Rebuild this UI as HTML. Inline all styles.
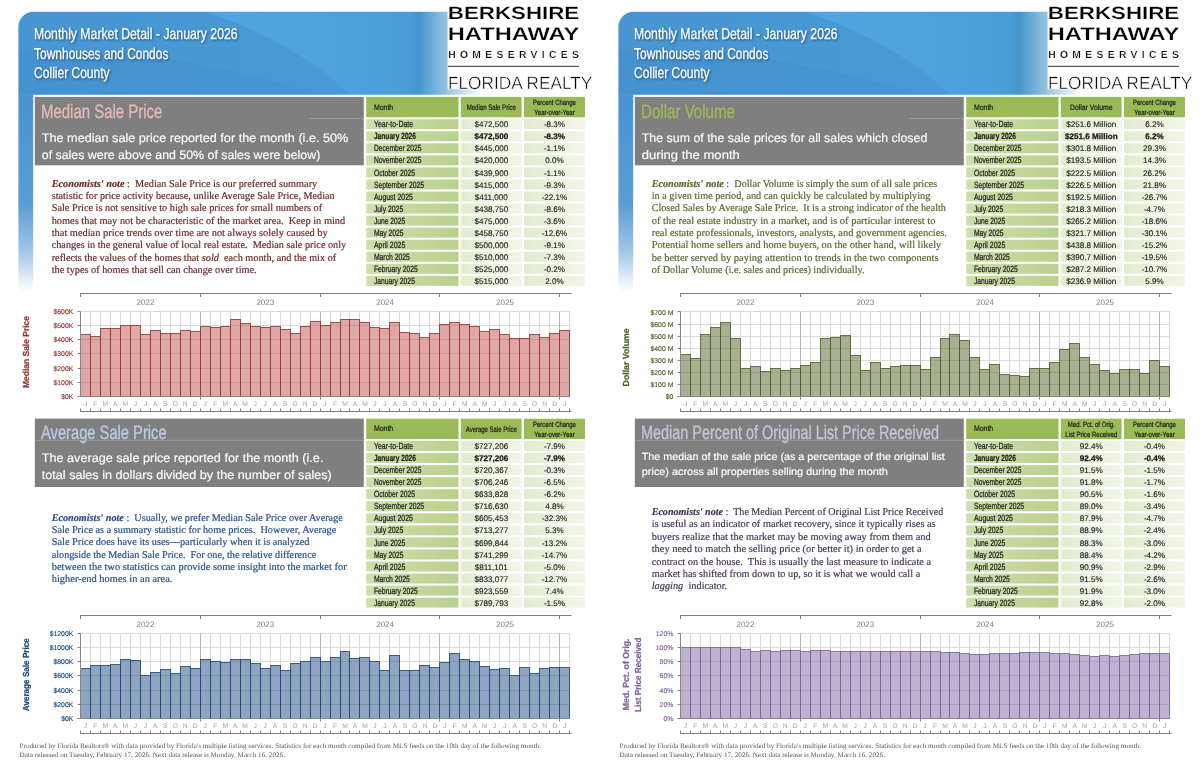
<!DOCTYPE html>
<html lang="en"><head><meta charset="utf-8"><title>Monthly Market Detail - January 2026 - Townhouses and Condos - Collier County</title>
<style>html,body{margin:0;padding:0;background:#fff;}body{width:1200px;height:776px;overflow:hidden;font-family:"Liberation Sans",sans-serif;}svg{display:block;}text{white-space:pre;}</style>
</head><body>
<svg width="1200" height="776" viewBox="0 0 1200 776" text-rendering="geometricPrecision">
<defs>
<linearGradient id="gm" x1="0" y1="0" x2="1" y2="0"><stop offset="0" stop-color="#CEDFAC"/><stop offset="1" stop-color="#BAD08D"/></linearGradient>
<linearGradient id="gc" x1="0" y1="0" x2="1" y2="0"><stop offset="0" stop-color="#E2EBCF"/><stop offset="1" stop-color="#F2F6E9"/></linearGradient>
<filter id="blur" x="-5%" y="-30%" width="110%" height="160%"><feGaussianBlur stdDeviation="0.8"/></filter>
<linearGradient id="gva" gradientUnits="userSpaceOnUse" x1="0" y1="94.7" x2="0" y2="292"><stop offset="0" stop-color="#4A94D0"/><stop offset="0.55" stop-color="#5A9CD4"/><stop offset="0.78" stop-color="#9DC3E6"/><stop offset="0.92" stop-color="#DCE8F5"/><stop offset="1" stop-color="#FFFFFF"/></linearGradient>
<linearGradient id="gha" gradientUnits="userSpaceOnUse" x1="18.4" y1="0" x2="482" y2="0"><stop offset="0" stop-color="#4A98D4"/><stop offset="0.6074" stop-color="#4B9DD8"/><stop offset="0.8425" stop-color="#4A9CD6"/><stop offset="0.8641" stop-color="#4596CC"/><stop offset="0.9258" stop-color="#9AC7E1"/><stop offset="1" stop-color="#FFFFFF"/></linearGradient>
<linearGradient id="gsa" gradientUnits="userSpaceOnUse" x1="230" y1="0" x2="415" y2="0"><stop offset="0" stop-color="#55AEE8" stop-opacity="0.55"/><stop offset="0.5" stop-color="#55AEE8" stop-opacity="0.3"/><stop offset="1" stop-color="#55AEE8" stop-opacity="0"/></linearGradient>
<linearGradient id="gda" gradientUnits="userSpaceOnUse" x1="0" y1="11.8" x2="0" y2="94.7"><stop offset="0" stop-color="#4A9BD6" stop-opacity="0"/><stop offset="1" stop-color="#3F86C4" stop-opacity="0.0"/></linearGradient>
<clipPath id="cpa"><path d="M18.4 94.7 V27 a15.2 15.2 0 0 1 15.2 -15.2 H447.6 V94.7 Z"/></clipPath>
<linearGradient id="gvb" gradientUnits="userSpaceOnUse" x1="0" y1="94.7" x2="0" y2="292"><stop offset="0" stop-color="#4A94D0"/><stop offset="0.55" stop-color="#5A9CD4"/><stop offset="0.78" stop-color="#9DC3E6"/><stop offset="0.92" stop-color="#DCE8F5"/><stop offset="1" stop-color="#FFFFFF"/></linearGradient>
<linearGradient id="ghb" gradientUnits="userSpaceOnUse" x1="618.4" y1="0" x2="1082" y2="0"><stop offset="0" stop-color="#4A98D4"/><stop offset="0.6074" stop-color="#4B9DD8"/><stop offset="0.8425" stop-color="#4A9CD6"/><stop offset="0.8641" stop-color="#4596CC"/><stop offset="0.9258" stop-color="#9AC7E1"/><stop offset="1" stop-color="#FFFFFF"/></linearGradient>
<linearGradient id="gsb" gradientUnits="userSpaceOnUse" x1="830" y1="0" x2="1015" y2="0"><stop offset="0" stop-color="#55AEE8" stop-opacity="0.55"/><stop offset="0.5" stop-color="#55AEE8" stop-opacity="0.3"/><stop offset="1" stop-color="#55AEE8" stop-opacity="0"/></linearGradient>
<linearGradient id="gdb" gradientUnits="userSpaceOnUse" x1="0" y1="11.8" x2="0" y2="94.7"><stop offset="0" stop-color="#4A9BD6" stop-opacity="0"/><stop offset="1" stop-color="#3F86C4" stop-opacity="0.0"/></linearGradient>
<clipPath id="cpb"><path d="M618.4 94.7 V27 a15.2 15.2 0 0 1 15.2 -15.2 H1047.6 V94.7 Z"/></clipPath>
</defs>
<rect x="0.00" y="0.00" width="1200.00" height="776.00" fill="#FFFFFF" />
<g opacity="0.999">
<rect x="18.4" y="94.2" width="14.8" height="198" fill="url(#gva)"/>
<path d="M18.4 94.7 V27 a15.2 15.2 0 0 1 15.2 -15.2 H482 V94.7 Z" fill="url(#gha)"/>
<path d="M18.4 94.7 V27 a15.2 15.2 0 0 1 15.2 -15.2 H482 V94.7 Z" fill="url(#gda)"/>
<path d="M205 11.8 C262 30 318 62 349 94.7 H440 V11.8 Z" fill="url(#gsa)" clip-path="url(#cpa)"/>
<path d="M18.4 11.8 H205 C262 30 318 62 349 94.7 H18.4 Z" fill="#3F86C6" opacity="0.16" clip-path="url(#cpa)"/>
<path d="M18.4 50 C120 48 250 68 312 94.7 H18.4 Z" fill="#3C7FBE" opacity="0.14" clip-path="url(#cpa)"/>
<text x="35.10" y="40.10" font-family='"Liberation Sans", sans-serif' font-size="15.6" fill="#173F6B" textLength="203.50" lengthAdjust="spacingAndGlyphs" opacity="0.75" stroke="#173F6B" stroke-width="0.5" filter="url(#blur)">Monthly Market Detail - January 2026</text>
<text x="34.10" y="38.80" font-family='"Liberation Sans", sans-serif' font-size="15.6" fill="#FFFFFF" textLength="203.50" lengthAdjust="spacingAndGlyphs" stroke="#FFFFFF" stroke-width="0.3">Monthly Market Detail - January 2026</text>
<text x="35.10" y="60.00" font-family='"Liberation Sans", sans-serif' font-size="15.6" fill="#173F6B" textLength="134.30" lengthAdjust="spacingAndGlyphs" opacity="0.75" stroke="#173F6B" stroke-width="0.5" filter="url(#blur)">Townhouses and Condos</text>
<text x="34.10" y="58.70" font-family='"Liberation Sans", sans-serif' font-size="15.6" fill="#FFFFFF" textLength="134.30" lengthAdjust="spacingAndGlyphs" stroke="#FFFFFF" stroke-width="0.3">Townhouses and Condos</text>
<text x="35.10" y="79.30" font-family='"Liberation Sans", sans-serif' font-size="15.6" fill="#173F6B" textLength="75.50" lengthAdjust="spacingAndGlyphs" opacity="0.75" stroke="#173F6B" stroke-width="0.5" filter="url(#blur)">Collier County</text>
<text x="34.10" y="78.00" font-family='"Liberation Sans", sans-serif' font-size="15.6" fill="#FFFFFF" textLength="75.50" lengthAdjust="spacingAndGlyphs" stroke="#FFFFFF" stroke-width="0.3">Collier County</text>
<rect x="447.60" y="0.00" width="152.40" height="89.20" fill="#FFFFFF" />
<text x="447.80" y="19.10" font-family='"Liberation Sans", sans-serif' font-size="17.8" fill="#000" font-weight="bold" textLength="131.40" lengthAdjust="spacingAndGlyphs" stroke="#fff" stroke-width="0.22">BERKSHIRE</text>
<text x="447.80" y="40.10" font-family='"Liberation Sans", sans-serif' font-size="18.2" fill="#000" font-weight="bold" textLength="131.40" lengthAdjust="spacingAndGlyphs" stroke="#fff" stroke-width="0.22">HATHAWAY</text>
<text x="448.20" y="57.80" font-family='"Liberation Sans", sans-serif' font-size="10.3" font-weight="bold" fill="#000" textLength="130.6" lengthAdjust="spacing" stroke="#fff" stroke-width="0.25">HOMESERVICES</text>
<line x1="448.00" y1="66.30" x2="579.00" y2="66.30" stroke="#000" stroke-width="0.8" />
<text x="448.00" y="88.50" font-family='"Liberation Sans", sans-serif' font-size="17.8" fill="#000" textLength="144.20" lengthAdjust="spacingAndGlyphs" stroke="#fff" stroke-width="0.45">FLORIDA REALTY</text>
<rect x="34.80" y="96.90" width="329.00" height="68.40" fill="#7F7F7F" />
<text x="41.00" y="118.00" font-family='"Liberation Sans", sans-serif' font-size="19.4" fill="#E6B9B8" textLength="121.40" lengthAdjust="spacingAndGlyphs" stroke="#E6B9B8" stroke-width="0.3">Median Sale Price</text>
<line x1="309.00" y1="118.60" x2="363.80" y2="118.60" stroke="#A8A8A8" stroke-width="0.7" />
<text x="41.80" y="141.80" font-family='"Liberation Sans", sans-serif' font-size="12.3" fill="#FFFFFF" textLength="306.50" lengthAdjust="spacingAndGlyphs" stroke="#FFFFFF" stroke-width="0.15">The median sale price reported for the month (i.e. 50%</text>
<text x="41.80" y="158.80" font-family='"Liberation Sans", sans-serif' font-size="12.3" fill="#FFFFFF" textLength="278.50" lengthAdjust="spacingAndGlyphs" stroke="#FFFFFF" stroke-width="0.15">of sales were above and 50% of sales were below)</text>
<text x="51.70" y="186.70" font-family='"Liberation Serif", serif' font-size="10.4" fill="#6B2A28" textLength="265.50" lengthAdjust="spacingAndGlyphs" xml:space="preserve" stroke="#6B2A28" stroke-width="0.2"><tspan font-weight='bold' font-style='italic'>Economists' note</tspan> :  Median Sale Price is our preferred summary</text>
<text x="51.70" y="199.02" font-family='"Liberation Serif", serif' font-size="10.4" fill="#6B2A28" textLength="283.00" lengthAdjust="spacingAndGlyphs" xml:space="preserve" stroke="#6B2A28" stroke-width="0.2">statistic for price activity because, unlike Average Sale Price, Median</text>
<text x="51.70" y="211.34" font-family='"Liberation Serif", serif' font-size="10.4" fill="#6B2A28" textLength="270.50" lengthAdjust="spacingAndGlyphs" xml:space="preserve" stroke="#6B2A28" stroke-width="0.2">Sale Price is not sensitive to high sale prices for small numbers of</text>
<text x="51.70" y="223.66" font-family='"Liberation Serif", serif' font-size="10.4" fill="#6B2A28" textLength="293.50" lengthAdjust="spacingAndGlyphs" xml:space="preserve" stroke="#6B2A28" stroke-width="0.2">homes that may not be characteristic of the market area.  Keep in mind</text>
<text x="51.70" y="235.98" font-family='"Liberation Serif", serif' font-size="10.4" fill="#6B2A28" textLength="276.00" lengthAdjust="spacingAndGlyphs" xml:space="preserve" stroke="#6B2A28" stroke-width="0.2">that median price trends over time are not always solely caused by</text>
<text x="51.70" y="248.30" font-family='"Liberation Serif", serif' font-size="10.4" fill="#6B2A28" textLength="294.50" lengthAdjust="spacingAndGlyphs" xml:space="preserve" stroke="#6B2A28" stroke-width="0.2">changes in the general value of local real estate.  Median sale price only</text>
<text x="51.70" y="260.62" font-family='"Liberation Serif", serif' font-size="10.4" fill="#6B2A28" textLength="284.50" lengthAdjust="spacingAndGlyphs" xml:space="preserve" stroke="#6B2A28" stroke-width="0.2">reflects the values of the homes that <tspan font-style='italic'>sold</tspan>  each month, and the mix of</text>
<text x="51.70" y="272.94" font-family='"Liberation Serif", serif' font-size="10.4" fill="#6B2A28" textLength="205.00" lengthAdjust="spacingAndGlyphs" xml:space="preserve" stroke="#6B2A28" stroke-width="0.2">the types of homes that sell can change over time.</text>
<rect x="366.20" y="96.90" width="92.30" height="20.40" fill="#9BBB59" />
<rect x="460.80" y="96.90" width="60.80" height="20.40" fill="#9BBB59" />
<rect x="524.00" y="96.90" width="61.00" height="20.40" fill="#9BBB59" />
<text x="373.90" y="109.50" font-family='"Liberation Sans", sans-serif' font-size="7.9" fill="#1A1A1A" textLength="19.30" lengthAdjust="spacingAndGlyphs" stroke="#1A1A1A" stroke-width="0.22">Month</text>
<text x="491.30" y="109.90" font-family='"Liberation Sans", sans-serif' font-size="8.0" fill="#1A1A1A" text-anchor="middle" textLength="49.30" lengthAdjust="spacingAndGlyphs" stroke="#1A1A1A" stroke-width="0.22">Median Sale Price</text>
<text x="554.50" y="104.80" font-family='"Liberation Sans", sans-serif' font-size="7.6" fill="#1A1A1A" text-anchor="middle" textLength="42.80" lengthAdjust="spacingAndGlyphs" stroke="#1A1A1A" stroke-width="0.22">Percent Change</text>
<text x="554.50" y="115.20" font-family='"Liberation Sans", sans-serif' font-size="7.6" fill="#1A1A1A" text-anchor="middle" textLength="40.30" lengthAdjust="spacingAndGlyphs" stroke="#1A1A1A" stroke-width="0.22">Year-over-Year</text>
<rect x="366.20" y="119.20" width="92.30" height="10.00" fill="url(#gm)" />
<rect x="460.80" y="119.20" width="60.80" height="10.00" fill="url(#gc)" />
<rect x="524.00" y="119.20" width="61.00" height="10.00" fill="url(#gc)" />
<text x="373.90" y="127.30" font-family='"Liberation Sans", sans-serif' font-size="9.0" fill="#1A1A1A" textLength="39.20" lengthAdjust="spacingAndGlyphs" stroke="#1A1A1A" stroke-width="0.22">Year-to-Date</text>
<text x="491.30" y="127.30" font-family='"Liberation Sans", sans-serif' font-size="8.1" fill="#1A1A1A" text-anchor="middle" stroke="#1A1A1A" stroke-width="0.12">$472,500</text>
<text x="554.50" y="127.30" font-family='"Liberation Sans", sans-serif' font-size="8.1" fill="#1A1A1A" text-anchor="middle" stroke="#1A1A1A" stroke-width="0.12">-8.3%</text>
<rect x="366.20" y="131.25" width="92.30" height="10.00" fill="url(#gm)" />
<rect x="460.80" y="131.25" width="60.80" height="10.00" fill="url(#gc)" />
<rect x="524.00" y="131.25" width="61.00" height="10.00" fill="url(#gc)" />
<text x="373.90" y="139.35" font-family='"Liberation Sans", sans-serif' font-size="9.0" fill="#1A1A1A" font-weight="bold" textLength="42.10" lengthAdjust="spacingAndGlyphs" stroke="#1A1A1A" stroke-width="0.2">January 2026</text>
<text x="491.30" y="139.35" font-family='"Liberation Sans", sans-serif' font-size="8.1" fill="#1A1A1A" font-weight="bold" text-anchor="middle" stroke="#1A1A1A" stroke-width="0.25">$472,500</text>
<text x="554.50" y="139.35" font-family='"Liberation Sans", sans-serif' font-size="8.1" fill="#1A1A1A" font-weight="bold" text-anchor="middle" stroke="#1A1A1A" stroke-width="0.25">-8.3%</text>
<rect x="366.20" y="143.30" width="92.30" height="10.00" fill="url(#gm)" />
<rect x="460.80" y="143.30" width="60.80" height="10.00" fill="url(#gc)" />
<rect x="524.00" y="143.30" width="61.00" height="10.00" fill="url(#gc)" />
<text x="373.90" y="151.40" font-family='"Liberation Sans", sans-serif' font-size="9.0" fill="#1A1A1A" textLength="47.60" lengthAdjust="spacingAndGlyphs" stroke="#1A1A1A" stroke-width="0.22">December 2025</text>
<text x="491.30" y="151.40" font-family='"Liberation Sans", sans-serif' font-size="8.1" fill="#1A1A1A" text-anchor="middle" stroke="#1A1A1A" stroke-width="0.12">$445,000</text>
<text x="554.50" y="151.40" font-family='"Liberation Sans", sans-serif' font-size="8.1" fill="#1A1A1A" text-anchor="middle" stroke="#1A1A1A" stroke-width="0.12">-1.1%</text>
<rect x="366.20" y="155.35" width="92.30" height="10.00" fill="url(#gm)" />
<rect x="460.80" y="155.35" width="60.80" height="10.00" fill="url(#gc)" />
<rect x="524.00" y="155.35" width="61.00" height="10.00" fill="url(#gc)" />
<text x="373.90" y="163.45" font-family='"Liberation Sans", sans-serif' font-size="9.0" fill="#1A1A1A" textLength="47.60" lengthAdjust="spacingAndGlyphs" stroke="#1A1A1A" stroke-width="0.22">November 2025</text>
<text x="491.30" y="163.45" font-family='"Liberation Sans", sans-serif' font-size="8.1" fill="#1A1A1A" text-anchor="middle" stroke="#1A1A1A" stroke-width="0.12">$420,000</text>
<text x="554.50" y="163.45" font-family='"Liberation Sans", sans-serif' font-size="8.1" fill="#1A1A1A" text-anchor="middle" stroke="#1A1A1A" stroke-width="0.12">0.0%</text>
<rect x="366.20" y="167.40" width="92.30" height="10.00" fill="url(#gm)" />
<rect x="460.80" y="167.40" width="60.80" height="10.00" fill="url(#gc)" />
<rect x="524.00" y="167.40" width="61.00" height="10.00" fill="url(#gc)" />
<text x="373.90" y="175.50" font-family='"Liberation Sans", sans-serif' font-size="9.0" fill="#1A1A1A" textLength="41.10" lengthAdjust="spacingAndGlyphs" stroke="#1A1A1A" stroke-width="0.22">October 2025</text>
<text x="491.30" y="175.50" font-family='"Liberation Sans", sans-serif' font-size="8.1" fill="#1A1A1A" text-anchor="middle" stroke="#1A1A1A" stroke-width="0.12">$439,900</text>
<text x="554.50" y="175.50" font-family='"Liberation Sans", sans-serif' font-size="8.1" fill="#1A1A1A" text-anchor="middle" stroke="#1A1A1A" stroke-width="0.12">-1.1%</text>
<rect x="366.20" y="179.45" width="92.30" height="10.00" fill="url(#gm)" />
<rect x="460.80" y="179.45" width="60.80" height="10.00" fill="url(#gc)" />
<rect x="524.00" y="179.45" width="61.00" height="10.00" fill="url(#gc)" />
<text x="373.90" y="187.55" font-family='"Liberation Sans", sans-serif' font-size="9.0" fill="#1A1A1A" textLength="50.10" lengthAdjust="spacingAndGlyphs" stroke="#1A1A1A" stroke-width="0.22">September 2025</text>
<text x="491.30" y="187.55" font-family='"Liberation Sans", sans-serif' font-size="8.1" fill="#1A1A1A" text-anchor="middle" stroke="#1A1A1A" stroke-width="0.12">$415,000</text>
<text x="554.50" y="187.55" font-family='"Liberation Sans", sans-serif' font-size="8.1" fill="#1A1A1A" text-anchor="middle" stroke="#1A1A1A" stroke-width="0.12">-9.3%</text>
<rect x="366.20" y="191.50" width="92.30" height="10.00" fill="url(#gm)" />
<rect x="460.80" y="191.50" width="60.80" height="10.00" fill="url(#gc)" />
<rect x="524.00" y="191.50" width="61.00" height="10.00" fill="url(#gc)" />
<text x="373.90" y="199.60" font-family='"Liberation Sans", sans-serif' font-size="9.0" fill="#1A1A1A" textLength="39.00" lengthAdjust="spacingAndGlyphs" stroke="#1A1A1A" stroke-width="0.22">August 2025</text>
<text x="491.30" y="199.60" font-family='"Liberation Sans", sans-serif' font-size="8.1" fill="#1A1A1A" text-anchor="middle" stroke="#1A1A1A" stroke-width="0.12">$411,000</text>
<text x="554.50" y="199.60" font-family='"Liberation Sans", sans-serif' font-size="8.1" fill="#1A1A1A" text-anchor="middle" stroke="#1A1A1A" stroke-width="0.12">-22.1%</text>
<rect x="366.20" y="203.55" width="92.30" height="10.00" fill="url(#gm)" />
<rect x="460.80" y="203.55" width="60.80" height="10.00" fill="url(#gc)" />
<rect x="524.00" y="203.55" width="61.00" height="10.00" fill="url(#gc)" />
<text x="373.90" y="211.65" font-family='"Liberation Sans", sans-serif' font-size="9.0" fill="#1A1A1A" textLength="29.30" lengthAdjust="spacingAndGlyphs" stroke="#1A1A1A" stroke-width="0.22">July 2025</text>
<text x="491.30" y="211.65" font-family='"Liberation Sans", sans-serif' font-size="8.1" fill="#1A1A1A" text-anchor="middle" stroke="#1A1A1A" stroke-width="0.12">$438,750</text>
<text x="554.50" y="211.65" font-family='"Liberation Sans", sans-serif' font-size="8.1" fill="#1A1A1A" text-anchor="middle" stroke="#1A1A1A" stroke-width="0.12">-8.6%</text>
<rect x="366.20" y="215.60" width="92.30" height="10.00" fill="url(#gm)" />
<rect x="460.80" y="215.60" width="60.80" height="10.00" fill="url(#gc)" />
<rect x="524.00" y="215.60" width="61.00" height="10.00" fill="url(#gc)" />
<text x="373.90" y="223.70" font-family='"Liberation Sans", sans-serif' font-size="9.0" fill="#1A1A1A" textLength="31.40" lengthAdjust="spacingAndGlyphs" stroke="#1A1A1A" stroke-width="0.22">June 2025</text>
<text x="491.30" y="223.70" font-family='"Liberation Sans", sans-serif' font-size="8.1" fill="#1A1A1A" text-anchor="middle" stroke="#1A1A1A" stroke-width="0.12">$475,000</text>
<text x="554.50" y="223.70" font-family='"Liberation Sans", sans-serif' font-size="8.1" fill="#1A1A1A" text-anchor="middle" stroke="#1A1A1A" stroke-width="0.12">-3.6%</text>
<rect x="366.20" y="227.65" width="92.30" height="10.00" fill="url(#gm)" />
<rect x="460.80" y="227.65" width="60.80" height="10.00" fill="url(#gc)" />
<rect x="524.00" y="227.65" width="61.00" height="10.00" fill="url(#gc)" />
<text x="373.90" y="235.75" font-family='"Liberation Sans", sans-serif' font-size="9.0" fill="#1A1A1A" textLength="29.60" lengthAdjust="spacingAndGlyphs" stroke="#1A1A1A" stroke-width="0.22">May 2025</text>
<text x="491.30" y="235.75" font-family='"Liberation Sans", sans-serif' font-size="8.1" fill="#1A1A1A" text-anchor="middle" stroke="#1A1A1A" stroke-width="0.12">$458,750</text>
<text x="554.50" y="235.75" font-family='"Liberation Sans", sans-serif' font-size="8.1" fill="#1A1A1A" text-anchor="middle" stroke="#1A1A1A" stroke-width="0.12">-12.6%</text>
<rect x="366.20" y="239.70" width="92.30" height="10.00" fill="url(#gm)" />
<rect x="460.80" y="239.70" width="60.80" height="10.00" fill="url(#gc)" />
<rect x="524.00" y="239.70" width="61.00" height="10.00" fill="url(#gc)" />
<text x="373.90" y="247.80" font-family='"Liberation Sans", sans-serif' font-size="9.0" fill="#1A1A1A" textLength="31.50" lengthAdjust="spacingAndGlyphs" stroke="#1A1A1A" stroke-width="0.22">April 2025</text>
<text x="491.30" y="247.80" font-family='"Liberation Sans", sans-serif' font-size="8.1" fill="#1A1A1A" text-anchor="middle" stroke="#1A1A1A" stroke-width="0.12">$500,000</text>
<text x="554.50" y="247.80" font-family='"Liberation Sans", sans-serif' font-size="8.1" fill="#1A1A1A" text-anchor="middle" stroke="#1A1A1A" stroke-width="0.12">-9.1%</text>
<rect x="366.20" y="251.75" width="92.30" height="10.00" fill="url(#gm)" />
<rect x="460.80" y="251.75" width="60.80" height="10.00" fill="url(#gc)" />
<rect x="524.00" y="251.75" width="61.00" height="10.00" fill="url(#gc)" />
<text x="373.90" y="259.85" font-family='"Liberation Sans", sans-serif' font-size="9.0" fill="#1A1A1A" textLength="36.00" lengthAdjust="spacingAndGlyphs" stroke="#1A1A1A" stroke-width="0.22">March 2025</text>
<text x="491.30" y="259.85" font-family='"Liberation Sans", sans-serif' font-size="8.1" fill="#1A1A1A" text-anchor="middle" stroke="#1A1A1A" stroke-width="0.12">$510,000</text>
<text x="554.50" y="259.85" font-family='"Liberation Sans", sans-serif' font-size="8.1" fill="#1A1A1A" text-anchor="middle" stroke="#1A1A1A" stroke-width="0.12">-7.3%</text>
<rect x="366.20" y="263.80" width="92.30" height="10.00" fill="url(#gm)" />
<rect x="460.80" y="263.80" width="60.80" height="10.00" fill="url(#gc)" />
<rect x="524.00" y="263.80" width="61.00" height="10.00" fill="url(#gc)" />
<text x="373.90" y="271.90" font-family='"Liberation Sans", sans-serif' font-size="9.0" fill="#1A1A1A" textLength="43.80" lengthAdjust="spacingAndGlyphs" stroke="#1A1A1A" stroke-width="0.22">February 2025</text>
<text x="491.30" y="271.90" font-family='"Liberation Sans", sans-serif' font-size="8.1" fill="#1A1A1A" text-anchor="middle" stroke="#1A1A1A" stroke-width="0.12">$525,000</text>
<text x="554.50" y="271.90" font-family='"Liberation Sans", sans-serif' font-size="8.1" fill="#1A1A1A" text-anchor="middle" stroke="#1A1A1A" stroke-width="0.12">-0.2%</text>
<rect x="366.20" y="275.85" width="92.30" height="10.00" fill="url(#gm)" />
<rect x="460.80" y="275.85" width="60.80" height="10.00" fill="url(#gc)" />
<rect x="524.00" y="275.85" width="61.00" height="10.00" fill="url(#gc)" />
<text x="373.90" y="283.95" font-family='"Liberation Sans", sans-serif' font-size="9.0" fill="#1A1A1A" textLength="41.00" lengthAdjust="spacingAndGlyphs" stroke="#1A1A1A" stroke-width="0.22">January 2025</text>
<text x="491.30" y="283.95" font-family='"Liberation Sans", sans-serif' font-size="8.1" fill="#1A1A1A" text-anchor="middle" stroke="#1A1A1A" stroke-width="0.12">$515,000</text>
<text x="554.50" y="283.95" font-family='"Liberation Sans", sans-serif' font-size="8.1" fill="#1A1A1A" text-anchor="middle" stroke="#1A1A1A" stroke-width="0.12">2.0%</text>
<line x1="80.50" y1="311.50" x2="569.50" y2="311.50" stroke="#DADADA" stroke-width="1" />
<line x1="80.50" y1="396.50" x2="569.50" y2="396.50" stroke="#DADADA" stroke-width="1" />
<line x1="80.50" y1="382.50" x2="569.50" y2="382.50" stroke="#DADADA" stroke-width="1" />
<line x1="80.50" y1="368.50" x2="569.50" y2="368.50" stroke="#DADADA" stroke-width="1" />
<line x1="80.50" y1="353.50" x2="569.50" y2="353.50" stroke="#DADADA" stroke-width="1" />
<line x1="80.50" y1="339.50" x2="569.50" y2="339.50" stroke="#DADADA" stroke-width="1" />
<line x1="80.50" y1="325.50" x2="569.50" y2="325.50" stroke="#DADADA" stroke-width="1" />
<line x1="80.50" y1="311.50" x2="80.50" y2="396.50" stroke="#DADADA" stroke-width="1" />
<line x1="90.50" y1="311.50" x2="90.50" y2="396.50" stroke="#DADADA" stroke-width="1" />
<line x1="100.50" y1="311.50" x2="100.50" y2="396.50" stroke="#DADADA" stroke-width="1" />
<line x1="110.50" y1="311.50" x2="110.50" y2="396.50" stroke="#DADADA" stroke-width="1" />
<line x1="120.50" y1="311.50" x2="120.50" y2="396.50" stroke="#DADADA" stroke-width="1" />
<line x1="130.50" y1="311.50" x2="130.50" y2="396.50" stroke="#DADADA" stroke-width="1" />
<line x1="140.50" y1="311.50" x2="140.50" y2="396.50" stroke="#DADADA" stroke-width="1" />
<line x1="150.50" y1="311.50" x2="150.50" y2="396.50" stroke="#DADADA" stroke-width="1" />
<line x1="160.50" y1="311.50" x2="160.50" y2="396.50" stroke="#DADADA" stroke-width="1" />
<line x1="170.50" y1="311.50" x2="170.50" y2="396.50" stroke="#DADADA" stroke-width="1" />
<line x1="180.50" y1="311.50" x2="180.50" y2="396.50" stroke="#DADADA" stroke-width="1" />
<line x1="190.50" y1="311.50" x2="190.50" y2="396.50" stroke="#DADADA" stroke-width="1" />
<line x1="200.50" y1="311.50" x2="200.50" y2="396.50" stroke="#DADADA" stroke-width="1" />
<line x1="210.50" y1="311.50" x2="210.50" y2="396.50" stroke="#DADADA" stroke-width="1" />
<line x1="220.50" y1="311.50" x2="220.50" y2="396.50" stroke="#DADADA" stroke-width="1" />
<line x1="230.50" y1="311.50" x2="230.50" y2="396.50" stroke="#DADADA" stroke-width="1" />
<line x1="240.50" y1="311.50" x2="240.50" y2="396.50" stroke="#DADADA" stroke-width="1" />
<line x1="250.50" y1="311.50" x2="250.50" y2="396.50" stroke="#DADADA" stroke-width="1" />
<line x1="260.50" y1="311.50" x2="260.50" y2="396.50" stroke="#DADADA" stroke-width="1" />
<line x1="270.50" y1="311.50" x2="270.50" y2="396.50" stroke="#DADADA" stroke-width="1" />
<line x1="280.50" y1="311.50" x2="280.50" y2="396.50" stroke="#DADADA" stroke-width="1" />
<line x1="290.50" y1="311.50" x2="290.50" y2="396.50" stroke="#DADADA" stroke-width="1" />
<line x1="300.50" y1="311.50" x2="300.50" y2="396.50" stroke="#DADADA" stroke-width="1" />
<line x1="310.50" y1="311.50" x2="310.50" y2="396.50" stroke="#DADADA" stroke-width="1" />
<line x1="320.50" y1="311.50" x2="320.50" y2="396.50" stroke="#DADADA" stroke-width="1" />
<line x1="330.50" y1="311.50" x2="330.50" y2="396.50" stroke="#DADADA" stroke-width="1" />
<line x1="340.50" y1="311.50" x2="340.50" y2="396.50" stroke="#DADADA" stroke-width="1" />
<line x1="349.50" y1="311.50" x2="349.50" y2="396.50" stroke="#DADADA" stroke-width="1" />
<line x1="359.50" y1="311.50" x2="359.50" y2="396.50" stroke="#DADADA" stroke-width="1" />
<line x1="369.50" y1="311.50" x2="369.50" y2="396.50" stroke="#DADADA" stroke-width="1" />
<line x1="379.50" y1="311.50" x2="379.50" y2="396.50" stroke="#DADADA" stroke-width="1" />
<line x1="389.50" y1="311.50" x2="389.50" y2="396.50" stroke="#DADADA" stroke-width="1" />
<line x1="399.50" y1="311.50" x2="399.50" y2="396.50" stroke="#DADADA" stroke-width="1" />
<line x1="409.50" y1="311.50" x2="409.50" y2="396.50" stroke="#DADADA" stroke-width="1" />
<line x1="419.50" y1="311.50" x2="419.50" y2="396.50" stroke="#DADADA" stroke-width="1" />
<line x1="429.50" y1="311.50" x2="429.50" y2="396.50" stroke="#DADADA" stroke-width="1" />
<line x1="439.50" y1="311.50" x2="439.50" y2="396.50" stroke="#DADADA" stroke-width="1" />
<line x1="449.50" y1="311.50" x2="449.50" y2="396.50" stroke="#DADADA" stroke-width="1" />
<line x1="459.50" y1="311.50" x2="459.50" y2="396.50" stroke="#DADADA" stroke-width="1" />
<line x1="469.50" y1="311.50" x2="469.50" y2="396.50" stroke="#DADADA" stroke-width="1" />
<line x1="479.50" y1="311.50" x2="479.50" y2="396.50" stroke="#DADADA" stroke-width="1" />
<line x1="489.50" y1="311.50" x2="489.50" y2="396.50" stroke="#DADADA" stroke-width="1" />
<line x1="499.50" y1="311.50" x2="499.50" y2="396.50" stroke="#DADADA" stroke-width="1" />
<line x1="509.50" y1="311.50" x2="509.50" y2="396.50" stroke="#DADADA" stroke-width="1" />
<line x1="519.50" y1="311.50" x2="519.50" y2="396.50" stroke="#DADADA" stroke-width="1" />
<line x1="529.50" y1="311.50" x2="529.50" y2="396.50" stroke="#DADADA" stroke-width="1" />
<line x1="539.50" y1="311.50" x2="539.50" y2="396.50" stroke="#DADADA" stroke-width="1" />
<line x1="549.50" y1="311.50" x2="549.50" y2="396.50" stroke="#DADADA" stroke-width="1" />
<line x1="559.50" y1="311.50" x2="559.50" y2="396.50" stroke="#DADADA" stroke-width="1" />
<line x1="569.50" y1="311.50" x2="569.50" y2="396.50" stroke="#DADADA" stroke-width="1" />
<line x1="200.50" y1="311.50" x2="200.50" y2="396.50" stroke="#B5B5B5" stroke-width="1" />
<line x1="320.50" y1="311.50" x2="320.50" y2="396.50" stroke="#B5B5B5" stroke-width="1" />
<line x1="439.50" y1="311.50" x2="439.50" y2="396.50" stroke="#B5B5B5" stroke-width="1" />
<line x1="559.50" y1="311.50" x2="559.50" y2="396.50" stroke="#B5B5B5" stroke-width="1" />
<rect x="80.5" y="334.5" width="10.0" height="62.0" fill="#C0504D" fill-opacity="0.5" stroke="#953735" stroke-width="1" stroke-opacity="0.85"/>
<rect x="90.5" y="336.5" width="10.0" height="60.0" fill="#C0504D" fill-opacity="0.5" stroke="#953735" stroke-width="1" stroke-opacity="0.85"/>
<rect x="100.5" y="328.5" width="10.0" height="68.0" fill="#C0504D" fill-opacity="0.5" stroke="#953735" stroke-width="1" stroke-opacity="0.85"/>
<rect x="110.5" y="328.5" width="10.0" height="68.0" fill="#C0504D" fill-opacity="0.5" stroke="#953735" stroke-width="1" stroke-opacity="0.85"/>
<rect x="120.5" y="325.5" width="10.0" height="71.0" fill="#C0504D" fill-opacity="0.5" stroke="#953735" stroke-width="1" stroke-opacity="0.85"/>
<rect x="130.5" y="325.5" width="10.0" height="71.0" fill="#C0504D" fill-opacity="0.5" stroke="#953735" stroke-width="1" stroke-opacity="0.85"/>
<rect x="140.5" y="334.5" width="10.0" height="62.0" fill="#C0504D" fill-opacity="0.5" stroke="#953735" stroke-width="1" stroke-opacity="0.85"/>
<rect x="150.5" y="330.5" width="10.0" height="66.0" fill="#C0504D" fill-opacity="0.5" stroke="#953735" stroke-width="1" stroke-opacity="0.85"/>
<rect x="160.5" y="333.5" width="10.0" height="63.0" fill="#C0504D" fill-opacity="0.5" stroke="#953735" stroke-width="1" stroke-opacity="0.85"/>
<rect x="170.5" y="333.5" width="10.0" height="63.0" fill="#C0504D" fill-opacity="0.5" stroke="#953735" stroke-width="1" stroke-opacity="0.85"/>
<rect x="180.5" y="330.5" width="10.0" height="66.0" fill="#C0504D" fill-opacity="0.5" stroke="#953735" stroke-width="1" stroke-opacity="0.85"/>
<rect x="190.5" y="331.5" width="10.0" height="65.0" fill="#C0504D" fill-opacity="0.5" stroke="#953735" stroke-width="1" stroke-opacity="0.85"/>
<rect x="200.5" y="326.5" width="10.0" height="70.0" fill="#C0504D" fill-opacity="0.5" stroke="#953735" stroke-width="1" stroke-opacity="0.85"/>
<rect x="210.5" y="327.5" width="10.0" height="69.0" fill="#C0504D" fill-opacity="0.5" stroke="#953735" stroke-width="1" stroke-opacity="0.85"/>
<rect x="220.5" y="326.5" width="10.0" height="70.0" fill="#C0504D" fill-opacity="0.5" stroke="#953735" stroke-width="1" stroke-opacity="0.85"/>
<rect x="230.5" y="319.5" width="10.0" height="77.0" fill="#C0504D" fill-opacity="0.5" stroke="#953735" stroke-width="1" stroke-opacity="0.85"/>
<rect x="240.5" y="323.5" width="10.0" height="73.0" fill="#C0504D" fill-opacity="0.5" stroke="#953735" stroke-width="1" stroke-opacity="0.85"/>
<rect x="250.5" y="326.5" width="10.0" height="70.0" fill="#C0504D" fill-opacity="0.5" stroke="#953735" stroke-width="1" stroke-opacity="0.85"/>
<rect x="260.5" y="327.5" width="10.0" height="69.0" fill="#C0504D" fill-opacity="0.5" stroke="#953735" stroke-width="1" stroke-opacity="0.85"/>
<rect x="270.5" y="326.5" width="10.0" height="70.0" fill="#C0504D" fill-opacity="0.5" stroke="#953735" stroke-width="1" stroke-opacity="0.85"/>
<rect x="280.5" y="329.5" width="10.0" height="67.0" fill="#C0504D" fill-opacity="0.5" stroke="#953735" stroke-width="1" stroke-opacity="0.85"/>
<rect x="290.5" y="333.5" width="10.0" height="63.0" fill="#C0504D" fill-opacity="0.5" stroke="#953735" stroke-width="1" stroke-opacity="0.85"/>
<rect x="300.5" y="326.5" width="10.0" height="70.0" fill="#C0504D" fill-opacity="0.5" stroke="#953735" stroke-width="1" stroke-opacity="0.85"/>
<rect x="310.5" y="321.5" width="10.0" height="75.0" fill="#C0504D" fill-opacity="0.5" stroke="#953735" stroke-width="1" stroke-opacity="0.85"/>
<rect x="320.5" y="325.5" width="10.0" height="71.0" fill="#C0504D" fill-opacity="0.5" stroke="#953735" stroke-width="1" stroke-opacity="0.85"/>
<rect x="330.5" y="322.5" width="10.0" height="74.0" fill="#C0504D" fill-opacity="0.5" stroke="#953735" stroke-width="1" stroke-opacity="0.85"/>
<rect x="340.5" y="319.5" width="9.0" height="77.0" fill="#C0504D" fill-opacity="0.5" stroke="#953735" stroke-width="1" stroke-opacity="0.85"/>
<rect x="349.5" y="319.5" width="10.0" height="77.0" fill="#C0504D" fill-opacity="0.5" stroke="#953735" stroke-width="1" stroke-opacity="0.85"/>
<rect x="359.5" y="322.5" width="10.0" height="74.0" fill="#C0504D" fill-opacity="0.5" stroke="#953735" stroke-width="1" stroke-opacity="0.85"/>
<rect x="369.5" y="327.5" width="10.0" height="69.0" fill="#C0504D" fill-opacity="0.5" stroke="#953735" stroke-width="1" stroke-opacity="0.85"/>
<rect x="379.5" y="328.5" width="10.0" height="68.0" fill="#C0504D" fill-opacity="0.5" stroke="#953735" stroke-width="1" stroke-opacity="0.85"/>
<rect x="389.5" y="322.5" width="10.0" height="74.0" fill="#C0504D" fill-opacity="0.5" stroke="#953735" stroke-width="1" stroke-opacity="0.85"/>
<rect x="399.5" y="332.5" width="10.0" height="64.0" fill="#C0504D" fill-opacity="0.5" stroke="#953735" stroke-width="1" stroke-opacity="0.85"/>
<rect x="409.5" y="333.5" width="10.0" height="63.0" fill="#C0504D" fill-opacity="0.5" stroke="#953735" stroke-width="1" stroke-opacity="0.85"/>
<rect x="419.5" y="337.5" width="10.0" height="59.0" fill="#C0504D" fill-opacity="0.5" stroke="#953735" stroke-width="1" stroke-opacity="0.85"/>
<rect x="429.5" y="333.5" width="10.0" height="63.0" fill="#C0504D" fill-opacity="0.5" stroke="#953735" stroke-width="1" stroke-opacity="0.85"/>
<rect x="439.5" y="324.5" width="10.0" height="72.0" fill="#C0504D" fill-opacity="0.5" stroke="#953735" stroke-width="1" stroke-opacity="0.85"/>
<rect x="449.5" y="322.5" width="10.0" height="74.0" fill="#C0504D" fill-opacity="0.5" stroke="#953735" stroke-width="1" stroke-opacity="0.85"/>
<rect x="459.5" y="324.5" width="10.0" height="72.0" fill="#C0504D" fill-opacity="0.5" stroke="#953735" stroke-width="1" stroke-opacity="0.85"/>
<rect x="469.5" y="326.5" width="10.0" height="70.0" fill="#C0504D" fill-opacity="0.5" stroke="#953735" stroke-width="1" stroke-opacity="0.85"/>
<rect x="479.5" y="331.5" width="10.0" height="65.0" fill="#C0504D" fill-opacity="0.5" stroke="#953735" stroke-width="1" stroke-opacity="0.85"/>
<rect x="489.5" y="329.5" width="10.0" height="67.0" fill="#C0504D" fill-opacity="0.5" stroke="#953735" stroke-width="1" stroke-opacity="0.85"/>
<rect x="499.5" y="334.5" width="10.0" height="62.0" fill="#C0504D" fill-opacity="0.5" stroke="#953735" stroke-width="1" stroke-opacity="0.85"/>
<rect x="509.5" y="338.5" width="10.0" height="58.0" fill="#C0504D" fill-opacity="0.5" stroke="#953735" stroke-width="1" stroke-opacity="0.85"/>
<rect x="519.5" y="338.5" width="10.0" height="58.0" fill="#C0504D" fill-opacity="0.5" stroke="#953735" stroke-width="1" stroke-opacity="0.85"/>
<rect x="529.5" y="334.5" width="10.0" height="62.0" fill="#C0504D" fill-opacity="0.5" stroke="#953735" stroke-width="1" stroke-opacity="0.85"/>
<rect x="539.5" y="337.5" width="10.0" height="59.0" fill="#C0504D" fill-opacity="0.5" stroke="#953735" stroke-width="1" stroke-opacity="0.85"/>
<rect x="549.5" y="333.5" width="10.0" height="63.0" fill="#C0504D" fill-opacity="0.5" stroke="#953735" stroke-width="1" stroke-opacity="0.85"/>
<rect x="559.5" y="330.5" width="10.0" height="66.0" fill="#C0504D" fill-opacity="0.5" stroke="#953735" stroke-width="1" stroke-opacity="0.85"/>
<line x1="80.50" y1="311.50" x2="80.50" y2="396.50" stroke="#868686" stroke-width="1" />
<line x1="77.50" y1="396.50" x2="569.50" y2="396.50" stroke="#868686" stroke-width="1" />
<line x1="77.50" y1="396.50" x2="80.50" y2="396.50" stroke="#868686" stroke-width="1" />
<text x="73.40" y="398.95" font-family='"Liberation Sans", sans-serif' font-size="6.9" fill="#953735" text-anchor="end" stroke="#953735" stroke-width="0.15">$0K</text>
<line x1="77.50" y1="382.50" x2="80.50" y2="382.50" stroke="#868686" stroke-width="1" />
<text x="73.40" y="384.78" font-family='"Liberation Sans", sans-serif' font-size="6.9" fill="#953735" text-anchor="end" stroke="#953735" stroke-width="0.15">$100K</text>
<line x1="77.50" y1="368.50" x2="80.50" y2="368.50" stroke="#868686" stroke-width="1" />
<text x="73.40" y="370.62" font-family='"Liberation Sans", sans-serif' font-size="6.9" fill="#953735" text-anchor="end" stroke="#953735" stroke-width="0.15">$200K</text>
<line x1="77.50" y1="353.50" x2="80.50" y2="353.50" stroke="#868686" stroke-width="1" />
<text x="73.40" y="356.45" font-family='"Liberation Sans", sans-serif' font-size="6.9" fill="#953735" text-anchor="end" stroke="#953735" stroke-width="0.15">$300K</text>
<line x1="77.50" y1="339.50" x2="80.50" y2="339.50" stroke="#868686" stroke-width="1" />
<text x="73.40" y="342.28" font-family='"Liberation Sans", sans-serif' font-size="6.9" fill="#953735" text-anchor="end" stroke="#953735" stroke-width="0.15">$400K</text>
<line x1="77.50" y1="325.50" x2="80.50" y2="325.50" stroke="#868686" stroke-width="1" />
<text x="73.40" y="328.12" font-family='"Liberation Sans", sans-serif' font-size="6.9" fill="#953735" text-anchor="end" stroke="#953735" stroke-width="0.15">$500K</text>
<line x1="77.50" y1="311.50" x2="80.50" y2="311.50" stroke="#868686" stroke-width="1" />
<text x="73.40" y="313.95" font-family='"Liberation Sans", sans-serif' font-size="6.9" fill="#953735" text-anchor="end" stroke="#953735" stroke-width="0.15">$600K</text>
<line x1="200.50" y1="396.50" x2="200.50" y2="399.50" stroke="#868686" stroke-width="1" />
<line x1="320.50" y1="396.50" x2="320.50" y2="399.50" stroke="#868686" stroke-width="1" />
<line x1="439.50" y1="396.50" x2="439.50" y2="399.50" stroke="#868686" stroke-width="1" />
<line x1="559.50" y1="396.50" x2="559.50" y2="399.50" stroke="#868686" stroke-width="1" />
<line x1="80.00" y1="293.50" x2="571.50" y2="293.50" stroke="#7F7F7F" stroke-width="1" />
<line x1="80.50" y1="293.50" x2="80.50" y2="297.00" stroke="#7F7F7F" stroke-width="1" />
<line x1="200.50" y1="293.50" x2="200.50" y2="297.00" stroke="#7F7F7F" stroke-width="1" />
<line x1="320.50" y1="293.50" x2="320.50" y2="297.00" stroke="#7F7F7F" stroke-width="1" />
<line x1="439.50" y1="293.50" x2="439.50" y2="297.00" stroke="#7F7F7F" stroke-width="1" />
<line x1="559.50" y1="293.50" x2="559.50" y2="297.00" stroke="#7F7F7F" stroke-width="1" />
<text x="145.50" y="305.10" font-family='"Liberation Sans", sans-serif' font-size="8.0" fill="#7F7F7F" text-anchor="middle" >2022</text>
<text x="265.32" y="305.10" font-family='"Liberation Sans", sans-serif' font-size="8.0" fill="#7F7F7F" text-anchor="middle" >2023</text>
<text x="385.13" y="305.10" font-family='"Liberation Sans", sans-serif' font-size="8.0" fill="#7F7F7F" text-anchor="middle" >2024</text>
<text x="504.95" y="305.10" font-family='"Liberation Sans", sans-serif' font-size="8.0" fill="#7F7F7F" text-anchor="middle" >2025</text>
<text x="85.39" y="405.90" font-family='"Liberation Sans", sans-serif' font-size="6.7" fill="#A3A3A3" text-anchor="middle" >J</text>
<text x="95.38" y="405.90" font-family='"Liberation Sans", sans-serif' font-size="6.7" fill="#A3A3A3" text-anchor="middle" >F</text>
<text x="105.36" y="405.90" font-family='"Liberation Sans", sans-serif' font-size="6.7" fill="#A3A3A3" text-anchor="middle" >M</text>
<text x="115.35" y="405.90" font-family='"Liberation Sans", sans-serif' font-size="6.7" fill="#A3A3A3" text-anchor="middle" >A</text>
<text x="125.33" y="405.90" font-family='"Liberation Sans", sans-serif' font-size="6.7" fill="#A3A3A3" text-anchor="middle" >M</text>
<text x="135.32" y="405.90" font-family='"Liberation Sans", sans-serif' font-size="6.7" fill="#A3A3A3" text-anchor="middle" >J</text>
<text x="145.30" y="405.90" font-family='"Liberation Sans", sans-serif' font-size="6.7" fill="#A3A3A3" text-anchor="middle" >J</text>
<text x="155.29" y="405.90" font-family='"Liberation Sans", sans-serif' font-size="6.7" fill="#A3A3A3" text-anchor="middle" >A</text>
<text x="165.27" y="405.90" font-family='"Liberation Sans", sans-serif' font-size="6.7" fill="#A3A3A3" text-anchor="middle" >S</text>
<text x="175.25" y="405.90" font-family='"Liberation Sans", sans-serif' font-size="6.7" fill="#A3A3A3" text-anchor="middle" >O</text>
<text x="185.24" y="405.90" font-family='"Liberation Sans", sans-serif' font-size="6.7" fill="#A3A3A3" text-anchor="middle" >N</text>
<text x="195.22" y="405.90" font-family='"Liberation Sans", sans-serif' font-size="6.7" fill="#A3A3A3" text-anchor="middle" >D</text>
<text x="205.21" y="405.90" font-family='"Liberation Sans", sans-serif' font-size="6.7" fill="#A3A3A3" text-anchor="middle" >J</text>
<text x="215.19" y="405.90" font-family='"Liberation Sans", sans-serif' font-size="6.7" fill="#A3A3A3" text-anchor="middle" >F</text>
<text x="225.18" y="405.90" font-family='"Liberation Sans", sans-serif' font-size="6.7" fill="#A3A3A3" text-anchor="middle" >M</text>
<text x="235.16" y="405.90" font-family='"Liberation Sans", sans-serif' font-size="6.7" fill="#A3A3A3" text-anchor="middle" >A</text>
<text x="245.15" y="405.90" font-family='"Liberation Sans", sans-serif' font-size="6.7" fill="#A3A3A3" text-anchor="middle" >M</text>
<text x="255.13" y="405.90" font-family='"Liberation Sans", sans-serif' font-size="6.7" fill="#A3A3A3" text-anchor="middle" >J</text>
<text x="265.12" y="405.90" font-family='"Liberation Sans", sans-serif' font-size="6.7" fill="#A3A3A3" text-anchor="middle" >J</text>
<text x="275.10" y="405.90" font-family='"Liberation Sans", sans-serif' font-size="6.7" fill="#A3A3A3" text-anchor="middle" >A</text>
<text x="285.09" y="405.90" font-family='"Liberation Sans", sans-serif' font-size="6.7" fill="#A3A3A3" text-anchor="middle" >S</text>
<text x="295.07" y="405.90" font-family='"Liberation Sans", sans-serif' font-size="6.7" fill="#A3A3A3" text-anchor="middle" >O</text>
<text x="305.06" y="405.90" font-family='"Liberation Sans", sans-serif' font-size="6.7" fill="#A3A3A3" text-anchor="middle" >N</text>
<text x="315.04" y="405.90" font-family='"Liberation Sans", sans-serif' font-size="6.7" fill="#A3A3A3" text-anchor="middle" >D</text>
<text x="325.02" y="405.90" font-family='"Liberation Sans", sans-serif' font-size="6.7" fill="#A3A3A3" text-anchor="middle" >J</text>
<text x="335.01" y="405.90" font-family='"Liberation Sans", sans-serif' font-size="6.7" fill="#A3A3A3" text-anchor="middle" >F</text>
<text x="344.99" y="405.90" font-family='"Liberation Sans", sans-serif' font-size="6.7" fill="#A3A3A3" text-anchor="middle" >M</text>
<text x="354.98" y="405.90" font-family='"Liberation Sans", sans-serif' font-size="6.7" fill="#A3A3A3" text-anchor="middle" >A</text>
<text x="364.96" y="405.90" font-family='"Liberation Sans", sans-serif' font-size="6.7" fill="#A3A3A3" text-anchor="middle" >M</text>
<text x="374.95" y="405.90" font-family='"Liberation Sans", sans-serif' font-size="6.7" fill="#A3A3A3" text-anchor="middle" >J</text>
<text x="384.93" y="405.90" font-family='"Liberation Sans", sans-serif' font-size="6.7" fill="#A3A3A3" text-anchor="middle" >J</text>
<text x="394.92" y="405.90" font-family='"Liberation Sans", sans-serif' font-size="6.7" fill="#A3A3A3" text-anchor="middle" >A</text>
<text x="404.90" y="405.90" font-family='"Liberation Sans", sans-serif' font-size="6.7" fill="#A3A3A3" text-anchor="middle" >S</text>
<text x="414.89" y="405.90" font-family='"Liberation Sans", sans-serif' font-size="6.7" fill="#A3A3A3" text-anchor="middle" >O</text>
<text x="424.87" y="405.90" font-family='"Liberation Sans", sans-serif' font-size="6.7" fill="#A3A3A3" text-anchor="middle" >N</text>
<text x="434.86" y="405.90" font-family='"Liberation Sans", sans-serif' font-size="6.7" fill="#A3A3A3" text-anchor="middle" >D</text>
<text x="444.84" y="405.90" font-family='"Liberation Sans", sans-serif' font-size="6.7" fill="#A3A3A3" text-anchor="middle" >J</text>
<text x="454.83" y="405.90" font-family='"Liberation Sans", sans-serif' font-size="6.7" fill="#A3A3A3" text-anchor="middle" >F</text>
<text x="464.81" y="405.90" font-family='"Liberation Sans", sans-serif' font-size="6.7" fill="#A3A3A3" text-anchor="middle" >M</text>
<text x="474.80" y="405.90" font-family='"Liberation Sans", sans-serif' font-size="6.7" fill="#A3A3A3" text-anchor="middle" >A</text>
<text x="484.78" y="405.90" font-family='"Liberation Sans", sans-serif' font-size="6.7" fill="#A3A3A3" text-anchor="middle" >M</text>
<text x="494.76" y="405.90" font-family='"Liberation Sans", sans-serif' font-size="6.7" fill="#A3A3A3" text-anchor="middle" >J</text>
<text x="504.75" y="405.90" font-family='"Liberation Sans", sans-serif' font-size="6.7" fill="#A3A3A3" text-anchor="middle" >J</text>
<text x="514.73" y="405.90" font-family='"Liberation Sans", sans-serif' font-size="6.7" fill="#A3A3A3" text-anchor="middle" >A</text>
<text x="524.72" y="405.90" font-family='"Liberation Sans", sans-serif' font-size="6.7" fill="#A3A3A3" text-anchor="middle" >S</text>
<text x="534.70" y="405.90" font-family='"Liberation Sans", sans-serif' font-size="6.7" fill="#A3A3A3" text-anchor="middle" >O</text>
<text x="544.69" y="405.90" font-family='"Liberation Sans", sans-serif' font-size="6.7" fill="#A3A3A3" text-anchor="middle" >N</text>
<text x="554.67" y="405.90" font-family='"Liberation Sans", sans-serif' font-size="6.7" fill="#A3A3A3" text-anchor="middle" >D</text>
<text x="564.66" y="405.90" font-family='"Liberation Sans", sans-serif' font-size="6.7" fill="#A3A3A3" text-anchor="middle" >J</text>
<line x1="80.00" y1="411.50" x2="571.50" y2="411.50" stroke="#7F7F7F" stroke-width="1" />
<line x1="80.50" y1="408.50" x2="80.50" y2="411.50" stroke="#7F7F7F" stroke-width="1" />
<line x1="90.50" y1="408.50" x2="90.50" y2="411.50" stroke="#7F7F7F" stroke-width="1" />
<line x1="100.50" y1="408.50" x2="100.50" y2="411.50" stroke="#7F7F7F" stroke-width="1" />
<line x1="110.50" y1="408.50" x2="110.50" y2="411.50" stroke="#7F7F7F" stroke-width="1" />
<line x1="120.50" y1="408.50" x2="120.50" y2="411.50" stroke="#7F7F7F" stroke-width="1" />
<line x1="130.50" y1="408.50" x2="130.50" y2="411.50" stroke="#7F7F7F" stroke-width="1" />
<line x1="140.50" y1="408.50" x2="140.50" y2="411.50" stroke="#7F7F7F" stroke-width="1" />
<line x1="150.50" y1="408.50" x2="150.50" y2="411.50" stroke="#7F7F7F" stroke-width="1" />
<line x1="160.50" y1="408.50" x2="160.50" y2="411.50" stroke="#7F7F7F" stroke-width="1" />
<line x1="170.50" y1="408.50" x2="170.50" y2="411.50" stroke="#7F7F7F" stroke-width="1" />
<line x1="180.50" y1="408.50" x2="180.50" y2="411.50" stroke="#7F7F7F" stroke-width="1" />
<line x1="190.50" y1="408.50" x2="190.50" y2="411.50" stroke="#7F7F7F" stroke-width="1" />
<line x1="200.50" y1="408.50" x2="200.50" y2="411.50" stroke="#7F7F7F" stroke-width="1" />
<line x1="210.50" y1="408.50" x2="210.50" y2="411.50" stroke="#7F7F7F" stroke-width="1" />
<line x1="220.50" y1="408.50" x2="220.50" y2="411.50" stroke="#7F7F7F" stroke-width="1" />
<line x1="230.50" y1="408.50" x2="230.50" y2="411.50" stroke="#7F7F7F" stroke-width="1" />
<line x1="240.50" y1="408.50" x2="240.50" y2="411.50" stroke="#7F7F7F" stroke-width="1" />
<line x1="250.50" y1="408.50" x2="250.50" y2="411.50" stroke="#7F7F7F" stroke-width="1" />
<line x1="260.50" y1="408.50" x2="260.50" y2="411.50" stroke="#7F7F7F" stroke-width="1" />
<line x1="270.50" y1="408.50" x2="270.50" y2="411.50" stroke="#7F7F7F" stroke-width="1" />
<line x1="280.50" y1="408.50" x2="280.50" y2="411.50" stroke="#7F7F7F" stroke-width="1" />
<line x1="290.50" y1="408.50" x2="290.50" y2="411.50" stroke="#7F7F7F" stroke-width="1" />
<line x1="300.50" y1="408.50" x2="300.50" y2="411.50" stroke="#7F7F7F" stroke-width="1" />
<line x1="310.50" y1="408.50" x2="310.50" y2="411.50" stroke="#7F7F7F" stroke-width="1" />
<line x1="320.50" y1="408.50" x2="320.50" y2="411.50" stroke="#7F7F7F" stroke-width="1" />
<line x1="330.50" y1="408.50" x2="330.50" y2="411.50" stroke="#7F7F7F" stroke-width="1" />
<line x1="340.50" y1="408.50" x2="340.50" y2="411.50" stroke="#7F7F7F" stroke-width="1" />
<line x1="349.50" y1="408.50" x2="349.50" y2="411.50" stroke="#7F7F7F" stroke-width="1" />
<line x1="359.50" y1="408.50" x2="359.50" y2="411.50" stroke="#7F7F7F" stroke-width="1" />
<line x1="369.50" y1="408.50" x2="369.50" y2="411.50" stroke="#7F7F7F" stroke-width="1" />
<line x1="379.50" y1="408.50" x2="379.50" y2="411.50" stroke="#7F7F7F" stroke-width="1" />
<line x1="389.50" y1="408.50" x2="389.50" y2="411.50" stroke="#7F7F7F" stroke-width="1" />
<line x1="399.50" y1="408.50" x2="399.50" y2="411.50" stroke="#7F7F7F" stroke-width="1" />
<line x1="409.50" y1="408.50" x2="409.50" y2="411.50" stroke="#7F7F7F" stroke-width="1" />
<line x1="419.50" y1="408.50" x2="419.50" y2="411.50" stroke="#7F7F7F" stroke-width="1" />
<line x1="429.50" y1="408.50" x2="429.50" y2="411.50" stroke="#7F7F7F" stroke-width="1" />
<line x1="439.50" y1="408.50" x2="439.50" y2="411.50" stroke="#7F7F7F" stroke-width="1" />
<line x1="449.50" y1="408.50" x2="449.50" y2="411.50" stroke="#7F7F7F" stroke-width="1" />
<line x1="459.50" y1="408.50" x2="459.50" y2="411.50" stroke="#7F7F7F" stroke-width="1" />
<line x1="469.50" y1="408.50" x2="469.50" y2="411.50" stroke="#7F7F7F" stroke-width="1" />
<line x1="479.50" y1="408.50" x2="479.50" y2="411.50" stroke="#7F7F7F" stroke-width="1" />
<line x1="489.50" y1="408.50" x2="489.50" y2="411.50" stroke="#7F7F7F" stroke-width="1" />
<line x1="499.50" y1="408.50" x2="499.50" y2="411.50" stroke="#7F7F7F" stroke-width="1" />
<line x1="509.50" y1="408.50" x2="509.50" y2="411.50" stroke="#7F7F7F" stroke-width="1" />
<line x1="519.50" y1="408.50" x2="519.50" y2="411.50" stroke="#7F7F7F" stroke-width="1" />
<line x1="529.50" y1="408.50" x2="529.50" y2="411.50" stroke="#7F7F7F" stroke-width="1" />
<line x1="539.50" y1="408.50" x2="539.50" y2="411.50" stroke="#7F7F7F" stroke-width="1" />
<line x1="549.50" y1="408.50" x2="549.50" y2="411.50" stroke="#7F7F7F" stroke-width="1" />
<line x1="559.50" y1="408.50" x2="559.50" y2="411.50" stroke="#7F7F7F" stroke-width="1" />
<line x1="569.50" y1="408.50" x2="569.50" y2="411.50" stroke="#7F7F7F" stroke-width="1" />
<text transform="translate(28.70 352.00) rotate(-90)" text-anchor="middle" font-family='"Liberation Sans", sans-serif' font-weight="bold" font-size="8.8" fill="#953735" stroke="#953735" stroke-width="0.25" textLength="72" lengthAdjust="spacingAndGlyphs">Median Sale Price</text>
<rect x="34.80" y="418.60" width="329.00" height="68.40" fill="#7F7F7F" />
<text x="41.00" y="439.20" font-family='"Liberation Sans", sans-serif' font-size="19.4" fill="#B9CDE5" textLength="125.60" lengthAdjust="spacingAndGlyphs" stroke="#B9CDE5" stroke-width="0.3">Average Sale Price</text>
<line x1="34.80" y1="440.30" x2="363.80" y2="440.30" stroke="#A8A8A8" stroke-width="0.7" />
<text x="41.80" y="462.40" font-family='"Liberation Sans", sans-serif' font-size="12.3" fill="#FFFFFF" textLength="281.60" lengthAdjust="spacingAndGlyphs" stroke="#FFFFFF" stroke-width="0.15">The average sale price reported for the month (i.e.</text>
<text x="41.80" y="479.40" font-family='"Liberation Sans", sans-serif' font-size="12.3" fill="#FFFFFF" textLength="290.00" lengthAdjust="spacingAndGlyphs" stroke="#FFFFFF" stroke-width="0.15">total sales in dollars divided by the number of sales)</text>
<text x="51.70" y="520.60" font-family='"Liberation Serif", serif' font-size="10.4" fill="#25508A" textLength="291.00" lengthAdjust="spacingAndGlyphs" xml:space="preserve" stroke="#25508A" stroke-width="0.2"><tspan font-weight='bold' font-style='italic'>Economists' note</tspan> :  Usually, we prefer Median Sale Price over Average</text>
<text x="51.70" y="532.92" font-family='"Liberation Serif", serif' font-size="10.4" fill="#25508A" textLength="284.50" lengthAdjust="spacingAndGlyphs" xml:space="preserve" stroke="#25508A" stroke-width="0.2">Sale Price as a summary statistic for home prices.  However, Average</text>
<text x="51.70" y="545.24" font-family='"Liberation Serif", serif' font-size="10.4" fill="#25508A" textLength="257.80" lengthAdjust="spacingAndGlyphs" xml:space="preserve" stroke="#25508A" stroke-width="0.2">Sale Price does have its uses—particularly when it is analyzed</text>
<text x="51.70" y="557.56" font-family='"Liberation Serif", serif' font-size="10.4" fill="#25508A" textLength="264.50" lengthAdjust="spacingAndGlyphs" xml:space="preserve" stroke="#25508A" stroke-width="0.2">alongside the Median Sale Price.  For one, the relative difference</text>
<text x="51.70" y="569.88" font-family='"Liberation Serif", serif' font-size="10.4" fill="#25508A" textLength="295.00" lengthAdjust="spacingAndGlyphs" xml:space="preserve" stroke="#25508A" stroke-width="0.2">between the two statistics can provide some insight into the market for</text>
<text x="51.70" y="582.20" font-family='"Liberation Serif", serif' font-size="10.4" fill="#25508A" textLength="120.80" lengthAdjust="spacingAndGlyphs" xml:space="preserve" stroke="#25508A" stroke-width="0.2">higher-end homes in an area.</text>
<rect x="366.20" y="418.70" width="92.30" height="20.40" fill="#9BBB59" />
<rect x="460.80" y="418.70" width="60.80" height="20.40" fill="#9BBB59" />
<rect x="524.00" y="418.70" width="61.00" height="20.40" fill="#9BBB59" />
<text x="373.90" y="431.30" font-family='"Liberation Sans", sans-serif' font-size="7.9" fill="#1A1A1A" textLength="19.30" lengthAdjust="spacingAndGlyphs" stroke="#1A1A1A" stroke-width="0.22">Month</text>
<text x="491.30" y="431.70" font-family='"Liberation Sans", sans-serif' font-size="8.0" fill="#1A1A1A" text-anchor="middle" textLength="51.00" lengthAdjust="spacingAndGlyphs" stroke="#1A1A1A" stroke-width="0.22">Average Sale Price</text>
<text x="554.50" y="426.60" font-family='"Liberation Sans", sans-serif' font-size="7.6" fill="#1A1A1A" text-anchor="middle" textLength="42.80" lengthAdjust="spacingAndGlyphs" stroke="#1A1A1A" stroke-width="0.22">Percent Change</text>
<text x="554.50" y="437.00" font-family='"Liberation Sans", sans-serif' font-size="7.6" fill="#1A1A1A" text-anchor="middle" textLength="40.30" lengthAdjust="spacingAndGlyphs" stroke="#1A1A1A" stroke-width="0.22">Year-over-Year</text>
<rect x="366.20" y="441.00" width="92.30" height="10.00" fill="url(#gm)" />
<rect x="460.80" y="441.00" width="60.80" height="10.00" fill="url(#gc)" />
<rect x="524.00" y="441.00" width="61.00" height="10.00" fill="url(#gc)" />
<text x="373.90" y="449.10" font-family='"Liberation Sans", sans-serif' font-size="9.0" fill="#1A1A1A" textLength="39.20" lengthAdjust="spacingAndGlyphs" stroke="#1A1A1A" stroke-width="0.22">Year-to-Date</text>
<text x="491.30" y="449.10" font-family='"Liberation Sans", sans-serif' font-size="8.1" fill="#1A1A1A" text-anchor="middle" stroke="#1A1A1A" stroke-width="0.12">$727,206</text>
<text x="554.50" y="449.10" font-family='"Liberation Sans", sans-serif' font-size="8.1" fill="#1A1A1A" text-anchor="middle" stroke="#1A1A1A" stroke-width="0.12">-7.9%</text>
<rect x="366.20" y="453.05" width="92.30" height="10.00" fill="url(#gm)" />
<rect x="460.80" y="453.05" width="60.80" height="10.00" fill="url(#gc)" />
<rect x="524.00" y="453.05" width="61.00" height="10.00" fill="url(#gc)" />
<text x="373.90" y="461.15" font-family='"Liberation Sans", sans-serif' font-size="9.0" fill="#1A1A1A" font-weight="bold" textLength="42.10" lengthAdjust="spacingAndGlyphs" stroke="#1A1A1A" stroke-width="0.2">January 2026</text>
<text x="491.30" y="461.15" font-family='"Liberation Sans", sans-serif' font-size="8.1" fill="#1A1A1A" font-weight="bold" text-anchor="middle" stroke="#1A1A1A" stroke-width="0.25">$727,206</text>
<text x="554.50" y="461.15" font-family='"Liberation Sans", sans-serif' font-size="8.1" fill="#1A1A1A" font-weight="bold" text-anchor="middle" stroke="#1A1A1A" stroke-width="0.25">-7.9%</text>
<rect x="366.20" y="465.10" width="92.30" height="10.00" fill="url(#gm)" />
<rect x="460.80" y="465.10" width="60.80" height="10.00" fill="url(#gc)" />
<rect x="524.00" y="465.10" width="61.00" height="10.00" fill="url(#gc)" />
<text x="373.90" y="473.20" font-family='"Liberation Sans", sans-serif' font-size="9.0" fill="#1A1A1A" textLength="47.60" lengthAdjust="spacingAndGlyphs" stroke="#1A1A1A" stroke-width="0.22">December 2025</text>
<text x="491.30" y="473.20" font-family='"Liberation Sans", sans-serif' font-size="8.1" fill="#1A1A1A" text-anchor="middle" stroke="#1A1A1A" stroke-width="0.12">$720,367</text>
<text x="554.50" y="473.20" font-family='"Liberation Sans", sans-serif' font-size="8.1" fill="#1A1A1A" text-anchor="middle" stroke="#1A1A1A" stroke-width="0.12">-0.3%</text>
<rect x="366.20" y="477.15" width="92.30" height="10.00" fill="url(#gm)" />
<rect x="460.80" y="477.15" width="60.80" height="10.00" fill="url(#gc)" />
<rect x="524.00" y="477.15" width="61.00" height="10.00" fill="url(#gc)" />
<text x="373.90" y="485.25" font-family='"Liberation Sans", sans-serif' font-size="9.0" fill="#1A1A1A" textLength="47.60" lengthAdjust="spacingAndGlyphs" stroke="#1A1A1A" stroke-width="0.22">November 2025</text>
<text x="491.30" y="485.25" font-family='"Liberation Sans", sans-serif' font-size="8.1" fill="#1A1A1A" text-anchor="middle" stroke="#1A1A1A" stroke-width="0.12">$706,246</text>
<text x="554.50" y="485.25" font-family='"Liberation Sans", sans-serif' font-size="8.1" fill="#1A1A1A" text-anchor="middle" stroke="#1A1A1A" stroke-width="0.12">-6.5%</text>
<rect x="366.20" y="489.20" width="92.30" height="10.00" fill="url(#gm)" />
<rect x="460.80" y="489.20" width="60.80" height="10.00" fill="url(#gc)" />
<rect x="524.00" y="489.20" width="61.00" height="10.00" fill="url(#gc)" />
<text x="373.90" y="497.30" font-family='"Liberation Sans", sans-serif' font-size="9.0" fill="#1A1A1A" textLength="41.10" lengthAdjust="spacingAndGlyphs" stroke="#1A1A1A" stroke-width="0.22">October 2025</text>
<text x="491.30" y="497.30" font-family='"Liberation Sans", sans-serif' font-size="8.1" fill="#1A1A1A" text-anchor="middle" stroke="#1A1A1A" stroke-width="0.12">$633,828</text>
<text x="554.50" y="497.30" font-family='"Liberation Sans", sans-serif' font-size="8.1" fill="#1A1A1A" text-anchor="middle" stroke="#1A1A1A" stroke-width="0.12">-6.2%</text>
<rect x="366.20" y="501.25" width="92.30" height="10.00" fill="url(#gm)" />
<rect x="460.80" y="501.25" width="60.80" height="10.00" fill="url(#gc)" />
<rect x="524.00" y="501.25" width="61.00" height="10.00" fill="url(#gc)" />
<text x="373.90" y="509.35" font-family='"Liberation Sans", sans-serif' font-size="9.0" fill="#1A1A1A" textLength="50.10" lengthAdjust="spacingAndGlyphs" stroke="#1A1A1A" stroke-width="0.22">September 2025</text>
<text x="491.30" y="509.35" font-family='"Liberation Sans", sans-serif' font-size="8.1" fill="#1A1A1A" text-anchor="middle" stroke="#1A1A1A" stroke-width="0.12">$716,630</text>
<text x="554.50" y="509.35" font-family='"Liberation Sans", sans-serif' font-size="8.1" fill="#1A1A1A" text-anchor="middle" stroke="#1A1A1A" stroke-width="0.12">4.8%</text>
<rect x="366.20" y="513.30" width="92.30" height="10.00" fill="url(#gm)" />
<rect x="460.80" y="513.30" width="60.80" height="10.00" fill="url(#gc)" />
<rect x="524.00" y="513.30" width="61.00" height="10.00" fill="url(#gc)" />
<text x="373.90" y="521.40" font-family='"Liberation Sans", sans-serif' font-size="9.0" fill="#1A1A1A" textLength="39.00" lengthAdjust="spacingAndGlyphs" stroke="#1A1A1A" stroke-width="0.22">August 2025</text>
<text x="491.30" y="521.40" font-family='"Liberation Sans", sans-serif' font-size="8.1" fill="#1A1A1A" text-anchor="middle" stroke="#1A1A1A" stroke-width="0.12">$605,453</text>
<text x="554.50" y="521.40" font-family='"Liberation Sans", sans-serif' font-size="8.1" fill="#1A1A1A" text-anchor="middle" stroke="#1A1A1A" stroke-width="0.12">-32.3%</text>
<rect x="366.20" y="525.35" width="92.30" height="10.00" fill="url(#gm)" />
<rect x="460.80" y="525.35" width="60.80" height="10.00" fill="url(#gc)" />
<rect x="524.00" y="525.35" width="61.00" height="10.00" fill="url(#gc)" />
<text x="373.90" y="533.45" font-family='"Liberation Sans", sans-serif' font-size="9.0" fill="#1A1A1A" textLength="29.30" lengthAdjust="spacingAndGlyphs" stroke="#1A1A1A" stroke-width="0.22">July 2025</text>
<text x="491.30" y="533.45" font-family='"Liberation Sans", sans-serif' font-size="8.1" fill="#1A1A1A" text-anchor="middle" stroke="#1A1A1A" stroke-width="0.12">$713,277</text>
<text x="554.50" y="533.45" font-family='"Liberation Sans", sans-serif' font-size="8.1" fill="#1A1A1A" text-anchor="middle" stroke="#1A1A1A" stroke-width="0.12">5.3%</text>
<rect x="366.20" y="537.40" width="92.30" height="10.00" fill="url(#gm)" />
<rect x="460.80" y="537.40" width="60.80" height="10.00" fill="url(#gc)" />
<rect x="524.00" y="537.40" width="61.00" height="10.00" fill="url(#gc)" />
<text x="373.90" y="545.50" font-family='"Liberation Sans", sans-serif' font-size="9.0" fill="#1A1A1A" textLength="31.40" lengthAdjust="spacingAndGlyphs" stroke="#1A1A1A" stroke-width="0.22">June 2025</text>
<text x="491.30" y="545.50" font-family='"Liberation Sans", sans-serif' font-size="8.1" fill="#1A1A1A" text-anchor="middle" stroke="#1A1A1A" stroke-width="0.12">$699,844</text>
<text x="554.50" y="545.50" font-family='"Liberation Sans", sans-serif' font-size="8.1" fill="#1A1A1A" text-anchor="middle" stroke="#1A1A1A" stroke-width="0.12">-13.2%</text>
<rect x="366.20" y="549.45" width="92.30" height="10.00" fill="url(#gm)" />
<rect x="460.80" y="549.45" width="60.80" height="10.00" fill="url(#gc)" />
<rect x="524.00" y="549.45" width="61.00" height="10.00" fill="url(#gc)" />
<text x="373.90" y="557.55" font-family='"Liberation Sans", sans-serif' font-size="9.0" fill="#1A1A1A" textLength="29.60" lengthAdjust="spacingAndGlyphs" stroke="#1A1A1A" stroke-width="0.22">May 2025</text>
<text x="491.30" y="557.55" font-family='"Liberation Sans", sans-serif' font-size="8.1" fill="#1A1A1A" text-anchor="middle" stroke="#1A1A1A" stroke-width="0.12">$741,299</text>
<text x="554.50" y="557.55" font-family='"Liberation Sans", sans-serif' font-size="8.1" fill="#1A1A1A" text-anchor="middle" stroke="#1A1A1A" stroke-width="0.12">-14.7%</text>
<rect x="366.20" y="561.50" width="92.30" height="10.00" fill="url(#gm)" />
<rect x="460.80" y="561.50" width="60.80" height="10.00" fill="url(#gc)" />
<rect x="524.00" y="561.50" width="61.00" height="10.00" fill="url(#gc)" />
<text x="373.90" y="569.60" font-family='"Liberation Sans", sans-serif' font-size="9.0" fill="#1A1A1A" textLength="31.50" lengthAdjust="spacingAndGlyphs" stroke="#1A1A1A" stroke-width="0.22">April 2025</text>
<text x="491.30" y="569.60" font-family='"Liberation Sans", sans-serif' font-size="8.1" fill="#1A1A1A" text-anchor="middle" stroke="#1A1A1A" stroke-width="0.12">$811,101</text>
<text x="554.50" y="569.60" font-family='"Liberation Sans", sans-serif' font-size="8.1" fill="#1A1A1A" text-anchor="middle" stroke="#1A1A1A" stroke-width="0.12">-5.0%</text>
<rect x="366.20" y="573.55" width="92.30" height="10.00" fill="url(#gm)" />
<rect x="460.80" y="573.55" width="60.80" height="10.00" fill="url(#gc)" />
<rect x="524.00" y="573.55" width="61.00" height="10.00" fill="url(#gc)" />
<text x="373.90" y="581.65" font-family='"Liberation Sans", sans-serif' font-size="9.0" fill="#1A1A1A" textLength="36.00" lengthAdjust="spacingAndGlyphs" stroke="#1A1A1A" stroke-width="0.22">March 2025</text>
<text x="491.30" y="581.65" font-family='"Liberation Sans", sans-serif' font-size="8.1" fill="#1A1A1A" text-anchor="middle" stroke="#1A1A1A" stroke-width="0.12">$833,077</text>
<text x="554.50" y="581.65" font-family='"Liberation Sans", sans-serif' font-size="8.1" fill="#1A1A1A" text-anchor="middle" stroke="#1A1A1A" stroke-width="0.12">-12.7%</text>
<rect x="366.20" y="585.60" width="92.30" height="10.00" fill="url(#gm)" />
<rect x="460.80" y="585.60" width="60.80" height="10.00" fill="url(#gc)" />
<rect x="524.00" y="585.60" width="61.00" height="10.00" fill="url(#gc)" />
<text x="373.90" y="593.70" font-family='"Liberation Sans", sans-serif' font-size="9.0" fill="#1A1A1A" textLength="43.80" lengthAdjust="spacingAndGlyphs" stroke="#1A1A1A" stroke-width="0.22">February 2025</text>
<text x="491.30" y="593.70" font-family='"Liberation Sans", sans-serif' font-size="8.1" fill="#1A1A1A" text-anchor="middle" stroke="#1A1A1A" stroke-width="0.12">$923,559</text>
<text x="554.50" y="593.70" font-family='"Liberation Sans", sans-serif' font-size="8.1" fill="#1A1A1A" text-anchor="middle" stroke="#1A1A1A" stroke-width="0.12">7.4%</text>
<rect x="366.20" y="597.65" width="92.30" height="10.00" fill="url(#gm)" />
<rect x="460.80" y="597.65" width="60.80" height="10.00" fill="url(#gc)" />
<rect x="524.00" y="597.65" width="61.00" height="10.00" fill="url(#gc)" />
<text x="373.90" y="605.75" font-family='"Liberation Sans", sans-serif' font-size="9.0" fill="#1A1A1A" textLength="41.00" lengthAdjust="spacingAndGlyphs" stroke="#1A1A1A" stroke-width="0.22">January 2025</text>
<text x="491.30" y="605.75" font-family='"Liberation Sans", sans-serif' font-size="8.1" fill="#1A1A1A" text-anchor="middle" stroke="#1A1A1A" stroke-width="0.12">$789,793</text>
<text x="554.50" y="605.75" font-family='"Liberation Sans", sans-serif' font-size="8.1" fill="#1A1A1A" text-anchor="middle" stroke="#1A1A1A" stroke-width="0.12">-1.5%</text>
<line x1="80.50" y1="633.50" x2="569.50" y2="633.50" stroke="#DADADA" stroke-width="1" />
<line x1="80.50" y1="718.50" x2="569.50" y2="718.50" stroke="#DADADA" stroke-width="1" />
<line x1="80.50" y1="704.50" x2="569.50" y2="704.50" stroke="#DADADA" stroke-width="1" />
<line x1="80.50" y1="690.50" x2="569.50" y2="690.50" stroke="#DADADA" stroke-width="1" />
<line x1="80.50" y1="675.50" x2="569.50" y2="675.50" stroke="#DADADA" stroke-width="1" />
<line x1="80.50" y1="661.50" x2="569.50" y2="661.50" stroke="#DADADA" stroke-width="1" />
<line x1="80.50" y1="647.50" x2="569.50" y2="647.50" stroke="#DADADA" stroke-width="1" />
<line x1="80.50" y1="633.50" x2="80.50" y2="718.50" stroke="#DADADA" stroke-width="1" />
<line x1="90.50" y1="633.50" x2="90.50" y2="718.50" stroke="#DADADA" stroke-width="1" />
<line x1="100.50" y1="633.50" x2="100.50" y2="718.50" stroke="#DADADA" stroke-width="1" />
<line x1="110.50" y1="633.50" x2="110.50" y2="718.50" stroke="#DADADA" stroke-width="1" />
<line x1="120.50" y1="633.50" x2="120.50" y2="718.50" stroke="#DADADA" stroke-width="1" />
<line x1="130.50" y1="633.50" x2="130.50" y2="718.50" stroke="#DADADA" stroke-width="1" />
<line x1="140.50" y1="633.50" x2="140.50" y2="718.50" stroke="#DADADA" stroke-width="1" />
<line x1="150.50" y1="633.50" x2="150.50" y2="718.50" stroke="#DADADA" stroke-width="1" />
<line x1="160.50" y1="633.50" x2="160.50" y2="718.50" stroke="#DADADA" stroke-width="1" />
<line x1="170.50" y1="633.50" x2="170.50" y2="718.50" stroke="#DADADA" stroke-width="1" />
<line x1="180.50" y1="633.50" x2="180.50" y2="718.50" stroke="#DADADA" stroke-width="1" />
<line x1="190.50" y1="633.50" x2="190.50" y2="718.50" stroke="#DADADA" stroke-width="1" />
<line x1="200.50" y1="633.50" x2="200.50" y2="718.50" stroke="#DADADA" stroke-width="1" />
<line x1="210.50" y1="633.50" x2="210.50" y2="718.50" stroke="#DADADA" stroke-width="1" />
<line x1="220.50" y1="633.50" x2="220.50" y2="718.50" stroke="#DADADA" stroke-width="1" />
<line x1="230.50" y1="633.50" x2="230.50" y2="718.50" stroke="#DADADA" stroke-width="1" />
<line x1="240.50" y1="633.50" x2="240.50" y2="718.50" stroke="#DADADA" stroke-width="1" />
<line x1="250.50" y1="633.50" x2="250.50" y2="718.50" stroke="#DADADA" stroke-width="1" />
<line x1="260.50" y1="633.50" x2="260.50" y2="718.50" stroke="#DADADA" stroke-width="1" />
<line x1="270.50" y1="633.50" x2="270.50" y2="718.50" stroke="#DADADA" stroke-width="1" />
<line x1="280.50" y1="633.50" x2="280.50" y2="718.50" stroke="#DADADA" stroke-width="1" />
<line x1="290.50" y1="633.50" x2="290.50" y2="718.50" stroke="#DADADA" stroke-width="1" />
<line x1="300.50" y1="633.50" x2="300.50" y2="718.50" stroke="#DADADA" stroke-width="1" />
<line x1="310.50" y1="633.50" x2="310.50" y2="718.50" stroke="#DADADA" stroke-width="1" />
<line x1="320.50" y1="633.50" x2="320.50" y2="718.50" stroke="#DADADA" stroke-width="1" />
<line x1="330.50" y1="633.50" x2="330.50" y2="718.50" stroke="#DADADA" stroke-width="1" />
<line x1="340.50" y1="633.50" x2="340.50" y2="718.50" stroke="#DADADA" stroke-width="1" />
<line x1="349.50" y1="633.50" x2="349.50" y2="718.50" stroke="#DADADA" stroke-width="1" />
<line x1="359.50" y1="633.50" x2="359.50" y2="718.50" stroke="#DADADA" stroke-width="1" />
<line x1="369.50" y1="633.50" x2="369.50" y2="718.50" stroke="#DADADA" stroke-width="1" />
<line x1="379.50" y1="633.50" x2="379.50" y2="718.50" stroke="#DADADA" stroke-width="1" />
<line x1="389.50" y1="633.50" x2="389.50" y2="718.50" stroke="#DADADA" stroke-width="1" />
<line x1="399.50" y1="633.50" x2="399.50" y2="718.50" stroke="#DADADA" stroke-width="1" />
<line x1="409.50" y1="633.50" x2="409.50" y2="718.50" stroke="#DADADA" stroke-width="1" />
<line x1="419.50" y1="633.50" x2="419.50" y2="718.50" stroke="#DADADA" stroke-width="1" />
<line x1="429.50" y1="633.50" x2="429.50" y2="718.50" stroke="#DADADA" stroke-width="1" />
<line x1="439.50" y1="633.50" x2="439.50" y2="718.50" stroke="#DADADA" stroke-width="1" />
<line x1="449.50" y1="633.50" x2="449.50" y2="718.50" stroke="#DADADA" stroke-width="1" />
<line x1="459.50" y1="633.50" x2="459.50" y2="718.50" stroke="#DADADA" stroke-width="1" />
<line x1="469.50" y1="633.50" x2="469.50" y2="718.50" stroke="#DADADA" stroke-width="1" />
<line x1="479.50" y1="633.50" x2="479.50" y2="718.50" stroke="#DADADA" stroke-width="1" />
<line x1="489.50" y1="633.50" x2="489.50" y2="718.50" stroke="#DADADA" stroke-width="1" />
<line x1="499.50" y1="633.50" x2="499.50" y2="718.50" stroke="#DADADA" stroke-width="1" />
<line x1="509.50" y1="633.50" x2="509.50" y2="718.50" stroke="#DADADA" stroke-width="1" />
<line x1="519.50" y1="633.50" x2="519.50" y2="718.50" stroke="#DADADA" stroke-width="1" />
<line x1="529.50" y1="633.50" x2="529.50" y2="718.50" stroke="#DADADA" stroke-width="1" />
<line x1="539.50" y1="633.50" x2="539.50" y2="718.50" stroke="#DADADA" stroke-width="1" />
<line x1="549.50" y1="633.50" x2="549.50" y2="718.50" stroke="#DADADA" stroke-width="1" />
<line x1="559.50" y1="633.50" x2="559.50" y2="718.50" stroke="#DADADA" stroke-width="1" />
<line x1="569.50" y1="633.50" x2="569.50" y2="718.50" stroke="#DADADA" stroke-width="1" />
<line x1="200.50" y1="633.50" x2="200.50" y2="718.50" stroke="#B5B5B5" stroke-width="1" />
<line x1="320.50" y1="633.50" x2="320.50" y2="718.50" stroke="#B5B5B5" stroke-width="1" />
<line x1="439.50" y1="633.50" x2="439.50" y2="718.50" stroke="#B5B5B5" stroke-width="1" />
<line x1="559.50" y1="633.50" x2="559.50" y2="718.50" stroke="#B5B5B5" stroke-width="1" />
<rect x="80.5" y="668.5" width="10.0" height="50.0" fill="#1F497D" fill-opacity="0.5" stroke="#1F497D" stroke-width="1" stroke-opacity="0.85"/>
<rect x="90.5" y="665.5" width="10.0" height="53.0" fill="#1F497D" fill-opacity="0.5" stroke="#1F497D" stroke-width="1" stroke-opacity="0.85"/>
<rect x="100.5" y="665.5" width="10.0" height="53.0" fill="#1F497D" fill-opacity="0.5" stroke="#1F497D" stroke-width="1" stroke-opacity="0.85"/>
<rect x="110.5" y="664.5" width="10.0" height="54.0" fill="#1F497D" fill-opacity="0.5" stroke="#1F497D" stroke-width="1" stroke-opacity="0.85"/>
<rect x="120.5" y="659.5" width="10.0" height="59.0" fill="#1F497D" fill-opacity="0.5" stroke="#1F497D" stroke-width="1" stroke-opacity="0.85"/>
<rect x="130.5" y="660.5" width="10.0" height="58.0" fill="#1F497D" fill-opacity="0.5" stroke="#1F497D" stroke-width="1" stroke-opacity="0.85"/>
<rect x="140.5" y="675.5" width="10.0" height="43.0" fill="#1F497D" fill-opacity="0.5" stroke="#1F497D" stroke-width="1" stroke-opacity="0.85"/>
<rect x="150.5" y="672.5" width="10.0" height="46.0" fill="#1F497D" fill-opacity="0.5" stroke="#1F497D" stroke-width="1" stroke-opacity="0.85"/>
<rect x="160.5" y="669.5" width="10.0" height="49.0" fill="#1F497D" fill-opacity="0.5" stroke="#1F497D" stroke-width="1" stroke-opacity="0.85"/>
<rect x="170.5" y="673.5" width="10.0" height="45.0" fill="#1F497D" fill-opacity="0.5" stroke="#1F497D" stroke-width="1" stroke-opacity="0.85"/>
<rect x="180.5" y="666.5" width="10.0" height="52.0" fill="#1F497D" fill-opacity="0.5" stroke="#1F497D" stroke-width="1" stroke-opacity="0.85"/>
<rect x="190.5" y="668.5" width="10.0" height="50.0" fill="#1F497D" fill-opacity="0.5" stroke="#1F497D" stroke-width="1" stroke-opacity="0.85"/>
<rect x="200.5" y="659.5" width="10.0" height="59.0" fill="#1F497D" fill-opacity="0.5" stroke="#1F497D" stroke-width="1" stroke-opacity="0.85"/>
<rect x="210.5" y="661.5" width="10.0" height="57.0" fill="#1F497D" fill-opacity="0.5" stroke="#1F497D" stroke-width="1" stroke-opacity="0.85"/>
<rect x="220.5" y="662.5" width="10.0" height="56.0" fill="#1F497D" fill-opacity="0.5" stroke="#1F497D" stroke-width="1" stroke-opacity="0.85"/>
<rect x="230.5" y="659.5" width="10.0" height="59.0" fill="#1F497D" fill-opacity="0.5" stroke="#1F497D" stroke-width="1" stroke-opacity="0.85"/>
<rect x="240.5" y="659.5" width="10.0" height="59.0" fill="#1F497D" fill-opacity="0.5" stroke="#1F497D" stroke-width="1" stroke-opacity="0.85"/>
<rect x="250.5" y="663.5" width="10.0" height="55.0" fill="#1F497D" fill-opacity="0.5" stroke="#1F497D" stroke-width="1" stroke-opacity="0.85"/>
<rect x="260.5" y="668.5" width="10.0" height="50.0" fill="#1F497D" fill-opacity="0.5" stroke="#1F497D" stroke-width="1" stroke-opacity="0.85"/>
<rect x="270.5" y="665.5" width="10.0" height="53.0" fill="#1F497D" fill-opacity="0.5" stroke="#1F497D" stroke-width="1" stroke-opacity="0.85"/>
<rect x="280.5" y="670.5" width="10.0" height="48.0" fill="#1F497D" fill-opacity="0.5" stroke="#1F497D" stroke-width="1" stroke-opacity="0.85"/>
<rect x="290.5" y="663.5" width="10.0" height="55.0" fill="#1F497D" fill-opacity="0.5" stroke="#1F497D" stroke-width="1" stroke-opacity="0.85"/>
<rect x="300.5" y="661.5" width="10.0" height="57.0" fill="#1F497D" fill-opacity="0.5" stroke="#1F497D" stroke-width="1" stroke-opacity="0.85"/>
<rect x="310.5" y="657.5" width="10.0" height="61.0" fill="#1F497D" fill-opacity="0.5" stroke="#1F497D" stroke-width="1" stroke-opacity="0.85"/>
<rect x="320.5" y="661.5" width="10.0" height="57.0" fill="#1F497D" fill-opacity="0.5" stroke="#1F497D" stroke-width="1" stroke-opacity="0.85"/>
<rect x="330.5" y="657.5" width="10.0" height="61.0" fill="#1F497D" fill-opacity="0.5" stroke="#1F497D" stroke-width="1" stroke-opacity="0.85"/>
<rect x="340.5" y="651.5" width="9.0" height="67.0" fill="#1F497D" fill-opacity="0.5" stroke="#1F497D" stroke-width="1" stroke-opacity="0.85"/>
<rect x="349.5" y="658.5" width="10.0" height="60.0" fill="#1F497D" fill-opacity="0.5" stroke="#1F497D" stroke-width="1" stroke-opacity="0.85"/>
<rect x="359.5" y="657.5" width="10.0" height="61.0" fill="#1F497D" fill-opacity="0.5" stroke="#1F497D" stroke-width="1" stroke-opacity="0.85"/>
<rect x="369.5" y="661.5" width="10.0" height="57.0" fill="#1F497D" fill-opacity="0.5" stroke="#1F497D" stroke-width="1" stroke-opacity="0.85"/>
<rect x="379.5" y="670.5" width="10.0" height="48.0" fill="#1F497D" fill-opacity="0.5" stroke="#1F497D" stroke-width="1" stroke-opacity="0.85"/>
<rect x="389.5" y="655.5" width="10.0" height="63.0" fill="#1F497D" fill-opacity="0.5" stroke="#1F497D" stroke-width="1" stroke-opacity="0.85"/>
<rect x="399.5" y="670.5" width="10.0" height="48.0" fill="#1F497D" fill-opacity="0.5" stroke="#1F497D" stroke-width="1" stroke-opacity="0.85"/>
<rect x="409.5" y="670.5" width="10.0" height="48.0" fill="#1F497D" fill-opacity="0.5" stroke="#1F497D" stroke-width="1" stroke-opacity="0.85"/>
<rect x="419.5" y="665.5" width="10.0" height="53.0" fill="#1F497D" fill-opacity="0.5" stroke="#1F497D" stroke-width="1" stroke-opacity="0.85"/>
<rect x="429.5" y="667.5" width="10.0" height="51.0" fill="#1F497D" fill-opacity="0.5" stroke="#1F497D" stroke-width="1" stroke-opacity="0.85"/>
<rect x="439.5" y="662.5" width="10.0" height="56.0" fill="#1F497D" fill-opacity="0.5" stroke="#1F497D" stroke-width="1" stroke-opacity="0.85"/>
<rect x="449.5" y="653.5" width="10.0" height="65.0" fill="#1F497D" fill-opacity="0.5" stroke="#1F497D" stroke-width="1" stroke-opacity="0.85"/>
<rect x="459.5" y="659.5" width="10.0" height="59.0" fill="#1F497D" fill-opacity="0.5" stroke="#1F497D" stroke-width="1" stroke-opacity="0.85"/>
<rect x="469.5" y="661.5" width="10.0" height="57.0" fill="#1F497D" fill-opacity="0.5" stroke="#1F497D" stroke-width="1" stroke-opacity="0.85"/>
<rect x="479.5" y="666.5" width="10.0" height="52.0" fill="#1F497D" fill-opacity="0.5" stroke="#1F497D" stroke-width="1" stroke-opacity="0.85"/>
<rect x="489.5" y="669.5" width="10.0" height="49.0" fill="#1F497D" fill-opacity="0.5" stroke="#1F497D" stroke-width="1" stroke-opacity="0.85"/>
<rect x="499.5" y="668.5" width="10.0" height="50.0" fill="#1F497D" fill-opacity="0.5" stroke="#1F497D" stroke-width="1" stroke-opacity="0.85"/>
<rect x="509.5" y="675.5" width="10.0" height="43.0" fill="#1F497D" fill-opacity="0.5" stroke="#1F497D" stroke-width="1" stroke-opacity="0.85"/>
<rect x="519.5" y="667.5" width="10.0" height="51.0" fill="#1F497D" fill-opacity="0.5" stroke="#1F497D" stroke-width="1" stroke-opacity="0.85"/>
<rect x="529.5" y="673.5" width="10.0" height="45.0" fill="#1F497D" fill-opacity="0.5" stroke="#1F497D" stroke-width="1" stroke-opacity="0.85"/>
<rect x="539.5" y="668.5" width="10.0" height="50.0" fill="#1F497D" fill-opacity="0.5" stroke="#1F497D" stroke-width="1" stroke-opacity="0.85"/>
<rect x="549.5" y="667.5" width="10.0" height="51.0" fill="#1F497D" fill-opacity="0.5" stroke="#1F497D" stroke-width="1" stroke-opacity="0.85"/>
<rect x="559.5" y="667.5" width="10.0" height="51.0" fill="#1F497D" fill-opacity="0.5" stroke="#1F497D" stroke-width="1" stroke-opacity="0.85"/>
<line x1="80.50" y1="633.50" x2="80.50" y2="718.50" stroke="#868686" stroke-width="1" />
<line x1="77.50" y1="718.50" x2="569.50" y2="718.50" stroke="#868686" stroke-width="1" />
<line x1="77.50" y1="718.50" x2="80.50" y2="718.50" stroke="#868686" stroke-width="1" />
<text x="73.40" y="720.95" font-family='"Liberation Sans", sans-serif' font-size="6.9" fill="#1F497D" text-anchor="end" stroke="#1F497D" stroke-width="0.15">$0K</text>
<line x1="77.50" y1="704.50" x2="80.50" y2="704.50" stroke="#868686" stroke-width="1" />
<text x="73.40" y="706.78" font-family='"Liberation Sans", sans-serif' font-size="6.9" fill="#1F497D" text-anchor="end" stroke="#1F497D" stroke-width="0.15">$200K</text>
<line x1="77.50" y1="690.50" x2="80.50" y2="690.50" stroke="#868686" stroke-width="1" />
<text x="73.40" y="692.62" font-family='"Liberation Sans", sans-serif' font-size="6.9" fill="#1F497D" text-anchor="end" stroke="#1F497D" stroke-width="0.15">$400K</text>
<line x1="77.50" y1="675.50" x2="80.50" y2="675.50" stroke="#868686" stroke-width="1" />
<text x="73.40" y="678.45" font-family='"Liberation Sans", sans-serif' font-size="6.9" fill="#1F497D" text-anchor="end" stroke="#1F497D" stroke-width="0.15">$600K</text>
<line x1="77.50" y1="661.50" x2="80.50" y2="661.50" stroke="#868686" stroke-width="1" />
<text x="73.40" y="664.28" font-family='"Liberation Sans", sans-serif' font-size="6.9" fill="#1F497D" text-anchor="end" stroke="#1F497D" stroke-width="0.15">$800K</text>
<line x1="77.50" y1="647.50" x2="80.50" y2="647.50" stroke="#868686" stroke-width="1" />
<text x="73.40" y="650.12" font-family='"Liberation Sans", sans-serif' font-size="6.9" fill="#1F497D" text-anchor="end" stroke="#1F497D" stroke-width="0.15">$1000K</text>
<line x1="77.50" y1="633.50" x2="80.50" y2="633.50" stroke="#868686" stroke-width="1" />
<text x="73.40" y="635.95" font-family='"Liberation Sans", sans-serif' font-size="6.9" fill="#1F497D" text-anchor="end" stroke="#1F497D" stroke-width="0.15">$1200K</text>
<line x1="200.50" y1="718.50" x2="200.50" y2="721.50" stroke="#868686" stroke-width="1" />
<line x1="320.50" y1="718.50" x2="320.50" y2="721.50" stroke="#868686" stroke-width="1" />
<line x1="439.50" y1="718.50" x2="439.50" y2="721.50" stroke="#868686" stroke-width="1" />
<line x1="559.50" y1="718.50" x2="559.50" y2="721.50" stroke="#868686" stroke-width="1" />
<line x1="80.00" y1="615.50" x2="571.50" y2="615.50" stroke="#7F7F7F" stroke-width="1" />
<line x1="80.50" y1="615.50" x2="80.50" y2="619.00" stroke="#7F7F7F" stroke-width="1" />
<line x1="200.50" y1="615.50" x2="200.50" y2="619.00" stroke="#7F7F7F" stroke-width="1" />
<line x1="320.50" y1="615.50" x2="320.50" y2="619.00" stroke="#7F7F7F" stroke-width="1" />
<line x1="439.50" y1="615.50" x2="439.50" y2="619.00" stroke="#7F7F7F" stroke-width="1" />
<line x1="559.50" y1="615.50" x2="559.50" y2="619.00" stroke="#7F7F7F" stroke-width="1" />
<text x="145.50" y="627.10" font-family='"Liberation Sans", sans-serif' font-size="8.0" fill="#7F7F7F" text-anchor="middle" >2022</text>
<text x="265.32" y="627.10" font-family='"Liberation Sans", sans-serif' font-size="8.0" fill="#7F7F7F" text-anchor="middle" >2023</text>
<text x="385.13" y="627.10" font-family='"Liberation Sans", sans-serif' font-size="8.0" fill="#7F7F7F" text-anchor="middle" >2024</text>
<text x="504.95" y="627.10" font-family='"Liberation Sans", sans-serif' font-size="8.0" fill="#7F7F7F" text-anchor="middle" >2025</text>
<text x="85.39" y="727.90" font-family='"Liberation Sans", sans-serif' font-size="6.7" fill="#A3A3A3" text-anchor="middle" >J</text>
<text x="95.38" y="727.90" font-family='"Liberation Sans", sans-serif' font-size="6.7" fill="#A3A3A3" text-anchor="middle" >F</text>
<text x="105.36" y="727.90" font-family='"Liberation Sans", sans-serif' font-size="6.7" fill="#A3A3A3" text-anchor="middle" >M</text>
<text x="115.35" y="727.90" font-family='"Liberation Sans", sans-serif' font-size="6.7" fill="#A3A3A3" text-anchor="middle" >A</text>
<text x="125.33" y="727.90" font-family='"Liberation Sans", sans-serif' font-size="6.7" fill="#A3A3A3" text-anchor="middle" >M</text>
<text x="135.32" y="727.90" font-family='"Liberation Sans", sans-serif' font-size="6.7" fill="#A3A3A3" text-anchor="middle" >J</text>
<text x="145.30" y="727.90" font-family='"Liberation Sans", sans-serif' font-size="6.7" fill="#A3A3A3" text-anchor="middle" >J</text>
<text x="155.29" y="727.90" font-family='"Liberation Sans", sans-serif' font-size="6.7" fill="#A3A3A3" text-anchor="middle" >A</text>
<text x="165.27" y="727.90" font-family='"Liberation Sans", sans-serif' font-size="6.7" fill="#A3A3A3" text-anchor="middle" >S</text>
<text x="175.25" y="727.90" font-family='"Liberation Sans", sans-serif' font-size="6.7" fill="#A3A3A3" text-anchor="middle" >O</text>
<text x="185.24" y="727.90" font-family='"Liberation Sans", sans-serif' font-size="6.7" fill="#A3A3A3" text-anchor="middle" >N</text>
<text x="195.22" y="727.90" font-family='"Liberation Sans", sans-serif' font-size="6.7" fill="#A3A3A3" text-anchor="middle" >D</text>
<text x="205.21" y="727.90" font-family='"Liberation Sans", sans-serif' font-size="6.7" fill="#A3A3A3" text-anchor="middle" >J</text>
<text x="215.19" y="727.90" font-family='"Liberation Sans", sans-serif' font-size="6.7" fill="#A3A3A3" text-anchor="middle" >F</text>
<text x="225.18" y="727.90" font-family='"Liberation Sans", sans-serif' font-size="6.7" fill="#A3A3A3" text-anchor="middle" >M</text>
<text x="235.16" y="727.90" font-family='"Liberation Sans", sans-serif' font-size="6.7" fill="#A3A3A3" text-anchor="middle" >A</text>
<text x="245.15" y="727.90" font-family='"Liberation Sans", sans-serif' font-size="6.7" fill="#A3A3A3" text-anchor="middle" >M</text>
<text x="255.13" y="727.90" font-family='"Liberation Sans", sans-serif' font-size="6.7" fill="#A3A3A3" text-anchor="middle" >J</text>
<text x="265.12" y="727.90" font-family='"Liberation Sans", sans-serif' font-size="6.7" fill="#A3A3A3" text-anchor="middle" >J</text>
<text x="275.10" y="727.90" font-family='"Liberation Sans", sans-serif' font-size="6.7" fill="#A3A3A3" text-anchor="middle" >A</text>
<text x="285.09" y="727.90" font-family='"Liberation Sans", sans-serif' font-size="6.7" fill="#A3A3A3" text-anchor="middle" >S</text>
<text x="295.07" y="727.90" font-family='"Liberation Sans", sans-serif' font-size="6.7" fill="#A3A3A3" text-anchor="middle" >O</text>
<text x="305.06" y="727.90" font-family='"Liberation Sans", sans-serif' font-size="6.7" fill="#A3A3A3" text-anchor="middle" >N</text>
<text x="315.04" y="727.90" font-family='"Liberation Sans", sans-serif' font-size="6.7" fill="#A3A3A3" text-anchor="middle" >D</text>
<text x="325.02" y="727.90" font-family='"Liberation Sans", sans-serif' font-size="6.7" fill="#A3A3A3" text-anchor="middle" >J</text>
<text x="335.01" y="727.90" font-family='"Liberation Sans", sans-serif' font-size="6.7" fill="#A3A3A3" text-anchor="middle" >F</text>
<text x="344.99" y="727.90" font-family='"Liberation Sans", sans-serif' font-size="6.7" fill="#A3A3A3" text-anchor="middle" >M</text>
<text x="354.98" y="727.90" font-family='"Liberation Sans", sans-serif' font-size="6.7" fill="#A3A3A3" text-anchor="middle" >A</text>
<text x="364.96" y="727.90" font-family='"Liberation Sans", sans-serif' font-size="6.7" fill="#A3A3A3" text-anchor="middle" >M</text>
<text x="374.95" y="727.90" font-family='"Liberation Sans", sans-serif' font-size="6.7" fill="#A3A3A3" text-anchor="middle" >J</text>
<text x="384.93" y="727.90" font-family='"Liberation Sans", sans-serif' font-size="6.7" fill="#A3A3A3" text-anchor="middle" >J</text>
<text x="394.92" y="727.90" font-family='"Liberation Sans", sans-serif' font-size="6.7" fill="#A3A3A3" text-anchor="middle" >A</text>
<text x="404.90" y="727.90" font-family='"Liberation Sans", sans-serif' font-size="6.7" fill="#A3A3A3" text-anchor="middle" >S</text>
<text x="414.89" y="727.90" font-family='"Liberation Sans", sans-serif' font-size="6.7" fill="#A3A3A3" text-anchor="middle" >O</text>
<text x="424.87" y="727.90" font-family='"Liberation Sans", sans-serif' font-size="6.7" fill="#A3A3A3" text-anchor="middle" >N</text>
<text x="434.86" y="727.90" font-family='"Liberation Sans", sans-serif' font-size="6.7" fill="#A3A3A3" text-anchor="middle" >D</text>
<text x="444.84" y="727.90" font-family='"Liberation Sans", sans-serif' font-size="6.7" fill="#A3A3A3" text-anchor="middle" >J</text>
<text x="454.83" y="727.90" font-family='"Liberation Sans", sans-serif' font-size="6.7" fill="#A3A3A3" text-anchor="middle" >F</text>
<text x="464.81" y="727.90" font-family='"Liberation Sans", sans-serif' font-size="6.7" fill="#A3A3A3" text-anchor="middle" >M</text>
<text x="474.80" y="727.90" font-family='"Liberation Sans", sans-serif' font-size="6.7" fill="#A3A3A3" text-anchor="middle" >A</text>
<text x="484.78" y="727.90" font-family='"Liberation Sans", sans-serif' font-size="6.7" fill="#A3A3A3" text-anchor="middle" >M</text>
<text x="494.76" y="727.90" font-family='"Liberation Sans", sans-serif' font-size="6.7" fill="#A3A3A3" text-anchor="middle" >J</text>
<text x="504.75" y="727.90" font-family='"Liberation Sans", sans-serif' font-size="6.7" fill="#A3A3A3" text-anchor="middle" >J</text>
<text x="514.73" y="727.90" font-family='"Liberation Sans", sans-serif' font-size="6.7" fill="#A3A3A3" text-anchor="middle" >A</text>
<text x="524.72" y="727.90" font-family='"Liberation Sans", sans-serif' font-size="6.7" fill="#A3A3A3" text-anchor="middle" >S</text>
<text x="534.70" y="727.90" font-family='"Liberation Sans", sans-serif' font-size="6.7" fill="#A3A3A3" text-anchor="middle" >O</text>
<text x="544.69" y="727.90" font-family='"Liberation Sans", sans-serif' font-size="6.7" fill="#A3A3A3" text-anchor="middle" >N</text>
<text x="554.67" y="727.90" font-family='"Liberation Sans", sans-serif' font-size="6.7" fill="#A3A3A3" text-anchor="middle" >D</text>
<text x="564.66" y="727.90" font-family='"Liberation Sans", sans-serif' font-size="6.7" fill="#A3A3A3" text-anchor="middle" >J</text>
<line x1="80.00" y1="733.50" x2="571.50" y2="733.50" stroke="#7F7F7F" stroke-width="1" />
<line x1="80.50" y1="730.50" x2="80.50" y2="733.50" stroke="#7F7F7F" stroke-width="1" />
<line x1="90.50" y1="730.50" x2="90.50" y2="733.50" stroke="#7F7F7F" stroke-width="1" />
<line x1="100.50" y1="730.50" x2="100.50" y2="733.50" stroke="#7F7F7F" stroke-width="1" />
<line x1="110.50" y1="730.50" x2="110.50" y2="733.50" stroke="#7F7F7F" stroke-width="1" />
<line x1="120.50" y1="730.50" x2="120.50" y2="733.50" stroke="#7F7F7F" stroke-width="1" />
<line x1="130.50" y1="730.50" x2="130.50" y2="733.50" stroke="#7F7F7F" stroke-width="1" />
<line x1="140.50" y1="730.50" x2="140.50" y2="733.50" stroke="#7F7F7F" stroke-width="1" />
<line x1="150.50" y1="730.50" x2="150.50" y2="733.50" stroke="#7F7F7F" stroke-width="1" />
<line x1="160.50" y1="730.50" x2="160.50" y2="733.50" stroke="#7F7F7F" stroke-width="1" />
<line x1="170.50" y1="730.50" x2="170.50" y2="733.50" stroke="#7F7F7F" stroke-width="1" />
<line x1="180.50" y1="730.50" x2="180.50" y2="733.50" stroke="#7F7F7F" stroke-width="1" />
<line x1="190.50" y1="730.50" x2="190.50" y2="733.50" stroke="#7F7F7F" stroke-width="1" />
<line x1="200.50" y1="730.50" x2="200.50" y2="733.50" stroke="#7F7F7F" stroke-width="1" />
<line x1="210.50" y1="730.50" x2="210.50" y2="733.50" stroke="#7F7F7F" stroke-width="1" />
<line x1="220.50" y1="730.50" x2="220.50" y2="733.50" stroke="#7F7F7F" stroke-width="1" />
<line x1="230.50" y1="730.50" x2="230.50" y2="733.50" stroke="#7F7F7F" stroke-width="1" />
<line x1="240.50" y1="730.50" x2="240.50" y2="733.50" stroke="#7F7F7F" stroke-width="1" />
<line x1="250.50" y1="730.50" x2="250.50" y2="733.50" stroke="#7F7F7F" stroke-width="1" />
<line x1="260.50" y1="730.50" x2="260.50" y2="733.50" stroke="#7F7F7F" stroke-width="1" />
<line x1="270.50" y1="730.50" x2="270.50" y2="733.50" stroke="#7F7F7F" stroke-width="1" />
<line x1="280.50" y1="730.50" x2="280.50" y2="733.50" stroke="#7F7F7F" stroke-width="1" />
<line x1="290.50" y1="730.50" x2="290.50" y2="733.50" stroke="#7F7F7F" stroke-width="1" />
<line x1="300.50" y1="730.50" x2="300.50" y2="733.50" stroke="#7F7F7F" stroke-width="1" />
<line x1="310.50" y1="730.50" x2="310.50" y2="733.50" stroke="#7F7F7F" stroke-width="1" />
<line x1="320.50" y1="730.50" x2="320.50" y2="733.50" stroke="#7F7F7F" stroke-width="1" />
<line x1="330.50" y1="730.50" x2="330.50" y2="733.50" stroke="#7F7F7F" stroke-width="1" />
<line x1="340.50" y1="730.50" x2="340.50" y2="733.50" stroke="#7F7F7F" stroke-width="1" />
<line x1="349.50" y1="730.50" x2="349.50" y2="733.50" stroke="#7F7F7F" stroke-width="1" />
<line x1="359.50" y1="730.50" x2="359.50" y2="733.50" stroke="#7F7F7F" stroke-width="1" />
<line x1="369.50" y1="730.50" x2="369.50" y2="733.50" stroke="#7F7F7F" stroke-width="1" />
<line x1="379.50" y1="730.50" x2="379.50" y2="733.50" stroke="#7F7F7F" stroke-width="1" />
<line x1="389.50" y1="730.50" x2="389.50" y2="733.50" stroke="#7F7F7F" stroke-width="1" />
<line x1="399.50" y1="730.50" x2="399.50" y2="733.50" stroke="#7F7F7F" stroke-width="1" />
<line x1="409.50" y1="730.50" x2="409.50" y2="733.50" stroke="#7F7F7F" stroke-width="1" />
<line x1="419.50" y1="730.50" x2="419.50" y2="733.50" stroke="#7F7F7F" stroke-width="1" />
<line x1="429.50" y1="730.50" x2="429.50" y2="733.50" stroke="#7F7F7F" stroke-width="1" />
<line x1="439.50" y1="730.50" x2="439.50" y2="733.50" stroke="#7F7F7F" stroke-width="1" />
<line x1="449.50" y1="730.50" x2="449.50" y2="733.50" stroke="#7F7F7F" stroke-width="1" />
<line x1="459.50" y1="730.50" x2="459.50" y2="733.50" stroke="#7F7F7F" stroke-width="1" />
<line x1="469.50" y1="730.50" x2="469.50" y2="733.50" stroke="#7F7F7F" stroke-width="1" />
<line x1="479.50" y1="730.50" x2="479.50" y2="733.50" stroke="#7F7F7F" stroke-width="1" />
<line x1="489.50" y1="730.50" x2="489.50" y2="733.50" stroke="#7F7F7F" stroke-width="1" />
<line x1="499.50" y1="730.50" x2="499.50" y2="733.50" stroke="#7F7F7F" stroke-width="1" />
<line x1="509.50" y1="730.50" x2="509.50" y2="733.50" stroke="#7F7F7F" stroke-width="1" />
<line x1="519.50" y1="730.50" x2="519.50" y2="733.50" stroke="#7F7F7F" stroke-width="1" />
<line x1="529.50" y1="730.50" x2="529.50" y2="733.50" stroke="#7F7F7F" stroke-width="1" />
<line x1="539.50" y1="730.50" x2="539.50" y2="733.50" stroke="#7F7F7F" stroke-width="1" />
<line x1="549.50" y1="730.50" x2="549.50" y2="733.50" stroke="#7F7F7F" stroke-width="1" />
<line x1="559.50" y1="730.50" x2="559.50" y2="733.50" stroke="#7F7F7F" stroke-width="1" />
<line x1="569.50" y1="730.50" x2="569.50" y2="733.50" stroke="#7F7F7F" stroke-width="1" />
<text transform="translate(28.70 674.70) rotate(-90)" text-anchor="middle" font-family='"Liberation Sans", sans-serif' font-weight="bold" font-size="8.8" fill="#1F497D" stroke="#1F497D" stroke-width="0.25" textLength="73" lengthAdjust="spacingAndGlyphs">Average Sale Price</text>
<text x="19.50" y="748.00" font-family='"Liberation Serif", serif' font-size="7.0" fill="#595959" textLength="521.50" lengthAdjust="spacingAndGlyphs" >Produced by Florida Realtors® with data provided by Florida's multiple listing services. Statistics for each month compiled from MLS feeds on the 10th day of the following month.</text>
<text x="19.50" y="757.10" font-family='"Liberation Serif", serif' font-size="7.0" fill="#595959" textLength="265.50" lengthAdjust="spacingAndGlyphs" >Data released on Tuesday, February 17, 2026. Next data release is Monday, March 16, 2026.</text>
<rect x="618.4" y="94.2" width="14.8" height="198" fill="url(#gvb)"/>
<path d="M618.4 94.7 V27 a15.2 15.2 0 0 1 15.2 -15.2 H1082 V94.7 Z" fill="url(#ghb)"/>
<path d="M618.4 94.7 V27 a15.2 15.2 0 0 1 15.2 -15.2 H1082 V94.7 Z" fill="url(#gdb)"/>
<path d="M805 11.8 C862 30 918 62 949 94.7 H1040 V11.8 Z" fill="url(#gsb)" clip-path="url(#cpb)"/>
<path d="M618.4 11.8 H805 C862 30 918 62 949 94.7 H618.4 Z" fill="#3F86C6" opacity="0.16" clip-path="url(#cpb)"/>
<path d="M618.4 50 C720 48 850 68 912 94.7 H618.4 Z" fill="#3C7FBE" opacity="0.14" clip-path="url(#cpb)"/>
<text x="635.10" y="40.10" font-family='"Liberation Sans", sans-serif' font-size="15.6" fill="#173F6B" textLength="203.50" lengthAdjust="spacingAndGlyphs" opacity="0.75" stroke="#173F6B" stroke-width="0.5" filter="url(#blur)">Monthly Market Detail - January 2026</text>
<text x="634.10" y="38.80" font-family='"Liberation Sans", sans-serif' font-size="15.6" fill="#FFFFFF" textLength="203.50" lengthAdjust="spacingAndGlyphs" stroke="#FFFFFF" stroke-width="0.3">Monthly Market Detail - January 2026</text>
<text x="635.10" y="60.00" font-family='"Liberation Sans", sans-serif' font-size="15.6" fill="#173F6B" textLength="134.30" lengthAdjust="spacingAndGlyphs" opacity="0.75" stroke="#173F6B" stroke-width="0.5" filter="url(#blur)">Townhouses and Condos</text>
<text x="634.10" y="58.70" font-family='"Liberation Sans", sans-serif' font-size="15.6" fill="#FFFFFF" textLength="134.30" lengthAdjust="spacingAndGlyphs" stroke="#FFFFFF" stroke-width="0.3">Townhouses and Condos</text>
<text x="635.10" y="79.30" font-family='"Liberation Sans", sans-serif' font-size="15.6" fill="#173F6B" textLength="75.50" lengthAdjust="spacingAndGlyphs" opacity="0.75" stroke="#173F6B" stroke-width="0.5" filter="url(#blur)">Collier County</text>
<text x="634.10" y="78.00" font-family='"Liberation Sans", sans-serif' font-size="15.6" fill="#FFFFFF" textLength="75.50" lengthAdjust="spacingAndGlyphs" stroke="#FFFFFF" stroke-width="0.3">Collier County</text>
<rect x="1047.60" y="0.00" width="152.40" height="89.20" fill="#FFFFFF" />
<text x="1047.80" y="19.10" font-family='"Liberation Sans", sans-serif' font-size="17.8" fill="#000" font-weight="bold" textLength="131.40" lengthAdjust="spacingAndGlyphs" stroke="#fff" stroke-width="0.22">BERKSHIRE</text>
<text x="1047.80" y="40.10" font-family='"Liberation Sans", sans-serif' font-size="18.2" fill="#000" font-weight="bold" textLength="131.40" lengthAdjust="spacingAndGlyphs" stroke="#fff" stroke-width="0.22">HATHAWAY</text>
<text x="1048.20" y="57.80" font-family='"Liberation Sans", sans-serif' font-size="10.3" font-weight="bold" fill="#000" textLength="130.6" lengthAdjust="spacing" stroke="#fff" stroke-width="0.25">HOMESERVICES</text>
<line x1="1048.00" y1="66.30" x2="1179.00" y2="66.30" stroke="#000" stroke-width="0.8" />
<text x="1048.00" y="88.50" font-family='"Liberation Sans", sans-serif' font-size="17.8" fill="#000" textLength="144.20" lengthAdjust="spacingAndGlyphs" stroke="#fff" stroke-width="0.45">FLORIDA REALTY</text>
<rect x="634.80" y="96.90" width="329.00" height="68.40" fill="#7F7F7F" />
<text x="641.00" y="118.00" font-family='"Liberation Sans", sans-serif' font-size="19.4" fill="#9BBB59" textLength="94.00" lengthAdjust="spacingAndGlyphs" stroke="#9BBB59" stroke-width="0.3">Dollar Volume</text>
<line x1="909.00" y1="118.60" x2="963.80" y2="118.60" stroke="#A8A8A8" stroke-width="0.7" />
<text x="641.80" y="141.80" font-family='"Liberation Sans", sans-serif' font-size="12.3" fill="#FFFFFF" textLength="285.50" lengthAdjust="spacingAndGlyphs" stroke="#FFFFFF" stroke-width="0.15">The sum of the sale prices for all sales which closed</text>
<text x="641.80" y="158.80" font-family='"Liberation Sans", sans-serif' font-size="12.3" fill="#FFFFFF" textLength="98.00" lengthAdjust="spacingAndGlyphs" stroke="#FFFFFF" stroke-width="0.15">during the month</text>
<text x="651.70" y="186.70" font-family='"Liberation Serif", serif' font-size="10.4" fill="#55692B" textLength="285.50" lengthAdjust="spacingAndGlyphs" xml:space="preserve" stroke="#55692B" stroke-width="0.2"><tspan font-weight='bold' font-style='italic'>Economists' note</tspan> :  Dollar Volume is simply the sum of all sale prices</text>
<text x="651.70" y="199.02" font-family='"Liberation Serif", serif' font-size="10.4" fill="#55692B" textLength="278.60" lengthAdjust="spacingAndGlyphs" xml:space="preserve" stroke="#55692B" stroke-width="0.2">in a given time period, and can quickly be calculated by multiplying</text>
<text x="651.70" y="211.34" font-family='"Liberation Serif", serif' font-size="10.4" fill="#55692B" textLength="294.20" lengthAdjust="spacingAndGlyphs" xml:space="preserve" stroke="#55692B" stroke-width="0.2">Closed Sales by Average Sale Price.  It is a strong indicator of the health</text>
<text x="651.70" y="223.66" font-family='"Liberation Serif", serif' font-size="10.4" fill="#55692B" textLength="283.80" lengthAdjust="spacingAndGlyphs" xml:space="preserve" stroke="#55692B" stroke-width="0.2">of the real estate industry in a market, and is of particular interest to</text>
<text x="651.70" y="235.98" font-family='"Liberation Serif", serif' font-size="10.4" fill="#55692B" textLength="295.30" lengthAdjust="spacingAndGlyphs" xml:space="preserve" stroke="#55692B" stroke-width="0.2">real estate professionals, investors, analysts, and government agencies.</text>
<text x="651.70" y="248.30" font-family='"Liberation Serif", serif' font-size="10.4" fill="#55692B" textLength="289.50" lengthAdjust="spacingAndGlyphs" xml:space="preserve" stroke="#55692B" stroke-width="0.2">Potential home sellers and home buyers, on the other hand, will likely</text>
<text x="651.70" y="260.62" font-family='"Liberation Serif", serif' font-size="10.4" fill="#55692B" textLength="286.90" lengthAdjust="spacingAndGlyphs" xml:space="preserve" stroke="#55692B" stroke-width="0.2">be better served by paying attention to trends in the two components</text>
<text x="651.70" y="272.94" font-family='"Liberation Serif", serif' font-size="10.4" fill="#55692B" textLength="212.80" lengthAdjust="spacingAndGlyphs" xml:space="preserve" stroke="#55692B" stroke-width="0.2">of Dollar Volume (i.e. sales and prices) individually.</text>
<rect x="966.20" y="96.90" width="92.30" height="20.40" fill="#9BBB59" />
<rect x="1060.80" y="96.90" width="60.80" height="20.40" fill="#9BBB59" />
<rect x="1124.00" y="96.90" width="61.00" height="20.40" fill="#9BBB59" />
<text x="973.90" y="109.50" font-family='"Liberation Sans", sans-serif' font-size="7.9" fill="#1A1A1A" textLength="19.30" lengthAdjust="spacingAndGlyphs" stroke="#1A1A1A" stroke-width="0.22">Month</text>
<text x="1091.30" y="109.90" font-family='"Liberation Sans", sans-serif' font-size="8.0" fill="#1A1A1A" text-anchor="middle" textLength="42.40" lengthAdjust="spacingAndGlyphs" stroke="#1A1A1A" stroke-width="0.22">Dollar Volume</text>
<text x="1154.50" y="104.80" font-family='"Liberation Sans", sans-serif' font-size="7.6" fill="#1A1A1A" text-anchor="middle" textLength="42.80" lengthAdjust="spacingAndGlyphs" stroke="#1A1A1A" stroke-width="0.22">Percent Change</text>
<text x="1154.50" y="115.20" font-family='"Liberation Sans", sans-serif' font-size="7.6" fill="#1A1A1A" text-anchor="middle" textLength="40.30" lengthAdjust="spacingAndGlyphs" stroke="#1A1A1A" stroke-width="0.22">Year-over-Year</text>
<rect x="966.20" y="119.20" width="92.30" height="10.00" fill="url(#gm)" />
<rect x="1060.80" y="119.20" width="60.80" height="10.00" fill="url(#gc)" />
<rect x="1124.00" y="119.20" width="61.00" height="10.00" fill="url(#gc)" />
<text x="973.90" y="127.30" font-family='"Liberation Sans", sans-serif' font-size="9.0" fill="#1A1A1A" textLength="39.20" lengthAdjust="spacingAndGlyphs" stroke="#1A1A1A" stroke-width="0.22">Year-to-Date</text>
<text x="1091.30" y="127.30" font-family='"Liberation Sans", sans-serif' font-size="8.1" fill="#1A1A1A" text-anchor="middle" stroke="#1A1A1A" stroke-width="0.12">$251.6 Million</text>
<text x="1154.50" y="127.30" font-family='"Liberation Sans", sans-serif' font-size="8.1" fill="#1A1A1A" text-anchor="middle" stroke="#1A1A1A" stroke-width="0.12">6.2%</text>
<rect x="966.20" y="131.25" width="92.30" height="10.00" fill="url(#gm)" />
<rect x="1060.80" y="131.25" width="60.80" height="10.00" fill="url(#gc)" />
<rect x="1124.00" y="131.25" width="61.00" height="10.00" fill="url(#gc)" />
<text x="973.90" y="139.35" font-family='"Liberation Sans", sans-serif' font-size="9.0" fill="#1A1A1A" font-weight="bold" textLength="42.10" lengthAdjust="spacingAndGlyphs" stroke="#1A1A1A" stroke-width="0.2">January 2026</text>
<text x="1091.30" y="139.35" font-family='"Liberation Sans", sans-serif' font-size="8.1" fill="#1A1A1A" font-weight="bold" text-anchor="middle" stroke="#1A1A1A" stroke-width="0.25">$251.6 Million</text>
<text x="1154.50" y="139.35" font-family='"Liberation Sans", sans-serif' font-size="8.1" fill="#1A1A1A" font-weight="bold" text-anchor="middle" stroke="#1A1A1A" stroke-width="0.25">6.2%</text>
<rect x="966.20" y="143.30" width="92.30" height="10.00" fill="url(#gm)" />
<rect x="1060.80" y="143.30" width="60.80" height="10.00" fill="url(#gc)" />
<rect x="1124.00" y="143.30" width="61.00" height="10.00" fill="url(#gc)" />
<text x="973.90" y="151.40" font-family='"Liberation Sans", sans-serif' font-size="9.0" fill="#1A1A1A" textLength="47.60" lengthAdjust="spacingAndGlyphs" stroke="#1A1A1A" stroke-width="0.22">December 2025</text>
<text x="1091.30" y="151.40" font-family='"Liberation Sans", sans-serif' font-size="8.1" fill="#1A1A1A" text-anchor="middle" stroke="#1A1A1A" stroke-width="0.12">$301.8 Million</text>
<text x="1154.50" y="151.40" font-family='"Liberation Sans", sans-serif' font-size="8.1" fill="#1A1A1A" text-anchor="middle" stroke="#1A1A1A" stroke-width="0.12">29.3%</text>
<rect x="966.20" y="155.35" width="92.30" height="10.00" fill="url(#gm)" />
<rect x="1060.80" y="155.35" width="60.80" height="10.00" fill="url(#gc)" />
<rect x="1124.00" y="155.35" width="61.00" height="10.00" fill="url(#gc)" />
<text x="973.90" y="163.45" font-family='"Liberation Sans", sans-serif' font-size="9.0" fill="#1A1A1A" textLength="47.60" lengthAdjust="spacingAndGlyphs" stroke="#1A1A1A" stroke-width="0.22">November 2025</text>
<text x="1091.30" y="163.45" font-family='"Liberation Sans", sans-serif' font-size="8.1" fill="#1A1A1A" text-anchor="middle" stroke="#1A1A1A" stroke-width="0.12">$193.5 Million</text>
<text x="1154.50" y="163.45" font-family='"Liberation Sans", sans-serif' font-size="8.1" fill="#1A1A1A" text-anchor="middle" stroke="#1A1A1A" stroke-width="0.12">14.3%</text>
<rect x="966.20" y="167.40" width="92.30" height="10.00" fill="url(#gm)" />
<rect x="1060.80" y="167.40" width="60.80" height="10.00" fill="url(#gc)" />
<rect x="1124.00" y="167.40" width="61.00" height="10.00" fill="url(#gc)" />
<text x="973.90" y="175.50" font-family='"Liberation Sans", sans-serif' font-size="9.0" fill="#1A1A1A" textLength="41.10" lengthAdjust="spacingAndGlyphs" stroke="#1A1A1A" stroke-width="0.22">October 2025</text>
<text x="1091.30" y="175.50" font-family='"Liberation Sans", sans-serif' font-size="8.1" fill="#1A1A1A" text-anchor="middle" stroke="#1A1A1A" stroke-width="0.12">$222.5 Million</text>
<text x="1154.50" y="175.50" font-family='"Liberation Sans", sans-serif' font-size="8.1" fill="#1A1A1A" text-anchor="middle" stroke="#1A1A1A" stroke-width="0.12">26.2%</text>
<rect x="966.20" y="179.45" width="92.30" height="10.00" fill="url(#gm)" />
<rect x="1060.80" y="179.45" width="60.80" height="10.00" fill="url(#gc)" />
<rect x="1124.00" y="179.45" width="61.00" height="10.00" fill="url(#gc)" />
<text x="973.90" y="187.55" font-family='"Liberation Sans", sans-serif' font-size="9.0" fill="#1A1A1A" textLength="50.10" lengthAdjust="spacingAndGlyphs" stroke="#1A1A1A" stroke-width="0.22">September 2025</text>
<text x="1091.30" y="187.55" font-family='"Liberation Sans", sans-serif' font-size="8.1" fill="#1A1A1A" text-anchor="middle" stroke="#1A1A1A" stroke-width="0.12">$226.5 Million</text>
<text x="1154.50" y="187.55" font-family='"Liberation Sans", sans-serif' font-size="8.1" fill="#1A1A1A" text-anchor="middle" stroke="#1A1A1A" stroke-width="0.12">21.8%</text>
<rect x="966.20" y="191.50" width="92.30" height="10.00" fill="url(#gm)" />
<rect x="1060.80" y="191.50" width="60.80" height="10.00" fill="url(#gc)" />
<rect x="1124.00" y="191.50" width="61.00" height="10.00" fill="url(#gc)" />
<text x="973.90" y="199.60" font-family='"Liberation Sans", sans-serif' font-size="9.0" fill="#1A1A1A" textLength="39.00" lengthAdjust="spacingAndGlyphs" stroke="#1A1A1A" stroke-width="0.22">August 2025</text>
<text x="1091.30" y="199.60" font-family='"Liberation Sans", sans-serif' font-size="8.1" fill="#1A1A1A" text-anchor="middle" stroke="#1A1A1A" stroke-width="0.12">$192.5 Million</text>
<text x="1154.50" y="199.60" font-family='"Liberation Sans", sans-serif' font-size="8.1" fill="#1A1A1A" text-anchor="middle" stroke="#1A1A1A" stroke-width="0.12">-26.7%</text>
<rect x="966.20" y="203.55" width="92.30" height="10.00" fill="url(#gm)" />
<rect x="1060.80" y="203.55" width="60.80" height="10.00" fill="url(#gc)" />
<rect x="1124.00" y="203.55" width="61.00" height="10.00" fill="url(#gc)" />
<text x="973.90" y="211.65" font-family='"Liberation Sans", sans-serif' font-size="9.0" fill="#1A1A1A" textLength="29.30" lengthAdjust="spacingAndGlyphs" stroke="#1A1A1A" stroke-width="0.22">July 2025</text>
<text x="1091.30" y="211.65" font-family='"Liberation Sans", sans-serif' font-size="8.1" fill="#1A1A1A" text-anchor="middle" stroke="#1A1A1A" stroke-width="0.12">$218.3 Million</text>
<text x="1154.50" y="211.65" font-family='"Liberation Sans", sans-serif' font-size="8.1" fill="#1A1A1A" text-anchor="middle" stroke="#1A1A1A" stroke-width="0.12">-4.7%</text>
<rect x="966.20" y="215.60" width="92.30" height="10.00" fill="url(#gm)" />
<rect x="1060.80" y="215.60" width="60.80" height="10.00" fill="url(#gc)" />
<rect x="1124.00" y="215.60" width="61.00" height="10.00" fill="url(#gc)" />
<text x="973.90" y="223.70" font-family='"Liberation Sans", sans-serif' font-size="9.0" fill="#1A1A1A" textLength="31.40" lengthAdjust="spacingAndGlyphs" stroke="#1A1A1A" stroke-width="0.22">June 2025</text>
<text x="1091.30" y="223.70" font-family='"Liberation Sans", sans-serif' font-size="8.1" fill="#1A1A1A" text-anchor="middle" stroke="#1A1A1A" stroke-width="0.12">$265.2 Million</text>
<text x="1154.50" y="223.70" font-family='"Liberation Sans", sans-serif' font-size="8.1" fill="#1A1A1A" text-anchor="middle" stroke="#1A1A1A" stroke-width="0.12">-18.6%</text>
<rect x="966.20" y="227.65" width="92.30" height="10.00" fill="url(#gm)" />
<rect x="1060.80" y="227.65" width="60.80" height="10.00" fill="url(#gc)" />
<rect x="1124.00" y="227.65" width="61.00" height="10.00" fill="url(#gc)" />
<text x="973.90" y="235.75" font-family='"Liberation Sans", sans-serif' font-size="9.0" fill="#1A1A1A" textLength="29.60" lengthAdjust="spacingAndGlyphs" stroke="#1A1A1A" stroke-width="0.22">May 2025</text>
<text x="1091.30" y="235.75" font-family='"Liberation Sans", sans-serif' font-size="8.1" fill="#1A1A1A" text-anchor="middle" stroke="#1A1A1A" stroke-width="0.12">$321.7 Million</text>
<text x="1154.50" y="235.75" font-family='"Liberation Sans", sans-serif' font-size="8.1" fill="#1A1A1A" text-anchor="middle" stroke="#1A1A1A" stroke-width="0.12">-30.1%</text>
<rect x="966.20" y="239.70" width="92.30" height="10.00" fill="url(#gm)" />
<rect x="1060.80" y="239.70" width="60.80" height="10.00" fill="url(#gc)" />
<rect x="1124.00" y="239.70" width="61.00" height="10.00" fill="url(#gc)" />
<text x="973.90" y="247.80" font-family='"Liberation Sans", sans-serif' font-size="9.0" fill="#1A1A1A" textLength="31.50" lengthAdjust="spacingAndGlyphs" stroke="#1A1A1A" stroke-width="0.22">April 2025</text>
<text x="1091.30" y="247.80" font-family='"Liberation Sans", sans-serif' font-size="8.1" fill="#1A1A1A" text-anchor="middle" stroke="#1A1A1A" stroke-width="0.12">$438.8 Million</text>
<text x="1154.50" y="247.80" font-family='"Liberation Sans", sans-serif' font-size="8.1" fill="#1A1A1A" text-anchor="middle" stroke="#1A1A1A" stroke-width="0.12">-15.2%</text>
<rect x="966.20" y="251.75" width="92.30" height="10.00" fill="url(#gm)" />
<rect x="1060.80" y="251.75" width="60.80" height="10.00" fill="url(#gc)" />
<rect x="1124.00" y="251.75" width="61.00" height="10.00" fill="url(#gc)" />
<text x="973.90" y="259.85" font-family='"Liberation Sans", sans-serif' font-size="9.0" fill="#1A1A1A" textLength="36.00" lengthAdjust="spacingAndGlyphs" stroke="#1A1A1A" stroke-width="0.22">March 2025</text>
<text x="1091.30" y="259.85" font-family='"Liberation Sans", sans-serif' font-size="8.1" fill="#1A1A1A" text-anchor="middle" stroke="#1A1A1A" stroke-width="0.12">$390.7 Million</text>
<text x="1154.50" y="259.85" font-family='"Liberation Sans", sans-serif' font-size="8.1" fill="#1A1A1A" text-anchor="middle" stroke="#1A1A1A" stroke-width="0.12">-19.5%</text>
<rect x="966.20" y="263.80" width="92.30" height="10.00" fill="url(#gm)" />
<rect x="1060.80" y="263.80" width="60.80" height="10.00" fill="url(#gc)" />
<rect x="1124.00" y="263.80" width="61.00" height="10.00" fill="url(#gc)" />
<text x="973.90" y="271.90" font-family='"Liberation Sans", sans-serif' font-size="9.0" fill="#1A1A1A" textLength="43.80" lengthAdjust="spacingAndGlyphs" stroke="#1A1A1A" stroke-width="0.22">February 2025</text>
<text x="1091.30" y="271.90" font-family='"Liberation Sans", sans-serif' font-size="8.1" fill="#1A1A1A" text-anchor="middle" stroke="#1A1A1A" stroke-width="0.12">$287.2 Million</text>
<text x="1154.50" y="271.90" font-family='"Liberation Sans", sans-serif' font-size="8.1" fill="#1A1A1A" text-anchor="middle" stroke="#1A1A1A" stroke-width="0.12">-10.7%</text>
<rect x="966.20" y="275.85" width="92.30" height="10.00" fill="url(#gm)" />
<rect x="1060.80" y="275.85" width="60.80" height="10.00" fill="url(#gc)" />
<rect x="1124.00" y="275.85" width="61.00" height="10.00" fill="url(#gc)" />
<text x="973.90" y="283.95" font-family='"Liberation Sans", sans-serif' font-size="9.0" fill="#1A1A1A" textLength="41.00" lengthAdjust="spacingAndGlyphs" stroke="#1A1A1A" stroke-width="0.22">January 2025</text>
<text x="1091.30" y="283.95" font-family='"Liberation Sans", sans-serif' font-size="8.1" fill="#1A1A1A" text-anchor="middle" stroke="#1A1A1A" stroke-width="0.12">$236.9 Million</text>
<text x="1154.50" y="283.95" font-family='"Liberation Sans", sans-serif' font-size="8.1" fill="#1A1A1A" text-anchor="middle" stroke="#1A1A1A" stroke-width="0.12">5.9%</text>
<line x1="680.50" y1="311.50" x2="1169.50" y2="311.50" stroke="#DADADA" stroke-width="1" />
<line x1="680.50" y1="396.50" x2="1169.50" y2="396.50" stroke="#DADADA" stroke-width="1" />
<line x1="680.50" y1="384.50" x2="1169.50" y2="384.50" stroke="#DADADA" stroke-width="1" />
<line x1="680.50" y1="372.50" x2="1169.50" y2="372.50" stroke="#DADADA" stroke-width="1" />
<line x1="680.50" y1="360.50" x2="1169.50" y2="360.50" stroke="#DADADA" stroke-width="1" />
<line x1="680.50" y1="348.50" x2="1169.50" y2="348.50" stroke="#DADADA" stroke-width="1" />
<line x1="680.50" y1="336.50" x2="1169.50" y2="336.50" stroke="#DADADA" stroke-width="1" />
<line x1="680.50" y1="324.50" x2="1169.50" y2="324.50" stroke="#DADADA" stroke-width="1" />
<line x1="680.50" y1="311.50" x2="680.50" y2="396.50" stroke="#DADADA" stroke-width="1" />
<line x1="690.50" y1="311.50" x2="690.50" y2="396.50" stroke="#DADADA" stroke-width="1" />
<line x1="700.50" y1="311.50" x2="700.50" y2="396.50" stroke="#DADADA" stroke-width="1" />
<line x1="710.50" y1="311.50" x2="710.50" y2="396.50" stroke="#DADADA" stroke-width="1" />
<line x1="720.50" y1="311.50" x2="720.50" y2="396.50" stroke="#DADADA" stroke-width="1" />
<line x1="730.50" y1="311.50" x2="730.50" y2="396.50" stroke="#DADADA" stroke-width="1" />
<line x1="740.50" y1="311.50" x2="740.50" y2="396.50" stroke="#DADADA" stroke-width="1" />
<line x1="750.50" y1="311.50" x2="750.50" y2="396.50" stroke="#DADADA" stroke-width="1" />
<line x1="760.50" y1="311.50" x2="760.50" y2="396.50" stroke="#DADADA" stroke-width="1" />
<line x1="770.50" y1="311.50" x2="770.50" y2="396.50" stroke="#DADADA" stroke-width="1" />
<line x1="780.50" y1="311.50" x2="780.50" y2="396.50" stroke="#DADADA" stroke-width="1" />
<line x1="790.50" y1="311.50" x2="790.50" y2="396.50" stroke="#DADADA" stroke-width="1" />
<line x1="800.50" y1="311.50" x2="800.50" y2="396.50" stroke="#DADADA" stroke-width="1" />
<line x1="810.50" y1="311.50" x2="810.50" y2="396.50" stroke="#DADADA" stroke-width="1" />
<line x1="820.50" y1="311.50" x2="820.50" y2="396.50" stroke="#DADADA" stroke-width="1" />
<line x1="830.50" y1="311.50" x2="830.50" y2="396.50" stroke="#DADADA" stroke-width="1" />
<line x1="840.50" y1="311.50" x2="840.50" y2="396.50" stroke="#DADADA" stroke-width="1" />
<line x1="850.50" y1="311.50" x2="850.50" y2="396.50" stroke="#DADADA" stroke-width="1" />
<line x1="860.50" y1="311.50" x2="860.50" y2="396.50" stroke="#DADADA" stroke-width="1" />
<line x1="870.50" y1="311.50" x2="870.50" y2="396.50" stroke="#DADADA" stroke-width="1" />
<line x1="880.50" y1="311.50" x2="880.50" y2="396.50" stroke="#DADADA" stroke-width="1" />
<line x1="890.50" y1="311.50" x2="890.50" y2="396.50" stroke="#DADADA" stroke-width="1" />
<line x1="900.50" y1="311.50" x2="900.50" y2="396.50" stroke="#DADADA" stroke-width="1" />
<line x1="910.50" y1="311.50" x2="910.50" y2="396.50" stroke="#DADADA" stroke-width="1" />
<line x1="920.50" y1="311.50" x2="920.50" y2="396.50" stroke="#DADADA" stroke-width="1" />
<line x1="930.50" y1="311.50" x2="930.50" y2="396.50" stroke="#DADADA" stroke-width="1" />
<line x1="940.50" y1="311.50" x2="940.50" y2="396.50" stroke="#DADADA" stroke-width="1" />
<line x1="949.50" y1="311.50" x2="949.50" y2="396.50" stroke="#DADADA" stroke-width="1" />
<line x1="959.50" y1="311.50" x2="959.50" y2="396.50" stroke="#DADADA" stroke-width="1" />
<line x1="969.50" y1="311.50" x2="969.50" y2="396.50" stroke="#DADADA" stroke-width="1" />
<line x1="979.50" y1="311.50" x2="979.50" y2="396.50" stroke="#DADADA" stroke-width="1" />
<line x1="989.50" y1="311.50" x2="989.50" y2="396.50" stroke="#DADADA" stroke-width="1" />
<line x1="999.50" y1="311.50" x2="999.50" y2="396.50" stroke="#DADADA" stroke-width="1" />
<line x1="1009.50" y1="311.50" x2="1009.50" y2="396.50" stroke="#DADADA" stroke-width="1" />
<line x1="1019.50" y1="311.50" x2="1019.50" y2="396.50" stroke="#DADADA" stroke-width="1" />
<line x1="1029.50" y1="311.50" x2="1029.50" y2="396.50" stroke="#DADADA" stroke-width="1" />
<line x1="1039.50" y1="311.50" x2="1039.50" y2="396.50" stroke="#DADADA" stroke-width="1" />
<line x1="1049.50" y1="311.50" x2="1049.50" y2="396.50" stroke="#DADADA" stroke-width="1" />
<line x1="1059.50" y1="311.50" x2="1059.50" y2="396.50" stroke="#DADADA" stroke-width="1" />
<line x1="1069.50" y1="311.50" x2="1069.50" y2="396.50" stroke="#DADADA" stroke-width="1" />
<line x1="1079.50" y1="311.50" x2="1079.50" y2="396.50" stroke="#DADADA" stroke-width="1" />
<line x1="1089.50" y1="311.50" x2="1089.50" y2="396.50" stroke="#DADADA" stroke-width="1" />
<line x1="1099.50" y1="311.50" x2="1099.50" y2="396.50" stroke="#DADADA" stroke-width="1" />
<line x1="1109.50" y1="311.50" x2="1109.50" y2="396.50" stroke="#DADADA" stroke-width="1" />
<line x1="1119.50" y1="311.50" x2="1119.50" y2="396.50" stroke="#DADADA" stroke-width="1" />
<line x1="1129.50" y1="311.50" x2="1129.50" y2="396.50" stroke="#DADADA" stroke-width="1" />
<line x1="1139.50" y1="311.50" x2="1139.50" y2="396.50" stroke="#DADADA" stroke-width="1" />
<line x1="1149.50" y1="311.50" x2="1149.50" y2="396.50" stroke="#DADADA" stroke-width="1" />
<line x1="1159.50" y1="311.50" x2="1159.50" y2="396.50" stroke="#DADADA" stroke-width="1" />
<line x1="1169.50" y1="311.50" x2="1169.50" y2="396.50" stroke="#DADADA" stroke-width="1" />
<line x1="800.50" y1="311.50" x2="800.50" y2="396.50" stroke="#B5B5B5" stroke-width="1" />
<line x1="920.50" y1="311.50" x2="920.50" y2="396.50" stroke="#B5B5B5" stroke-width="1" />
<line x1="1039.50" y1="311.50" x2="1039.50" y2="396.50" stroke="#B5B5B5" stroke-width="1" />
<line x1="1159.50" y1="311.50" x2="1159.50" y2="396.50" stroke="#B5B5B5" stroke-width="1" />
<rect x="680.5" y="354.5" width="10.0" height="42.0" fill="#4F6228" fill-opacity="0.5" stroke="#4F6228" stroke-width="1" stroke-opacity="0.85"/>
<rect x="690.5" y="358.5" width="10.0" height="38.0" fill="#4F6228" fill-opacity="0.5" stroke="#4F6228" stroke-width="1" stroke-opacity="0.85"/>
<rect x="700.5" y="334.5" width="10.0" height="62.0" fill="#4F6228" fill-opacity="0.5" stroke="#4F6228" stroke-width="1" stroke-opacity="0.85"/>
<rect x="710.5" y="327.5" width="10.0" height="69.0" fill="#4F6228" fill-opacity="0.5" stroke="#4F6228" stroke-width="1" stroke-opacity="0.85"/>
<rect x="720.5" y="322.5" width="10.0" height="74.0" fill="#4F6228" fill-opacity="0.5" stroke="#4F6228" stroke-width="1" stroke-opacity="0.85"/>
<rect x="730.5" y="338.5" width="10.0" height="58.0" fill="#4F6228" fill-opacity="0.5" stroke="#4F6228" stroke-width="1" stroke-opacity="0.85"/>
<rect x="740.5" y="368.5" width="10.0" height="28.0" fill="#4F6228" fill-opacity="0.5" stroke="#4F6228" stroke-width="1" stroke-opacity="0.85"/>
<rect x="750.5" y="366.5" width="10.0" height="30.0" fill="#4F6228" fill-opacity="0.5" stroke="#4F6228" stroke-width="1" stroke-opacity="0.85"/>
<rect x="760.5" y="371.5" width="10.0" height="25.0" fill="#4F6228" fill-opacity="0.5" stroke="#4F6228" stroke-width="1" stroke-opacity="0.85"/>
<rect x="770.5" y="368.5" width="10.0" height="28.0" fill="#4F6228" fill-opacity="0.5" stroke="#4F6228" stroke-width="1" stroke-opacity="0.85"/>
<rect x="780.5" y="370.5" width="10.0" height="26.0" fill="#4F6228" fill-opacity="0.5" stroke="#4F6228" stroke-width="1" stroke-opacity="0.85"/>
<rect x="790.5" y="368.5" width="10.0" height="28.0" fill="#4F6228" fill-opacity="0.5" stroke="#4F6228" stroke-width="1" stroke-opacity="0.85"/>
<rect x="800.5" y="365.5" width="10.0" height="31.0" fill="#4F6228" fill-opacity="0.5" stroke="#4F6228" stroke-width="1" stroke-opacity="0.85"/>
<rect x="810.5" y="362.5" width="10.0" height="34.0" fill="#4F6228" fill-opacity="0.5" stroke="#4F6228" stroke-width="1" stroke-opacity="0.85"/>
<rect x="820.5" y="338.5" width="10.0" height="58.0" fill="#4F6228" fill-opacity="0.5" stroke="#4F6228" stroke-width="1" stroke-opacity="0.85"/>
<rect x="830.5" y="337.5" width="10.0" height="59.0" fill="#4F6228" fill-opacity="0.5" stroke="#4F6228" stroke-width="1" stroke-opacity="0.85"/>
<rect x="840.5" y="335.5" width="10.0" height="61.0" fill="#4F6228" fill-opacity="0.5" stroke="#4F6228" stroke-width="1" stroke-opacity="0.85"/>
<rect x="850.5" y="355.5" width="10.0" height="41.0" fill="#4F6228" fill-opacity="0.5" stroke="#4F6228" stroke-width="1" stroke-opacity="0.85"/>
<rect x="860.5" y="370.5" width="10.0" height="26.0" fill="#4F6228" fill-opacity="0.5" stroke="#4F6228" stroke-width="1" stroke-opacity="0.85"/>
<rect x="870.5" y="362.5" width="10.0" height="34.0" fill="#4F6228" fill-opacity="0.5" stroke="#4F6228" stroke-width="1" stroke-opacity="0.85"/>
<rect x="880.5" y="368.5" width="10.0" height="28.0" fill="#4F6228" fill-opacity="0.5" stroke="#4F6228" stroke-width="1" stroke-opacity="0.85"/>
<rect x="890.5" y="366.5" width="10.0" height="30.0" fill="#4F6228" fill-opacity="0.5" stroke="#4F6228" stroke-width="1" stroke-opacity="0.85"/>
<rect x="900.5" y="365.5" width="10.0" height="31.0" fill="#4F6228" fill-opacity="0.5" stroke="#4F6228" stroke-width="1" stroke-opacity="0.85"/>
<rect x="910.5" y="365.5" width="10.0" height="31.0" fill="#4F6228" fill-opacity="0.5" stroke="#4F6228" stroke-width="1" stroke-opacity="0.85"/>
<rect x="920.5" y="369.5" width="10.0" height="27.0" fill="#4F6228" fill-opacity="0.5" stroke="#4F6228" stroke-width="1" stroke-opacity="0.85"/>
<rect x="930.5" y="357.5" width="10.0" height="39.0" fill="#4F6228" fill-opacity="0.5" stroke="#4F6228" stroke-width="1" stroke-opacity="0.85"/>
<rect x="940.5" y="338.5" width="9.0" height="58.0" fill="#4F6228" fill-opacity="0.5" stroke="#4F6228" stroke-width="1" stroke-opacity="0.85"/>
<rect x="949.5" y="334.5" width="10.0" height="62.0" fill="#4F6228" fill-opacity="0.5" stroke="#4F6228" stroke-width="1" stroke-opacity="0.85"/>
<rect x="959.5" y="340.5" width="10.0" height="56.0" fill="#4F6228" fill-opacity="0.5" stroke="#4F6228" stroke-width="1" stroke-opacity="0.85"/>
<rect x="969.5" y="357.5" width="10.0" height="39.0" fill="#4F6228" fill-opacity="0.5" stroke="#4F6228" stroke-width="1" stroke-opacity="0.85"/>
<rect x="979.5" y="369.5" width="10.0" height="27.0" fill="#4F6228" fill-opacity="0.5" stroke="#4F6228" stroke-width="1" stroke-opacity="0.85"/>
<rect x="989.5" y="364.5" width="10.0" height="32.0" fill="#4F6228" fill-opacity="0.5" stroke="#4F6228" stroke-width="1" stroke-opacity="0.85"/>
<rect x="999.5" y="374.5" width="10.0" height="22.0" fill="#4F6228" fill-opacity="0.5" stroke="#4F6228" stroke-width="1" stroke-opacity="0.85"/>
<rect x="1009.5" y="375.5" width="10.0" height="21.0" fill="#4F6228" fill-opacity="0.5" stroke="#4F6228" stroke-width="1" stroke-opacity="0.85"/>
<rect x="1019.5" y="376.5" width="10.0" height="20.0" fill="#4F6228" fill-opacity="0.5" stroke="#4F6228" stroke-width="1" stroke-opacity="0.85"/>
<rect x="1029.5" y="368.5" width="10.0" height="28.0" fill="#4F6228" fill-opacity="0.5" stroke="#4F6228" stroke-width="1" stroke-opacity="0.85"/>
<rect x="1039.5" y="368.5" width="10.0" height="28.0" fill="#4F6228" fill-opacity="0.5" stroke="#4F6228" stroke-width="1" stroke-opacity="0.85"/>
<rect x="1049.5" y="362.5" width="10.0" height="34.0" fill="#4F6228" fill-opacity="0.5" stroke="#4F6228" stroke-width="1" stroke-opacity="0.85"/>
<rect x="1059.5" y="349.5" width="10.0" height="47.0" fill="#4F6228" fill-opacity="0.5" stroke="#4F6228" stroke-width="1" stroke-opacity="0.85"/>
<rect x="1069.5" y="343.5" width="10.0" height="53.0" fill="#4F6228" fill-opacity="0.5" stroke="#4F6228" stroke-width="1" stroke-opacity="0.85"/>
<rect x="1079.5" y="357.5" width="10.0" height="39.0" fill="#4F6228" fill-opacity="0.5" stroke="#4F6228" stroke-width="1" stroke-opacity="0.85"/>
<rect x="1089.5" y="364.5" width="10.0" height="32.0" fill="#4F6228" fill-opacity="0.5" stroke="#4F6228" stroke-width="1" stroke-opacity="0.85"/>
<rect x="1099.5" y="370.5" width="10.0" height="26.0" fill="#4F6228" fill-opacity="0.5" stroke="#4F6228" stroke-width="1" stroke-opacity="0.85"/>
<rect x="1109.5" y="373.5" width="10.0" height="23.0" fill="#4F6228" fill-opacity="0.5" stroke="#4F6228" stroke-width="1" stroke-opacity="0.85"/>
<rect x="1119.5" y="369.5" width="10.0" height="27.0" fill="#4F6228" fill-opacity="0.5" stroke="#4F6228" stroke-width="1" stroke-opacity="0.85"/>
<rect x="1129.5" y="369.5" width="10.0" height="27.0" fill="#4F6228" fill-opacity="0.5" stroke="#4F6228" stroke-width="1" stroke-opacity="0.85"/>
<rect x="1139.5" y="373.5" width="10.0" height="23.0" fill="#4F6228" fill-opacity="0.5" stroke="#4F6228" stroke-width="1" stroke-opacity="0.85"/>
<rect x="1149.5" y="360.5" width="10.0" height="36.0" fill="#4F6228" fill-opacity="0.5" stroke="#4F6228" stroke-width="1" stroke-opacity="0.85"/>
<rect x="1159.5" y="366.5" width="10.0" height="30.0" fill="#4F6228" fill-opacity="0.5" stroke="#4F6228" stroke-width="1" stroke-opacity="0.85"/>
<line x1="680.50" y1="311.50" x2="680.50" y2="396.50" stroke="#868686" stroke-width="1" />
<line x1="677.50" y1="396.50" x2="1169.50" y2="396.50" stroke="#868686" stroke-width="1" />
<line x1="677.50" y1="396.50" x2="680.50" y2="396.50" stroke="#868686" stroke-width="1" />
<text x="673.40" y="398.95" font-family='"Liberation Sans", sans-serif' font-size="6.9" fill="#4F6228" text-anchor="end" stroke="#4F6228" stroke-width="0.15">$0</text>
<line x1="677.50" y1="384.50" x2="680.50" y2="384.50" stroke="#868686" stroke-width="1" />
<text x="673.40" y="386.90" font-family='"Liberation Sans", sans-serif' font-size="6.9" fill="#4F6228" text-anchor="end" stroke="#4F6228" stroke-width="0.15">$100 M</text>
<line x1="677.50" y1="372.50" x2="680.50" y2="372.50" stroke="#868686" stroke-width="1" />
<text x="673.40" y="374.85" font-family='"Liberation Sans", sans-serif' font-size="6.9" fill="#4F6228" text-anchor="end" stroke="#4F6228" stroke-width="0.15">$200 M</text>
<line x1="677.50" y1="360.50" x2="680.50" y2="360.50" stroke="#868686" stroke-width="1" />
<text x="673.40" y="362.80" font-family='"Liberation Sans", sans-serif' font-size="6.9" fill="#4F6228" text-anchor="end" stroke="#4F6228" stroke-width="0.15">$300 M</text>
<line x1="677.50" y1="348.50" x2="680.50" y2="348.50" stroke="#868686" stroke-width="1" />
<text x="673.40" y="350.75" font-family='"Liberation Sans", sans-serif' font-size="6.9" fill="#4F6228" text-anchor="end" stroke="#4F6228" stroke-width="0.15">$400 M</text>
<line x1="677.50" y1="336.50" x2="680.50" y2="336.50" stroke="#868686" stroke-width="1" />
<text x="673.40" y="338.70" font-family='"Liberation Sans", sans-serif' font-size="6.9" fill="#4F6228" text-anchor="end" stroke="#4F6228" stroke-width="0.15">$500 M</text>
<line x1="677.50" y1="324.50" x2="680.50" y2="324.50" stroke="#868686" stroke-width="1" />
<text x="673.40" y="326.65" font-family='"Liberation Sans", sans-serif' font-size="6.9" fill="#4F6228" text-anchor="end" stroke="#4F6228" stroke-width="0.15">$600 M</text>
<line x1="677.50" y1="311.50" x2="680.50" y2="311.50" stroke="#868686" stroke-width="1" />
<text x="673.40" y="314.60" font-family='"Liberation Sans", sans-serif' font-size="6.9" fill="#4F6228" text-anchor="end" stroke="#4F6228" stroke-width="0.15">$700 M</text>
<line x1="800.50" y1="396.50" x2="800.50" y2="399.50" stroke="#868686" stroke-width="1" />
<line x1="920.50" y1="396.50" x2="920.50" y2="399.50" stroke="#868686" stroke-width="1" />
<line x1="1039.50" y1="396.50" x2="1039.50" y2="399.50" stroke="#868686" stroke-width="1" />
<line x1="1159.50" y1="396.50" x2="1159.50" y2="399.50" stroke="#868686" stroke-width="1" />
<line x1="680.00" y1="293.50" x2="1171.50" y2="293.50" stroke="#7F7F7F" stroke-width="1" />
<line x1="680.50" y1="293.50" x2="680.50" y2="297.00" stroke="#7F7F7F" stroke-width="1" />
<line x1="800.50" y1="293.50" x2="800.50" y2="297.00" stroke="#7F7F7F" stroke-width="1" />
<line x1="920.50" y1="293.50" x2="920.50" y2="297.00" stroke="#7F7F7F" stroke-width="1" />
<line x1="1039.50" y1="293.50" x2="1039.50" y2="297.00" stroke="#7F7F7F" stroke-width="1" />
<line x1="1159.50" y1="293.50" x2="1159.50" y2="297.00" stroke="#7F7F7F" stroke-width="1" />
<text x="745.50" y="305.10" font-family='"Liberation Sans", sans-serif' font-size="8.0" fill="#7F7F7F" text-anchor="middle" >2022</text>
<text x="865.32" y="305.10" font-family='"Liberation Sans", sans-serif' font-size="8.0" fill="#7F7F7F" text-anchor="middle" >2023</text>
<text x="985.13" y="305.10" font-family='"Liberation Sans", sans-serif' font-size="8.0" fill="#7F7F7F" text-anchor="middle" >2024</text>
<text x="1104.95" y="305.10" font-family='"Liberation Sans", sans-serif' font-size="8.0" fill="#7F7F7F" text-anchor="middle" >2025</text>
<text x="685.39" y="405.90" font-family='"Liberation Sans", sans-serif' font-size="6.7" fill="#A3A3A3" text-anchor="middle" >J</text>
<text x="695.38" y="405.90" font-family='"Liberation Sans", sans-serif' font-size="6.7" fill="#A3A3A3" text-anchor="middle" >F</text>
<text x="705.36" y="405.90" font-family='"Liberation Sans", sans-serif' font-size="6.7" fill="#A3A3A3" text-anchor="middle" >M</text>
<text x="715.35" y="405.90" font-family='"Liberation Sans", sans-serif' font-size="6.7" fill="#A3A3A3" text-anchor="middle" >A</text>
<text x="725.33" y="405.90" font-family='"Liberation Sans", sans-serif' font-size="6.7" fill="#A3A3A3" text-anchor="middle" >M</text>
<text x="735.32" y="405.90" font-family='"Liberation Sans", sans-serif' font-size="6.7" fill="#A3A3A3" text-anchor="middle" >J</text>
<text x="745.30" y="405.90" font-family='"Liberation Sans", sans-serif' font-size="6.7" fill="#A3A3A3" text-anchor="middle" >J</text>
<text x="755.29" y="405.90" font-family='"Liberation Sans", sans-serif' font-size="6.7" fill="#A3A3A3" text-anchor="middle" >A</text>
<text x="765.27" y="405.90" font-family='"Liberation Sans", sans-serif' font-size="6.7" fill="#A3A3A3" text-anchor="middle" >S</text>
<text x="775.25" y="405.90" font-family='"Liberation Sans", sans-serif' font-size="6.7" fill="#A3A3A3" text-anchor="middle" >O</text>
<text x="785.24" y="405.90" font-family='"Liberation Sans", sans-serif' font-size="6.7" fill="#A3A3A3" text-anchor="middle" >N</text>
<text x="795.22" y="405.90" font-family='"Liberation Sans", sans-serif' font-size="6.7" fill="#A3A3A3" text-anchor="middle" >D</text>
<text x="805.21" y="405.90" font-family='"Liberation Sans", sans-serif' font-size="6.7" fill="#A3A3A3" text-anchor="middle" >J</text>
<text x="815.19" y="405.90" font-family='"Liberation Sans", sans-serif' font-size="6.7" fill="#A3A3A3" text-anchor="middle" >F</text>
<text x="825.18" y="405.90" font-family='"Liberation Sans", sans-serif' font-size="6.7" fill="#A3A3A3" text-anchor="middle" >M</text>
<text x="835.16" y="405.90" font-family='"Liberation Sans", sans-serif' font-size="6.7" fill="#A3A3A3" text-anchor="middle" >A</text>
<text x="845.15" y="405.90" font-family='"Liberation Sans", sans-serif' font-size="6.7" fill="#A3A3A3" text-anchor="middle" >M</text>
<text x="855.13" y="405.90" font-family='"Liberation Sans", sans-serif' font-size="6.7" fill="#A3A3A3" text-anchor="middle" >J</text>
<text x="865.12" y="405.90" font-family='"Liberation Sans", sans-serif' font-size="6.7" fill="#A3A3A3" text-anchor="middle" >J</text>
<text x="875.10" y="405.90" font-family='"Liberation Sans", sans-serif' font-size="6.7" fill="#A3A3A3" text-anchor="middle" >A</text>
<text x="885.09" y="405.90" font-family='"Liberation Sans", sans-serif' font-size="6.7" fill="#A3A3A3" text-anchor="middle" >S</text>
<text x="895.07" y="405.90" font-family='"Liberation Sans", sans-serif' font-size="6.7" fill="#A3A3A3" text-anchor="middle" >O</text>
<text x="905.06" y="405.90" font-family='"Liberation Sans", sans-serif' font-size="6.7" fill="#A3A3A3" text-anchor="middle" >N</text>
<text x="915.04" y="405.90" font-family='"Liberation Sans", sans-serif' font-size="6.7" fill="#A3A3A3" text-anchor="middle" >D</text>
<text x="925.02" y="405.90" font-family='"Liberation Sans", sans-serif' font-size="6.7" fill="#A3A3A3" text-anchor="middle" >J</text>
<text x="935.01" y="405.90" font-family='"Liberation Sans", sans-serif' font-size="6.7" fill="#A3A3A3" text-anchor="middle" >F</text>
<text x="944.99" y="405.90" font-family='"Liberation Sans", sans-serif' font-size="6.7" fill="#A3A3A3" text-anchor="middle" >M</text>
<text x="954.98" y="405.90" font-family='"Liberation Sans", sans-serif' font-size="6.7" fill="#A3A3A3" text-anchor="middle" >A</text>
<text x="964.96" y="405.90" font-family='"Liberation Sans", sans-serif' font-size="6.7" fill="#A3A3A3" text-anchor="middle" >M</text>
<text x="974.95" y="405.90" font-family='"Liberation Sans", sans-serif' font-size="6.7" fill="#A3A3A3" text-anchor="middle" >J</text>
<text x="984.93" y="405.90" font-family='"Liberation Sans", sans-serif' font-size="6.7" fill="#A3A3A3" text-anchor="middle" >J</text>
<text x="994.92" y="405.90" font-family='"Liberation Sans", sans-serif' font-size="6.7" fill="#A3A3A3" text-anchor="middle" >A</text>
<text x="1004.90" y="405.90" font-family='"Liberation Sans", sans-serif' font-size="6.7" fill="#A3A3A3" text-anchor="middle" >S</text>
<text x="1014.89" y="405.90" font-family='"Liberation Sans", sans-serif' font-size="6.7" fill="#A3A3A3" text-anchor="middle" >O</text>
<text x="1024.87" y="405.90" font-family='"Liberation Sans", sans-serif' font-size="6.7" fill="#A3A3A3" text-anchor="middle" >N</text>
<text x="1034.86" y="405.90" font-family='"Liberation Sans", sans-serif' font-size="6.7" fill="#A3A3A3" text-anchor="middle" >D</text>
<text x="1044.84" y="405.90" font-family='"Liberation Sans", sans-serif' font-size="6.7" fill="#A3A3A3" text-anchor="middle" >J</text>
<text x="1054.83" y="405.90" font-family='"Liberation Sans", sans-serif' font-size="6.7" fill="#A3A3A3" text-anchor="middle" >F</text>
<text x="1064.81" y="405.90" font-family='"Liberation Sans", sans-serif' font-size="6.7" fill="#A3A3A3" text-anchor="middle" >M</text>
<text x="1074.80" y="405.90" font-family='"Liberation Sans", sans-serif' font-size="6.7" fill="#A3A3A3" text-anchor="middle" >A</text>
<text x="1084.78" y="405.90" font-family='"Liberation Sans", sans-serif' font-size="6.7" fill="#A3A3A3" text-anchor="middle" >M</text>
<text x="1094.76" y="405.90" font-family='"Liberation Sans", sans-serif' font-size="6.7" fill="#A3A3A3" text-anchor="middle" >J</text>
<text x="1104.75" y="405.90" font-family='"Liberation Sans", sans-serif' font-size="6.7" fill="#A3A3A3" text-anchor="middle" >J</text>
<text x="1114.73" y="405.90" font-family='"Liberation Sans", sans-serif' font-size="6.7" fill="#A3A3A3" text-anchor="middle" >A</text>
<text x="1124.72" y="405.90" font-family='"Liberation Sans", sans-serif' font-size="6.7" fill="#A3A3A3" text-anchor="middle" >S</text>
<text x="1134.70" y="405.90" font-family='"Liberation Sans", sans-serif' font-size="6.7" fill="#A3A3A3" text-anchor="middle" >O</text>
<text x="1144.69" y="405.90" font-family='"Liberation Sans", sans-serif' font-size="6.7" fill="#A3A3A3" text-anchor="middle" >N</text>
<text x="1154.67" y="405.90" font-family='"Liberation Sans", sans-serif' font-size="6.7" fill="#A3A3A3" text-anchor="middle" >D</text>
<text x="1164.66" y="405.90" font-family='"Liberation Sans", sans-serif' font-size="6.7" fill="#A3A3A3" text-anchor="middle" >J</text>
<line x1="680.00" y1="411.50" x2="1171.50" y2="411.50" stroke="#7F7F7F" stroke-width="1" />
<line x1="680.50" y1="408.50" x2="680.50" y2="411.50" stroke="#7F7F7F" stroke-width="1" />
<line x1="690.50" y1="408.50" x2="690.50" y2="411.50" stroke="#7F7F7F" stroke-width="1" />
<line x1="700.50" y1="408.50" x2="700.50" y2="411.50" stroke="#7F7F7F" stroke-width="1" />
<line x1="710.50" y1="408.50" x2="710.50" y2="411.50" stroke="#7F7F7F" stroke-width="1" />
<line x1="720.50" y1="408.50" x2="720.50" y2="411.50" stroke="#7F7F7F" stroke-width="1" />
<line x1="730.50" y1="408.50" x2="730.50" y2="411.50" stroke="#7F7F7F" stroke-width="1" />
<line x1="740.50" y1="408.50" x2="740.50" y2="411.50" stroke="#7F7F7F" stroke-width="1" />
<line x1="750.50" y1="408.50" x2="750.50" y2="411.50" stroke="#7F7F7F" stroke-width="1" />
<line x1="760.50" y1="408.50" x2="760.50" y2="411.50" stroke="#7F7F7F" stroke-width="1" />
<line x1="770.50" y1="408.50" x2="770.50" y2="411.50" stroke="#7F7F7F" stroke-width="1" />
<line x1="780.50" y1="408.50" x2="780.50" y2="411.50" stroke="#7F7F7F" stroke-width="1" />
<line x1="790.50" y1="408.50" x2="790.50" y2="411.50" stroke="#7F7F7F" stroke-width="1" />
<line x1="800.50" y1="408.50" x2="800.50" y2="411.50" stroke="#7F7F7F" stroke-width="1" />
<line x1="810.50" y1="408.50" x2="810.50" y2="411.50" stroke="#7F7F7F" stroke-width="1" />
<line x1="820.50" y1="408.50" x2="820.50" y2="411.50" stroke="#7F7F7F" stroke-width="1" />
<line x1="830.50" y1="408.50" x2="830.50" y2="411.50" stroke="#7F7F7F" stroke-width="1" />
<line x1="840.50" y1="408.50" x2="840.50" y2="411.50" stroke="#7F7F7F" stroke-width="1" />
<line x1="850.50" y1="408.50" x2="850.50" y2="411.50" stroke="#7F7F7F" stroke-width="1" />
<line x1="860.50" y1="408.50" x2="860.50" y2="411.50" stroke="#7F7F7F" stroke-width="1" />
<line x1="870.50" y1="408.50" x2="870.50" y2="411.50" stroke="#7F7F7F" stroke-width="1" />
<line x1="880.50" y1="408.50" x2="880.50" y2="411.50" stroke="#7F7F7F" stroke-width="1" />
<line x1="890.50" y1="408.50" x2="890.50" y2="411.50" stroke="#7F7F7F" stroke-width="1" />
<line x1="900.50" y1="408.50" x2="900.50" y2="411.50" stroke="#7F7F7F" stroke-width="1" />
<line x1="910.50" y1="408.50" x2="910.50" y2="411.50" stroke="#7F7F7F" stroke-width="1" />
<line x1="920.50" y1="408.50" x2="920.50" y2="411.50" stroke="#7F7F7F" stroke-width="1" />
<line x1="930.50" y1="408.50" x2="930.50" y2="411.50" stroke="#7F7F7F" stroke-width="1" />
<line x1="940.50" y1="408.50" x2="940.50" y2="411.50" stroke="#7F7F7F" stroke-width="1" />
<line x1="949.50" y1="408.50" x2="949.50" y2="411.50" stroke="#7F7F7F" stroke-width="1" />
<line x1="959.50" y1="408.50" x2="959.50" y2="411.50" stroke="#7F7F7F" stroke-width="1" />
<line x1="969.50" y1="408.50" x2="969.50" y2="411.50" stroke="#7F7F7F" stroke-width="1" />
<line x1="979.50" y1="408.50" x2="979.50" y2="411.50" stroke="#7F7F7F" stroke-width="1" />
<line x1="989.50" y1="408.50" x2="989.50" y2="411.50" stroke="#7F7F7F" stroke-width="1" />
<line x1="999.50" y1="408.50" x2="999.50" y2="411.50" stroke="#7F7F7F" stroke-width="1" />
<line x1="1009.50" y1="408.50" x2="1009.50" y2="411.50" stroke="#7F7F7F" stroke-width="1" />
<line x1="1019.50" y1="408.50" x2="1019.50" y2="411.50" stroke="#7F7F7F" stroke-width="1" />
<line x1="1029.50" y1="408.50" x2="1029.50" y2="411.50" stroke="#7F7F7F" stroke-width="1" />
<line x1="1039.50" y1="408.50" x2="1039.50" y2="411.50" stroke="#7F7F7F" stroke-width="1" />
<line x1="1049.50" y1="408.50" x2="1049.50" y2="411.50" stroke="#7F7F7F" stroke-width="1" />
<line x1="1059.50" y1="408.50" x2="1059.50" y2="411.50" stroke="#7F7F7F" stroke-width="1" />
<line x1="1069.50" y1="408.50" x2="1069.50" y2="411.50" stroke="#7F7F7F" stroke-width="1" />
<line x1="1079.50" y1="408.50" x2="1079.50" y2="411.50" stroke="#7F7F7F" stroke-width="1" />
<line x1="1089.50" y1="408.50" x2="1089.50" y2="411.50" stroke="#7F7F7F" stroke-width="1" />
<line x1="1099.50" y1="408.50" x2="1099.50" y2="411.50" stroke="#7F7F7F" stroke-width="1" />
<line x1="1109.50" y1="408.50" x2="1109.50" y2="411.50" stroke="#7F7F7F" stroke-width="1" />
<line x1="1119.50" y1="408.50" x2="1119.50" y2="411.50" stroke="#7F7F7F" stroke-width="1" />
<line x1="1129.50" y1="408.50" x2="1129.50" y2="411.50" stroke="#7F7F7F" stroke-width="1" />
<line x1="1139.50" y1="408.50" x2="1139.50" y2="411.50" stroke="#7F7F7F" stroke-width="1" />
<line x1="1149.50" y1="408.50" x2="1149.50" y2="411.50" stroke="#7F7F7F" stroke-width="1" />
<line x1="1159.50" y1="408.50" x2="1159.50" y2="411.50" stroke="#7F7F7F" stroke-width="1" />
<line x1="1169.50" y1="408.50" x2="1169.50" y2="411.50" stroke="#7F7F7F" stroke-width="1" />
<text transform="translate(628.70 357.40) rotate(-90)" text-anchor="middle" font-family='"Liberation Sans", sans-serif' font-weight="bold" font-size="8.8" fill="#4F6228" stroke="#4F6228" stroke-width="0.25" textLength="58" lengthAdjust="spacingAndGlyphs">Dollar Volume</text>
<rect x="634.80" y="418.60" width="329.00" height="68.40" fill="#7F7F7F" />
<text x="641.00" y="439.20" font-family='"Liberation Sans", sans-serif' font-size="19.4" fill="#CCC1DA" textLength="298.00" lengthAdjust="spacingAndGlyphs" stroke="#CCC1DA" stroke-width="0.3">Median Percent of Original List Price Received</text>
<line x1="634.80" y1="440.30" x2="963.80" y2="440.30" stroke="#A8A8A8" stroke-width="0.7" />
<text x="641.80" y="460.40" font-family='"Liberation Sans", sans-serif' font-size="10.4" fill="#FFFFFF" textLength="303.00" lengthAdjust="spacingAndGlyphs" stroke="#FFFFFF" stroke-width="0.15">The median of the sale price (as a percentage of the original list</text>
<text x="641.80" y="474.60" font-family='"Liberation Sans", sans-serif' font-size="10.4" fill="#FFFFFF" textLength="246.00" lengthAdjust="spacingAndGlyphs" stroke="#FFFFFF" stroke-width="0.15">price) across all properties selling during the month</text>
<text x="651.70" y="514.90" font-family='"Liberation Serif", serif' font-size="10.4" fill="#46375A" textLength="291.50" lengthAdjust="spacingAndGlyphs" xml:space="preserve" stroke="#46375A" stroke-width="0.2"><tspan font-weight='bold' font-style='italic'>Economists' note</tspan> :  The Median Percent of Original List Price Received</text>
<text x="651.70" y="527.32" font-family='"Liberation Serif", serif' font-size="10.4" fill="#46375A" textLength="283.90" lengthAdjust="spacingAndGlyphs" xml:space="preserve" stroke="#46375A" stroke-width="0.2">is useful as an indicator of market recovery, since it typically rises as</text>
<text x="651.70" y="539.74" font-family='"Liberation Serif", serif' font-size="10.4" fill="#46375A" textLength="279.00" lengthAdjust="spacingAndGlyphs" xml:space="preserve" stroke="#46375A" stroke-width="0.2">buyers realize that the market may be moving away from them and</text>
<text x="651.70" y="552.16" font-family='"Liberation Serif", serif' font-size="10.4" fill="#46375A" textLength="270.00" lengthAdjust="spacingAndGlyphs" xml:space="preserve" stroke="#46375A" stroke-width="0.2">they need to match the selling price (or better it) in order to get a</text>
<text x="651.70" y="564.58" font-family='"Liberation Serif", serif' font-size="10.4" fill="#46375A" textLength="279.50" lengthAdjust="spacingAndGlyphs" xml:space="preserve" stroke="#46375A" stroke-width="0.2">contract on the house.  This is usually the last measure to indicate a</text>
<text x="651.70" y="577.00" font-family='"Liberation Serif", serif' font-size="10.4" fill="#46375A" textLength="268.50" lengthAdjust="spacingAndGlyphs" xml:space="preserve" stroke="#46375A" stroke-width="0.2">market has shifted from down to up, so it is what we would call a</text>
<text x="651.70" y="589.42" font-family='"Liberation Serif", serif' font-size="10.4" fill="#46375A" textLength="75.50" lengthAdjust="spacingAndGlyphs" xml:space="preserve" stroke="#46375A" stroke-width="0.2"><tspan font-style='italic'>lagging</tspan>  indicator.</text>
<rect x="966.20" y="418.70" width="92.30" height="20.40" fill="#9BBB59" />
<rect x="1060.80" y="418.70" width="60.80" height="20.40" fill="#9BBB59" />
<rect x="1124.00" y="418.70" width="61.00" height="20.40" fill="#9BBB59" />
<text x="973.90" y="431.30" font-family='"Liberation Sans", sans-serif' font-size="7.9" fill="#1A1A1A" textLength="19.30" lengthAdjust="spacingAndGlyphs" stroke="#1A1A1A" stroke-width="0.22">Month</text>
<text x="1091.30" y="426.90" font-family='"Liberation Sans", sans-serif' font-size="7.6" fill="#1A1A1A" text-anchor="middle" textLength="47.00" lengthAdjust="spacingAndGlyphs" stroke="#1A1A1A" stroke-width="0.22">Med. Pct. of Orig.</text>
<text x="1091.30" y="437.20" font-family='"Liberation Sans", sans-serif' font-size="7.6" fill="#1A1A1A" text-anchor="middle" textLength="52.00" lengthAdjust="spacingAndGlyphs" stroke="#1A1A1A" stroke-width="0.22">List Price Received</text>
<text x="1154.50" y="426.60" font-family='"Liberation Sans", sans-serif' font-size="7.6" fill="#1A1A1A" text-anchor="middle" textLength="42.80" lengthAdjust="spacingAndGlyphs" stroke="#1A1A1A" stroke-width="0.22">Percent Change</text>
<text x="1154.50" y="437.00" font-family='"Liberation Sans", sans-serif' font-size="7.6" fill="#1A1A1A" text-anchor="middle" textLength="40.30" lengthAdjust="spacingAndGlyphs" stroke="#1A1A1A" stroke-width="0.22">Year-over-Year</text>
<rect x="966.20" y="441.00" width="92.30" height="10.00" fill="url(#gm)" />
<rect x="1060.80" y="441.00" width="60.80" height="10.00" fill="url(#gc)" />
<rect x="1124.00" y="441.00" width="61.00" height="10.00" fill="url(#gc)" />
<text x="973.90" y="449.10" font-family='"Liberation Sans", sans-serif' font-size="9.0" fill="#1A1A1A" textLength="39.20" lengthAdjust="spacingAndGlyphs" stroke="#1A1A1A" stroke-width="0.22">Year-to-Date</text>
<text x="1091.30" y="449.10" font-family='"Liberation Sans", sans-serif' font-size="8.1" fill="#1A1A1A" text-anchor="middle" stroke="#1A1A1A" stroke-width="0.12">92.4%</text>
<text x="1154.50" y="449.10" font-family='"Liberation Sans", sans-serif' font-size="8.1" fill="#1A1A1A" text-anchor="middle" stroke="#1A1A1A" stroke-width="0.12">-0.4%</text>
<rect x="966.20" y="453.05" width="92.30" height="10.00" fill="url(#gm)" />
<rect x="1060.80" y="453.05" width="60.80" height="10.00" fill="url(#gc)" />
<rect x="1124.00" y="453.05" width="61.00" height="10.00" fill="url(#gc)" />
<text x="973.90" y="461.15" font-family='"Liberation Sans", sans-serif' font-size="9.0" fill="#1A1A1A" font-weight="bold" textLength="42.10" lengthAdjust="spacingAndGlyphs" stroke="#1A1A1A" stroke-width="0.2">January 2026</text>
<text x="1091.30" y="461.15" font-family='"Liberation Sans", sans-serif' font-size="8.1" fill="#1A1A1A" font-weight="bold" text-anchor="middle" stroke="#1A1A1A" stroke-width="0.25">92.4%</text>
<text x="1154.50" y="461.15" font-family='"Liberation Sans", sans-serif' font-size="8.1" fill="#1A1A1A" font-weight="bold" text-anchor="middle" stroke="#1A1A1A" stroke-width="0.25">-0.4%</text>
<rect x="966.20" y="465.10" width="92.30" height="10.00" fill="url(#gm)" />
<rect x="1060.80" y="465.10" width="60.80" height="10.00" fill="url(#gc)" />
<rect x="1124.00" y="465.10" width="61.00" height="10.00" fill="url(#gc)" />
<text x="973.90" y="473.20" font-family='"Liberation Sans", sans-serif' font-size="9.0" fill="#1A1A1A" textLength="47.60" lengthAdjust="spacingAndGlyphs" stroke="#1A1A1A" stroke-width="0.22">December 2025</text>
<text x="1091.30" y="473.20" font-family='"Liberation Sans", sans-serif' font-size="8.1" fill="#1A1A1A" text-anchor="middle" stroke="#1A1A1A" stroke-width="0.12">91.5%</text>
<text x="1154.50" y="473.20" font-family='"Liberation Sans", sans-serif' font-size="8.1" fill="#1A1A1A" text-anchor="middle" stroke="#1A1A1A" stroke-width="0.12">-1.5%</text>
<rect x="966.20" y="477.15" width="92.30" height="10.00" fill="url(#gm)" />
<rect x="1060.80" y="477.15" width="60.80" height="10.00" fill="url(#gc)" />
<rect x="1124.00" y="477.15" width="61.00" height="10.00" fill="url(#gc)" />
<text x="973.90" y="485.25" font-family='"Liberation Sans", sans-serif' font-size="9.0" fill="#1A1A1A" textLength="47.60" lengthAdjust="spacingAndGlyphs" stroke="#1A1A1A" stroke-width="0.22">November 2025</text>
<text x="1091.30" y="485.25" font-family='"Liberation Sans", sans-serif' font-size="8.1" fill="#1A1A1A" text-anchor="middle" stroke="#1A1A1A" stroke-width="0.12">91.8%</text>
<text x="1154.50" y="485.25" font-family='"Liberation Sans", sans-serif' font-size="8.1" fill="#1A1A1A" text-anchor="middle" stroke="#1A1A1A" stroke-width="0.12">-1.7%</text>
<rect x="966.20" y="489.20" width="92.30" height="10.00" fill="url(#gm)" />
<rect x="1060.80" y="489.20" width="60.80" height="10.00" fill="url(#gc)" />
<rect x="1124.00" y="489.20" width="61.00" height="10.00" fill="url(#gc)" />
<text x="973.90" y="497.30" font-family='"Liberation Sans", sans-serif' font-size="9.0" fill="#1A1A1A" textLength="41.10" lengthAdjust="spacingAndGlyphs" stroke="#1A1A1A" stroke-width="0.22">October 2025</text>
<text x="1091.30" y="497.30" font-family='"Liberation Sans", sans-serif' font-size="8.1" fill="#1A1A1A" text-anchor="middle" stroke="#1A1A1A" stroke-width="0.12">90.5%</text>
<text x="1154.50" y="497.30" font-family='"Liberation Sans", sans-serif' font-size="8.1" fill="#1A1A1A" text-anchor="middle" stroke="#1A1A1A" stroke-width="0.12">-1.6%</text>
<rect x="966.20" y="501.25" width="92.30" height="10.00" fill="url(#gm)" />
<rect x="1060.80" y="501.25" width="60.80" height="10.00" fill="url(#gc)" />
<rect x="1124.00" y="501.25" width="61.00" height="10.00" fill="url(#gc)" />
<text x="973.90" y="509.35" font-family='"Liberation Sans", sans-serif' font-size="9.0" fill="#1A1A1A" textLength="50.10" lengthAdjust="spacingAndGlyphs" stroke="#1A1A1A" stroke-width="0.22">September 2025</text>
<text x="1091.30" y="509.35" font-family='"Liberation Sans", sans-serif' font-size="8.1" fill="#1A1A1A" text-anchor="middle" stroke="#1A1A1A" stroke-width="0.12">89.0%</text>
<text x="1154.50" y="509.35" font-family='"Liberation Sans", sans-serif' font-size="8.1" fill="#1A1A1A" text-anchor="middle" stroke="#1A1A1A" stroke-width="0.12">-3.4%</text>
<rect x="966.20" y="513.30" width="92.30" height="10.00" fill="url(#gm)" />
<rect x="1060.80" y="513.30" width="60.80" height="10.00" fill="url(#gc)" />
<rect x="1124.00" y="513.30" width="61.00" height="10.00" fill="url(#gc)" />
<text x="973.90" y="521.40" font-family='"Liberation Sans", sans-serif' font-size="9.0" fill="#1A1A1A" textLength="39.00" lengthAdjust="spacingAndGlyphs" stroke="#1A1A1A" stroke-width="0.22">August 2025</text>
<text x="1091.30" y="521.40" font-family='"Liberation Sans", sans-serif' font-size="8.1" fill="#1A1A1A" text-anchor="middle" stroke="#1A1A1A" stroke-width="0.12">87.9%</text>
<text x="1154.50" y="521.40" font-family='"Liberation Sans", sans-serif' font-size="8.1" fill="#1A1A1A" text-anchor="middle" stroke="#1A1A1A" stroke-width="0.12">-4.7%</text>
<rect x="966.20" y="525.35" width="92.30" height="10.00" fill="url(#gm)" />
<rect x="1060.80" y="525.35" width="60.80" height="10.00" fill="url(#gc)" />
<rect x="1124.00" y="525.35" width="61.00" height="10.00" fill="url(#gc)" />
<text x="973.90" y="533.45" font-family='"Liberation Sans", sans-serif' font-size="9.0" fill="#1A1A1A" textLength="29.30" lengthAdjust="spacingAndGlyphs" stroke="#1A1A1A" stroke-width="0.22">July 2025</text>
<text x="1091.30" y="533.45" font-family='"Liberation Sans", sans-serif' font-size="8.1" fill="#1A1A1A" text-anchor="middle" stroke="#1A1A1A" stroke-width="0.12">88.9%</text>
<text x="1154.50" y="533.45" font-family='"Liberation Sans", sans-serif' font-size="8.1" fill="#1A1A1A" text-anchor="middle" stroke="#1A1A1A" stroke-width="0.12">-2.4%</text>
<rect x="966.20" y="537.40" width="92.30" height="10.00" fill="url(#gm)" />
<rect x="1060.80" y="537.40" width="60.80" height="10.00" fill="url(#gc)" />
<rect x="1124.00" y="537.40" width="61.00" height="10.00" fill="url(#gc)" />
<text x="973.90" y="545.50" font-family='"Liberation Sans", sans-serif' font-size="9.0" fill="#1A1A1A" textLength="31.40" lengthAdjust="spacingAndGlyphs" stroke="#1A1A1A" stroke-width="0.22">June 2025</text>
<text x="1091.30" y="545.50" font-family='"Liberation Sans", sans-serif' font-size="8.1" fill="#1A1A1A" text-anchor="middle" stroke="#1A1A1A" stroke-width="0.12">88.3%</text>
<text x="1154.50" y="545.50" font-family='"Liberation Sans", sans-serif' font-size="8.1" fill="#1A1A1A" text-anchor="middle" stroke="#1A1A1A" stroke-width="0.12">-3.0%</text>
<rect x="966.20" y="549.45" width="92.30" height="10.00" fill="url(#gm)" />
<rect x="1060.80" y="549.45" width="60.80" height="10.00" fill="url(#gc)" />
<rect x="1124.00" y="549.45" width="61.00" height="10.00" fill="url(#gc)" />
<text x="973.90" y="557.55" font-family='"Liberation Sans", sans-serif' font-size="9.0" fill="#1A1A1A" textLength="29.60" lengthAdjust="spacingAndGlyphs" stroke="#1A1A1A" stroke-width="0.22">May 2025</text>
<text x="1091.30" y="557.55" font-family='"Liberation Sans", sans-serif' font-size="8.1" fill="#1A1A1A" text-anchor="middle" stroke="#1A1A1A" stroke-width="0.12">88.4%</text>
<text x="1154.50" y="557.55" font-family='"Liberation Sans", sans-serif' font-size="8.1" fill="#1A1A1A" text-anchor="middle" stroke="#1A1A1A" stroke-width="0.12">-4.2%</text>
<rect x="966.20" y="561.50" width="92.30" height="10.00" fill="url(#gm)" />
<rect x="1060.80" y="561.50" width="60.80" height="10.00" fill="url(#gc)" />
<rect x="1124.00" y="561.50" width="61.00" height="10.00" fill="url(#gc)" />
<text x="973.90" y="569.60" font-family='"Liberation Sans", sans-serif' font-size="9.0" fill="#1A1A1A" textLength="31.50" lengthAdjust="spacingAndGlyphs" stroke="#1A1A1A" stroke-width="0.22">April 2025</text>
<text x="1091.30" y="569.60" font-family='"Liberation Sans", sans-serif' font-size="8.1" fill="#1A1A1A" text-anchor="middle" stroke="#1A1A1A" stroke-width="0.12">90.9%</text>
<text x="1154.50" y="569.60" font-family='"Liberation Sans", sans-serif' font-size="8.1" fill="#1A1A1A" text-anchor="middle" stroke="#1A1A1A" stroke-width="0.12">-2.9%</text>
<rect x="966.20" y="573.55" width="92.30" height="10.00" fill="url(#gm)" />
<rect x="1060.80" y="573.55" width="60.80" height="10.00" fill="url(#gc)" />
<rect x="1124.00" y="573.55" width="61.00" height="10.00" fill="url(#gc)" />
<text x="973.90" y="581.65" font-family='"Liberation Sans", sans-serif' font-size="9.0" fill="#1A1A1A" textLength="36.00" lengthAdjust="spacingAndGlyphs" stroke="#1A1A1A" stroke-width="0.22">March 2025</text>
<text x="1091.30" y="581.65" font-family='"Liberation Sans", sans-serif' font-size="8.1" fill="#1A1A1A" text-anchor="middle" stroke="#1A1A1A" stroke-width="0.12">91.5%</text>
<text x="1154.50" y="581.65" font-family='"Liberation Sans", sans-serif' font-size="8.1" fill="#1A1A1A" text-anchor="middle" stroke="#1A1A1A" stroke-width="0.12">-2.6%</text>
<rect x="966.20" y="585.60" width="92.30" height="10.00" fill="url(#gm)" />
<rect x="1060.80" y="585.60" width="60.80" height="10.00" fill="url(#gc)" />
<rect x="1124.00" y="585.60" width="61.00" height="10.00" fill="url(#gc)" />
<text x="973.90" y="593.70" font-family='"Liberation Sans", sans-serif' font-size="9.0" fill="#1A1A1A" textLength="43.80" lengthAdjust="spacingAndGlyphs" stroke="#1A1A1A" stroke-width="0.22">February 2025</text>
<text x="1091.30" y="593.70" font-family='"Liberation Sans", sans-serif' font-size="8.1" fill="#1A1A1A" text-anchor="middle" stroke="#1A1A1A" stroke-width="0.12">91.9%</text>
<text x="1154.50" y="593.70" font-family='"Liberation Sans", sans-serif' font-size="8.1" fill="#1A1A1A" text-anchor="middle" stroke="#1A1A1A" stroke-width="0.12">-3.0%</text>
<rect x="966.20" y="597.65" width="92.30" height="10.00" fill="url(#gm)" />
<rect x="1060.80" y="597.65" width="60.80" height="10.00" fill="url(#gc)" />
<rect x="1124.00" y="597.65" width="61.00" height="10.00" fill="url(#gc)" />
<text x="973.90" y="605.75" font-family='"Liberation Sans", sans-serif' font-size="9.0" fill="#1A1A1A" textLength="41.00" lengthAdjust="spacingAndGlyphs" stroke="#1A1A1A" stroke-width="0.22">January 2025</text>
<text x="1091.30" y="605.75" font-family='"Liberation Sans", sans-serif' font-size="8.1" fill="#1A1A1A" text-anchor="middle" stroke="#1A1A1A" stroke-width="0.12">92.8%</text>
<text x="1154.50" y="605.75" font-family='"Liberation Sans", sans-serif' font-size="8.1" fill="#1A1A1A" text-anchor="middle" stroke="#1A1A1A" stroke-width="0.12">-2.0%</text>
<line x1="680.50" y1="633.50" x2="1169.50" y2="633.50" stroke="#DADADA" stroke-width="1" />
<line x1="680.50" y1="718.50" x2="1169.50" y2="718.50" stroke="#DADADA" stroke-width="1" />
<line x1="680.50" y1="704.50" x2="1169.50" y2="704.50" stroke="#DADADA" stroke-width="1" />
<line x1="680.50" y1="690.50" x2="1169.50" y2="690.50" stroke="#DADADA" stroke-width="1" />
<line x1="680.50" y1="675.50" x2="1169.50" y2="675.50" stroke="#DADADA" stroke-width="1" />
<line x1="680.50" y1="661.50" x2="1169.50" y2="661.50" stroke="#DADADA" stroke-width="1" />
<line x1="680.50" y1="647.50" x2="1169.50" y2="647.50" stroke="#DADADA" stroke-width="1" />
<line x1="680.50" y1="633.50" x2="680.50" y2="718.50" stroke="#DADADA" stroke-width="1" />
<line x1="690.50" y1="633.50" x2="690.50" y2="718.50" stroke="#DADADA" stroke-width="1" />
<line x1="700.50" y1="633.50" x2="700.50" y2="718.50" stroke="#DADADA" stroke-width="1" />
<line x1="710.50" y1="633.50" x2="710.50" y2="718.50" stroke="#DADADA" stroke-width="1" />
<line x1="720.50" y1="633.50" x2="720.50" y2="718.50" stroke="#DADADA" stroke-width="1" />
<line x1="730.50" y1="633.50" x2="730.50" y2="718.50" stroke="#DADADA" stroke-width="1" />
<line x1="740.50" y1="633.50" x2="740.50" y2="718.50" stroke="#DADADA" stroke-width="1" />
<line x1="750.50" y1="633.50" x2="750.50" y2="718.50" stroke="#DADADA" stroke-width="1" />
<line x1="760.50" y1="633.50" x2="760.50" y2="718.50" stroke="#DADADA" stroke-width="1" />
<line x1="770.50" y1="633.50" x2="770.50" y2="718.50" stroke="#DADADA" stroke-width="1" />
<line x1="780.50" y1="633.50" x2="780.50" y2="718.50" stroke="#DADADA" stroke-width="1" />
<line x1="790.50" y1="633.50" x2="790.50" y2="718.50" stroke="#DADADA" stroke-width="1" />
<line x1="800.50" y1="633.50" x2="800.50" y2="718.50" stroke="#DADADA" stroke-width="1" />
<line x1="810.50" y1="633.50" x2="810.50" y2="718.50" stroke="#DADADA" stroke-width="1" />
<line x1="820.50" y1="633.50" x2="820.50" y2="718.50" stroke="#DADADA" stroke-width="1" />
<line x1="830.50" y1="633.50" x2="830.50" y2="718.50" stroke="#DADADA" stroke-width="1" />
<line x1="840.50" y1="633.50" x2="840.50" y2="718.50" stroke="#DADADA" stroke-width="1" />
<line x1="850.50" y1="633.50" x2="850.50" y2="718.50" stroke="#DADADA" stroke-width="1" />
<line x1="860.50" y1="633.50" x2="860.50" y2="718.50" stroke="#DADADA" stroke-width="1" />
<line x1="870.50" y1="633.50" x2="870.50" y2="718.50" stroke="#DADADA" stroke-width="1" />
<line x1="880.50" y1="633.50" x2="880.50" y2="718.50" stroke="#DADADA" stroke-width="1" />
<line x1="890.50" y1="633.50" x2="890.50" y2="718.50" stroke="#DADADA" stroke-width="1" />
<line x1="900.50" y1="633.50" x2="900.50" y2="718.50" stroke="#DADADA" stroke-width="1" />
<line x1="910.50" y1="633.50" x2="910.50" y2="718.50" stroke="#DADADA" stroke-width="1" />
<line x1="920.50" y1="633.50" x2="920.50" y2="718.50" stroke="#DADADA" stroke-width="1" />
<line x1="930.50" y1="633.50" x2="930.50" y2="718.50" stroke="#DADADA" stroke-width="1" />
<line x1="940.50" y1="633.50" x2="940.50" y2="718.50" stroke="#DADADA" stroke-width="1" />
<line x1="949.50" y1="633.50" x2="949.50" y2="718.50" stroke="#DADADA" stroke-width="1" />
<line x1="959.50" y1="633.50" x2="959.50" y2="718.50" stroke="#DADADA" stroke-width="1" />
<line x1="969.50" y1="633.50" x2="969.50" y2="718.50" stroke="#DADADA" stroke-width="1" />
<line x1="979.50" y1="633.50" x2="979.50" y2="718.50" stroke="#DADADA" stroke-width="1" />
<line x1="989.50" y1="633.50" x2="989.50" y2="718.50" stroke="#DADADA" stroke-width="1" />
<line x1="999.50" y1="633.50" x2="999.50" y2="718.50" stroke="#DADADA" stroke-width="1" />
<line x1="1009.50" y1="633.50" x2="1009.50" y2="718.50" stroke="#DADADA" stroke-width="1" />
<line x1="1019.50" y1="633.50" x2="1019.50" y2="718.50" stroke="#DADADA" stroke-width="1" />
<line x1="1029.50" y1="633.50" x2="1029.50" y2="718.50" stroke="#DADADA" stroke-width="1" />
<line x1="1039.50" y1="633.50" x2="1039.50" y2="718.50" stroke="#DADADA" stroke-width="1" />
<line x1="1049.50" y1="633.50" x2="1049.50" y2="718.50" stroke="#DADADA" stroke-width="1" />
<line x1="1059.50" y1="633.50" x2="1059.50" y2="718.50" stroke="#DADADA" stroke-width="1" />
<line x1="1069.50" y1="633.50" x2="1069.50" y2="718.50" stroke="#DADADA" stroke-width="1" />
<line x1="1079.50" y1="633.50" x2="1079.50" y2="718.50" stroke="#DADADA" stroke-width="1" />
<line x1="1089.50" y1="633.50" x2="1089.50" y2="718.50" stroke="#DADADA" stroke-width="1" />
<line x1="1099.50" y1="633.50" x2="1099.50" y2="718.50" stroke="#DADADA" stroke-width="1" />
<line x1="1109.50" y1="633.50" x2="1109.50" y2="718.50" stroke="#DADADA" stroke-width="1" />
<line x1="1119.50" y1="633.50" x2="1119.50" y2="718.50" stroke="#DADADA" stroke-width="1" />
<line x1="1129.50" y1="633.50" x2="1129.50" y2="718.50" stroke="#DADADA" stroke-width="1" />
<line x1="1139.50" y1="633.50" x2="1139.50" y2="718.50" stroke="#DADADA" stroke-width="1" />
<line x1="1149.50" y1="633.50" x2="1149.50" y2="718.50" stroke="#DADADA" stroke-width="1" />
<line x1="1159.50" y1="633.50" x2="1159.50" y2="718.50" stroke="#DADADA" stroke-width="1" />
<line x1="1169.50" y1="633.50" x2="1169.50" y2="718.50" stroke="#DADADA" stroke-width="1" />
<line x1="800.50" y1="633.50" x2="800.50" y2="718.50" stroke="#B5B5B5" stroke-width="1" />
<line x1="920.50" y1="633.50" x2="920.50" y2="718.50" stroke="#B5B5B5" stroke-width="1" />
<line x1="1039.50" y1="633.50" x2="1039.50" y2="718.50" stroke="#B5B5B5" stroke-width="1" />
<line x1="1159.50" y1="633.50" x2="1159.50" y2="718.50" stroke="#B5B5B5" stroke-width="1" />
<rect x="680.5" y="647.5" width="10.0" height="71.0" fill="#8064A2" fill-opacity="0.5" stroke="#8064A2" stroke-width="1" stroke-opacity="0.85"/>
<rect x="690.5" y="647.5" width="10.0" height="71.0" fill="#8064A2" fill-opacity="0.5" stroke="#8064A2" stroke-width="1" stroke-opacity="0.85"/>
<rect x="700.5" y="647.5" width="10.0" height="71.0" fill="#8064A2" fill-opacity="0.5" stroke="#8064A2" stroke-width="1" stroke-opacity="0.85"/>
<rect x="710.5" y="647.5" width="10.0" height="71.0" fill="#8064A2" fill-opacity="0.5" stroke="#8064A2" stroke-width="1" stroke-opacity="0.85"/>
<rect x="720.5" y="647.5" width="10.0" height="71.0" fill="#8064A2" fill-opacity="0.5" stroke="#8064A2" stroke-width="1" stroke-opacity="0.85"/>
<rect x="730.5" y="647.5" width="10.0" height="71.0" fill="#8064A2" fill-opacity="0.5" stroke="#8064A2" stroke-width="1" stroke-opacity="0.85"/>
<rect x="740.5" y="649.5" width="10.0" height="69.0" fill="#8064A2" fill-opacity="0.5" stroke="#8064A2" stroke-width="1" stroke-opacity="0.85"/>
<rect x="750.5" y="651.5" width="10.0" height="67.0" fill="#8064A2" fill-opacity="0.5" stroke="#8064A2" stroke-width="1" stroke-opacity="0.85"/>
<rect x="760.5" y="650.5" width="10.0" height="68.0" fill="#8064A2" fill-opacity="0.5" stroke="#8064A2" stroke-width="1" stroke-opacity="0.85"/>
<rect x="770.5" y="651.5" width="10.0" height="67.0" fill="#8064A2" fill-opacity="0.5" stroke="#8064A2" stroke-width="1" stroke-opacity="0.85"/>
<rect x="780.5" y="650.5" width="10.0" height="68.0" fill="#8064A2" fill-opacity="0.5" stroke="#8064A2" stroke-width="1" stroke-opacity="0.85"/>
<rect x="790.5" y="650.5" width="10.0" height="68.0" fill="#8064A2" fill-opacity="0.5" stroke="#8064A2" stroke-width="1" stroke-opacity="0.85"/>
<rect x="800.5" y="651.5" width="10.0" height="67.0" fill="#8064A2" fill-opacity="0.5" stroke="#8064A2" stroke-width="1" stroke-opacity="0.85"/>
<rect x="810.5" y="650.5" width="10.0" height="68.0" fill="#8064A2" fill-opacity="0.5" stroke="#8064A2" stroke-width="1" stroke-opacity="0.85"/>
<rect x="820.5" y="650.5" width="10.0" height="68.0" fill="#8064A2" fill-opacity="0.5" stroke="#8064A2" stroke-width="1" stroke-opacity="0.85"/>
<rect x="830.5" y="651.5" width="10.0" height="67.0" fill="#8064A2" fill-opacity="0.5" stroke="#8064A2" stroke-width="1" stroke-opacity="0.85"/>
<rect x="840.5" y="651.5" width="10.0" height="67.0" fill="#8064A2" fill-opacity="0.5" stroke="#8064A2" stroke-width="1" stroke-opacity="0.85"/>
<rect x="850.5" y="651.5" width="10.0" height="67.0" fill="#8064A2" fill-opacity="0.5" stroke="#8064A2" stroke-width="1" stroke-opacity="0.85"/>
<rect x="860.5" y="651.5" width="10.0" height="67.0" fill="#8064A2" fill-opacity="0.5" stroke="#8064A2" stroke-width="1" stroke-opacity="0.85"/>
<rect x="870.5" y="651.5" width="10.0" height="67.0" fill="#8064A2" fill-opacity="0.5" stroke="#8064A2" stroke-width="1" stroke-opacity="0.85"/>
<rect x="880.5" y="651.5" width="10.0" height="67.0" fill="#8064A2" fill-opacity="0.5" stroke="#8064A2" stroke-width="1" stroke-opacity="0.85"/>
<rect x="890.5" y="651.5" width="10.0" height="67.0" fill="#8064A2" fill-opacity="0.5" stroke="#8064A2" stroke-width="1" stroke-opacity="0.85"/>
<rect x="900.5" y="651.5" width="10.0" height="67.0" fill="#8064A2" fill-opacity="0.5" stroke="#8064A2" stroke-width="1" stroke-opacity="0.85"/>
<rect x="910.5" y="651.5" width="10.0" height="67.0" fill="#8064A2" fill-opacity="0.5" stroke="#8064A2" stroke-width="1" stroke-opacity="0.85"/>
<rect x="920.5" y="651.5" width="10.0" height="67.0" fill="#8064A2" fill-opacity="0.5" stroke="#8064A2" stroke-width="1" stroke-opacity="0.85"/>
<rect x="930.5" y="651.5" width="10.0" height="67.0" fill="#8064A2" fill-opacity="0.5" stroke="#8064A2" stroke-width="1" stroke-opacity="0.85"/>
<rect x="940.5" y="652.5" width="9.0" height="66.0" fill="#8064A2" fill-opacity="0.5" stroke="#8064A2" stroke-width="1" stroke-opacity="0.85"/>
<rect x="949.5" y="652.5" width="10.0" height="66.0" fill="#8064A2" fill-opacity="0.5" stroke="#8064A2" stroke-width="1" stroke-opacity="0.85"/>
<rect x="959.5" y="653.5" width="10.0" height="65.0" fill="#8064A2" fill-opacity="0.5" stroke="#8064A2" stroke-width="1" stroke-opacity="0.85"/>
<rect x="969.5" y="654.5" width="10.0" height="64.0" fill="#8064A2" fill-opacity="0.5" stroke="#8064A2" stroke-width="1" stroke-opacity="0.85"/>
<rect x="979.5" y="654.5" width="10.0" height="64.0" fill="#8064A2" fill-opacity="0.5" stroke="#8064A2" stroke-width="1" stroke-opacity="0.85"/>
<rect x="989.5" y="653.5" width="10.0" height="65.0" fill="#8064A2" fill-opacity="0.5" stroke="#8064A2" stroke-width="1" stroke-opacity="0.85"/>
<rect x="999.5" y="653.5" width="10.0" height="65.0" fill="#8064A2" fill-opacity="0.5" stroke="#8064A2" stroke-width="1" stroke-opacity="0.85"/>
<rect x="1009.5" y="653.5" width="10.0" height="65.0" fill="#8064A2" fill-opacity="0.5" stroke="#8064A2" stroke-width="1" stroke-opacity="0.85"/>
<rect x="1019.5" y="652.5" width="10.0" height="66.0" fill="#8064A2" fill-opacity="0.5" stroke="#8064A2" stroke-width="1" stroke-opacity="0.85"/>
<rect x="1029.5" y="652.5" width="10.0" height="66.0" fill="#8064A2" fill-opacity="0.5" stroke="#8064A2" stroke-width="1" stroke-opacity="0.85"/>
<rect x="1039.5" y="652.5" width="10.0" height="66.0" fill="#8064A2" fill-opacity="0.5" stroke="#8064A2" stroke-width="1" stroke-opacity="0.85"/>
<rect x="1049.5" y="653.5" width="10.0" height="65.0" fill="#8064A2" fill-opacity="0.5" stroke="#8064A2" stroke-width="1" stroke-opacity="0.85"/>
<rect x="1059.5" y="653.5" width="10.0" height="65.0" fill="#8064A2" fill-opacity="0.5" stroke="#8064A2" stroke-width="1" stroke-opacity="0.85"/>
<rect x="1069.5" y="654.5" width="10.0" height="64.0" fill="#8064A2" fill-opacity="0.5" stroke="#8064A2" stroke-width="1" stroke-opacity="0.85"/>
<rect x="1079.5" y="655.5" width="10.0" height="63.0" fill="#8064A2" fill-opacity="0.5" stroke="#8064A2" stroke-width="1" stroke-opacity="0.85"/>
<rect x="1089.5" y="656.5" width="10.0" height="62.0" fill="#8064A2" fill-opacity="0.5" stroke="#8064A2" stroke-width="1" stroke-opacity="0.85"/>
<rect x="1099.5" y="655.5" width="10.0" height="63.0" fill="#8064A2" fill-opacity="0.5" stroke="#8064A2" stroke-width="1" stroke-opacity="0.85"/>
<rect x="1109.5" y="656.5" width="10.0" height="62.0" fill="#8064A2" fill-opacity="0.5" stroke="#8064A2" stroke-width="1" stroke-opacity="0.85"/>
<rect x="1119.5" y="655.5" width="10.0" height="63.0" fill="#8064A2" fill-opacity="0.5" stroke="#8064A2" stroke-width="1" stroke-opacity="0.85"/>
<rect x="1129.5" y="654.5" width="10.0" height="64.0" fill="#8064A2" fill-opacity="0.5" stroke="#8064A2" stroke-width="1" stroke-opacity="0.85"/>
<rect x="1139.5" y="653.5" width="10.0" height="65.0" fill="#8064A2" fill-opacity="0.5" stroke="#8064A2" stroke-width="1" stroke-opacity="0.85"/>
<rect x="1149.5" y="653.5" width="10.0" height="65.0" fill="#8064A2" fill-opacity="0.5" stroke="#8064A2" stroke-width="1" stroke-opacity="0.85"/>
<rect x="1159.5" y="653.5" width="10.0" height="65.0" fill="#8064A2" fill-opacity="0.5" stroke="#8064A2" stroke-width="1" stroke-opacity="0.85"/>
<line x1="680.50" y1="633.50" x2="680.50" y2="718.50" stroke="#868686" stroke-width="1" />
<line x1="677.50" y1="718.50" x2="1169.50" y2="718.50" stroke="#868686" stroke-width="1" />
<line x1="677.50" y1="718.50" x2="680.50" y2="718.50" stroke="#868686" stroke-width="1" />
<text x="673.40" y="720.95" font-family='"Liberation Sans", sans-serif' font-size="6.9" fill="#8064A2" text-anchor="end" stroke="#8064A2" stroke-width="0.15">0%</text>
<line x1="677.50" y1="704.50" x2="680.50" y2="704.50" stroke="#868686" stroke-width="1" />
<text x="673.40" y="706.78" font-family='"Liberation Sans", sans-serif' font-size="6.9" fill="#8064A2" text-anchor="end" stroke="#8064A2" stroke-width="0.15">20%</text>
<line x1="677.50" y1="690.50" x2="680.50" y2="690.50" stroke="#868686" stroke-width="1" />
<text x="673.40" y="692.62" font-family='"Liberation Sans", sans-serif' font-size="6.9" fill="#8064A2" text-anchor="end" stroke="#8064A2" stroke-width="0.15">40%</text>
<line x1="677.50" y1="675.50" x2="680.50" y2="675.50" stroke="#868686" stroke-width="1" />
<text x="673.40" y="678.45" font-family='"Liberation Sans", sans-serif' font-size="6.9" fill="#8064A2" text-anchor="end" stroke="#8064A2" stroke-width="0.15">60%</text>
<line x1="677.50" y1="661.50" x2="680.50" y2="661.50" stroke="#868686" stroke-width="1" />
<text x="673.40" y="664.28" font-family='"Liberation Sans", sans-serif' font-size="6.9" fill="#8064A2" text-anchor="end" stroke="#8064A2" stroke-width="0.15">80%</text>
<line x1="677.50" y1="647.50" x2="680.50" y2="647.50" stroke="#868686" stroke-width="1" />
<text x="673.40" y="650.12" font-family='"Liberation Sans", sans-serif' font-size="6.9" fill="#8064A2" text-anchor="end" stroke="#8064A2" stroke-width="0.15">100%</text>
<line x1="677.50" y1="633.50" x2="680.50" y2="633.50" stroke="#868686" stroke-width="1" />
<text x="673.40" y="635.95" font-family='"Liberation Sans", sans-serif' font-size="6.9" fill="#8064A2" text-anchor="end" stroke="#8064A2" stroke-width="0.15">120%</text>
<line x1="800.50" y1="718.50" x2="800.50" y2="721.50" stroke="#868686" stroke-width="1" />
<line x1="920.50" y1="718.50" x2="920.50" y2="721.50" stroke="#868686" stroke-width="1" />
<line x1="1039.50" y1="718.50" x2="1039.50" y2="721.50" stroke="#868686" stroke-width="1" />
<line x1="1159.50" y1="718.50" x2="1159.50" y2="721.50" stroke="#868686" stroke-width="1" />
<line x1="680.00" y1="615.50" x2="1171.50" y2="615.50" stroke="#7F7F7F" stroke-width="1" />
<line x1="680.50" y1="615.50" x2="680.50" y2="619.00" stroke="#7F7F7F" stroke-width="1" />
<line x1="800.50" y1="615.50" x2="800.50" y2="619.00" stroke="#7F7F7F" stroke-width="1" />
<line x1="920.50" y1="615.50" x2="920.50" y2="619.00" stroke="#7F7F7F" stroke-width="1" />
<line x1="1039.50" y1="615.50" x2="1039.50" y2="619.00" stroke="#7F7F7F" stroke-width="1" />
<line x1="1159.50" y1="615.50" x2="1159.50" y2="619.00" stroke="#7F7F7F" stroke-width="1" />
<text x="745.50" y="627.10" font-family='"Liberation Sans", sans-serif' font-size="8.0" fill="#7F7F7F" text-anchor="middle" >2022</text>
<text x="865.32" y="627.10" font-family='"Liberation Sans", sans-serif' font-size="8.0" fill="#7F7F7F" text-anchor="middle" >2023</text>
<text x="985.13" y="627.10" font-family='"Liberation Sans", sans-serif' font-size="8.0" fill="#7F7F7F" text-anchor="middle" >2024</text>
<text x="1104.95" y="627.10" font-family='"Liberation Sans", sans-serif' font-size="8.0" fill="#7F7F7F" text-anchor="middle" >2025</text>
<text x="685.39" y="727.90" font-family='"Liberation Sans", sans-serif' font-size="6.7" fill="#A3A3A3" text-anchor="middle" >J</text>
<text x="695.38" y="727.90" font-family='"Liberation Sans", sans-serif' font-size="6.7" fill="#A3A3A3" text-anchor="middle" >F</text>
<text x="705.36" y="727.90" font-family='"Liberation Sans", sans-serif' font-size="6.7" fill="#A3A3A3" text-anchor="middle" >M</text>
<text x="715.35" y="727.90" font-family='"Liberation Sans", sans-serif' font-size="6.7" fill="#A3A3A3" text-anchor="middle" >A</text>
<text x="725.33" y="727.90" font-family='"Liberation Sans", sans-serif' font-size="6.7" fill="#A3A3A3" text-anchor="middle" >M</text>
<text x="735.32" y="727.90" font-family='"Liberation Sans", sans-serif' font-size="6.7" fill="#A3A3A3" text-anchor="middle" >J</text>
<text x="745.30" y="727.90" font-family='"Liberation Sans", sans-serif' font-size="6.7" fill="#A3A3A3" text-anchor="middle" >J</text>
<text x="755.29" y="727.90" font-family='"Liberation Sans", sans-serif' font-size="6.7" fill="#A3A3A3" text-anchor="middle" >A</text>
<text x="765.27" y="727.90" font-family='"Liberation Sans", sans-serif' font-size="6.7" fill="#A3A3A3" text-anchor="middle" >S</text>
<text x="775.25" y="727.90" font-family='"Liberation Sans", sans-serif' font-size="6.7" fill="#A3A3A3" text-anchor="middle" >O</text>
<text x="785.24" y="727.90" font-family='"Liberation Sans", sans-serif' font-size="6.7" fill="#A3A3A3" text-anchor="middle" >N</text>
<text x="795.22" y="727.90" font-family='"Liberation Sans", sans-serif' font-size="6.7" fill="#A3A3A3" text-anchor="middle" >D</text>
<text x="805.21" y="727.90" font-family='"Liberation Sans", sans-serif' font-size="6.7" fill="#A3A3A3" text-anchor="middle" >J</text>
<text x="815.19" y="727.90" font-family='"Liberation Sans", sans-serif' font-size="6.7" fill="#A3A3A3" text-anchor="middle" >F</text>
<text x="825.18" y="727.90" font-family='"Liberation Sans", sans-serif' font-size="6.7" fill="#A3A3A3" text-anchor="middle" >M</text>
<text x="835.16" y="727.90" font-family='"Liberation Sans", sans-serif' font-size="6.7" fill="#A3A3A3" text-anchor="middle" >A</text>
<text x="845.15" y="727.90" font-family='"Liberation Sans", sans-serif' font-size="6.7" fill="#A3A3A3" text-anchor="middle" >M</text>
<text x="855.13" y="727.90" font-family='"Liberation Sans", sans-serif' font-size="6.7" fill="#A3A3A3" text-anchor="middle" >J</text>
<text x="865.12" y="727.90" font-family='"Liberation Sans", sans-serif' font-size="6.7" fill="#A3A3A3" text-anchor="middle" >J</text>
<text x="875.10" y="727.90" font-family='"Liberation Sans", sans-serif' font-size="6.7" fill="#A3A3A3" text-anchor="middle" >A</text>
<text x="885.09" y="727.90" font-family='"Liberation Sans", sans-serif' font-size="6.7" fill="#A3A3A3" text-anchor="middle" >S</text>
<text x="895.07" y="727.90" font-family='"Liberation Sans", sans-serif' font-size="6.7" fill="#A3A3A3" text-anchor="middle" >O</text>
<text x="905.06" y="727.90" font-family='"Liberation Sans", sans-serif' font-size="6.7" fill="#A3A3A3" text-anchor="middle" >N</text>
<text x="915.04" y="727.90" font-family='"Liberation Sans", sans-serif' font-size="6.7" fill="#A3A3A3" text-anchor="middle" >D</text>
<text x="925.02" y="727.90" font-family='"Liberation Sans", sans-serif' font-size="6.7" fill="#A3A3A3" text-anchor="middle" >J</text>
<text x="935.01" y="727.90" font-family='"Liberation Sans", sans-serif' font-size="6.7" fill="#A3A3A3" text-anchor="middle" >F</text>
<text x="944.99" y="727.90" font-family='"Liberation Sans", sans-serif' font-size="6.7" fill="#A3A3A3" text-anchor="middle" >M</text>
<text x="954.98" y="727.90" font-family='"Liberation Sans", sans-serif' font-size="6.7" fill="#A3A3A3" text-anchor="middle" >A</text>
<text x="964.96" y="727.90" font-family='"Liberation Sans", sans-serif' font-size="6.7" fill="#A3A3A3" text-anchor="middle" >M</text>
<text x="974.95" y="727.90" font-family='"Liberation Sans", sans-serif' font-size="6.7" fill="#A3A3A3" text-anchor="middle" >J</text>
<text x="984.93" y="727.90" font-family='"Liberation Sans", sans-serif' font-size="6.7" fill="#A3A3A3" text-anchor="middle" >J</text>
<text x="994.92" y="727.90" font-family='"Liberation Sans", sans-serif' font-size="6.7" fill="#A3A3A3" text-anchor="middle" >A</text>
<text x="1004.90" y="727.90" font-family='"Liberation Sans", sans-serif' font-size="6.7" fill="#A3A3A3" text-anchor="middle" >S</text>
<text x="1014.89" y="727.90" font-family='"Liberation Sans", sans-serif' font-size="6.7" fill="#A3A3A3" text-anchor="middle" >O</text>
<text x="1024.87" y="727.90" font-family='"Liberation Sans", sans-serif' font-size="6.7" fill="#A3A3A3" text-anchor="middle" >N</text>
<text x="1034.86" y="727.90" font-family='"Liberation Sans", sans-serif' font-size="6.7" fill="#A3A3A3" text-anchor="middle" >D</text>
<text x="1044.84" y="727.90" font-family='"Liberation Sans", sans-serif' font-size="6.7" fill="#A3A3A3" text-anchor="middle" >J</text>
<text x="1054.83" y="727.90" font-family='"Liberation Sans", sans-serif' font-size="6.7" fill="#A3A3A3" text-anchor="middle" >F</text>
<text x="1064.81" y="727.90" font-family='"Liberation Sans", sans-serif' font-size="6.7" fill="#A3A3A3" text-anchor="middle" >M</text>
<text x="1074.80" y="727.90" font-family='"Liberation Sans", sans-serif' font-size="6.7" fill="#A3A3A3" text-anchor="middle" >A</text>
<text x="1084.78" y="727.90" font-family='"Liberation Sans", sans-serif' font-size="6.7" fill="#A3A3A3" text-anchor="middle" >M</text>
<text x="1094.76" y="727.90" font-family='"Liberation Sans", sans-serif' font-size="6.7" fill="#A3A3A3" text-anchor="middle" >J</text>
<text x="1104.75" y="727.90" font-family='"Liberation Sans", sans-serif' font-size="6.7" fill="#A3A3A3" text-anchor="middle" >J</text>
<text x="1114.73" y="727.90" font-family='"Liberation Sans", sans-serif' font-size="6.7" fill="#A3A3A3" text-anchor="middle" >A</text>
<text x="1124.72" y="727.90" font-family='"Liberation Sans", sans-serif' font-size="6.7" fill="#A3A3A3" text-anchor="middle" >S</text>
<text x="1134.70" y="727.90" font-family='"Liberation Sans", sans-serif' font-size="6.7" fill="#A3A3A3" text-anchor="middle" >O</text>
<text x="1144.69" y="727.90" font-family='"Liberation Sans", sans-serif' font-size="6.7" fill="#A3A3A3" text-anchor="middle" >N</text>
<text x="1154.67" y="727.90" font-family='"Liberation Sans", sans-serif' font-size="6.7" fill="#A3A3A3" text-anchor="middle" >D</text>
<text x="1164.66" y="727.90" font-family='"Liberation Sans", sans-serif' font-size="6.7" fill="#A3A3A3" text-anchor="middle" >J</text>
<line x1="680.00" y1="733.50" x2="1171.50" y2="733.50" stroke="#7F7F7F" stroke-width="1" />
<line x1="680.50" y1="730.50" x2="680.50" y2="733.50" stroke="#7F7F7F" stroke-width="1" />
<line x1="690.50" y1="730.50" x2="690.50" y2="733.50" stroke="#7F7F7F" stroke-width="1" />
<line x1="700.50" y1="730.50" x2="700.50" y2="733.50" stroke="#7F7F7F" stroke-width="1" />
<line x1="710.50" y1="730.50" x2="710.50" y2="733.50" stroke="#7F7F7F" stroke-width="1" />
<line x1="720.50" y1="730.50" x2="720.50" y2="733.50" stroke="#7F7F7F" stroke-width="1" />
<line x1="730.50" y1="730.50" x2="730.50" y2="733.50" stroke="#7F7F7F" stroke-width="1" />
<line x1="740.50" y1="730.50" x2="740.50" y2="733.50" stroke="#7F7F7F" stroke-width="1" />
<line x1="750.50" y1="730.50" x2="750.50" y2="733.50" stroke="#7F7F7F" stroke-width="1" />
<line x1="760.50" y1="730.50" x2="760.50" y2="733.50" stroke="#7F7F7F" stroke-width="1" />
<line x1="770.50" y1="730.50" x2="770.50" y2="733.50" stroke="#7F7F7F" stroke-width="1" />
<line x1="780.50" y1="730.50" x2="780.50" y2="733.50" stroke="#7F7F7F" stroke-width="1" />
<line x1="790.50" y1="730.50" x2="790.50" y2="733.50" stroke="#7F7F7F" stroke-width="1" />
<line x1="800.50" y1="730.50" x2="800.50" y2="733.50" stroke="#7F7F7F" stroke-width="1" />
<line x1="810.50" y1="730.50" x2="810.50" y2="733.50" stroke="#7F7F7F" stroke-width="1" />
<line x1="820.50" y1="730.50" x2="820.50" y2="733.50" stroke="#7F7F7F" stroke-width="1" />
<line x1="830.50" y1="730.50" x2="830.50" y2="733.50" stroke="#7F7F7F" stroke-width="1" />
<line x1="840.50" y1="730.50" x2="840.50" y2="733.50" stroke="#7F7F7F" stroke-width="1" />
<line x1="850.50" y1="730.50" x2="850.50" y2="733.50" stroke="#7F7F7F" stroke-width="1" />
<line x1="860.50" y1="730.50" x2="860.50" y2="733.50" stroke="#7F7F7F" stroke-width="1" />
<line x1="870.50" y1="730.50" x2="870.50" y2="733.50" stroke="#7F7F7F" stroke-width="1" />
<line x1="880.50" y1="730.50" x2="880.50" y2="733.50" stroke="#7F7F7F" stroke-width="1" />
<line x1="890.50" y1="730.50" x2="890.50" y2="733.50" stroke="#7F7F7F" stroke-width="1" />
<line x1="900.50" y1="730.50" x2="900.50" y2="733.50" stroke="#7F7F7F" stroke-width="1" />
<line x1="910.50" y1="730.50" x2="910.50" y2="733.50" stroke="#7F7F7F" stroke-width="1" />
<line x1="920.50" y1="730.50" x2="920.50" y2="733.50" stroke="#7F7F7F" stroke-width="1" />
<line x1="930.50" y1="730.50" x2="930.50" y2="733.50" stroke="#7F7F7F" stroke-width="1" />
<line x1="940.50" y1="730.50" x2="940.50" y2="733.50" stroke="#7F7F7F" stroke-width="1" />
<line x1="949.50" y1="730.50" x2="949.50" y2="733.50" stroke="#7F7F7F" stroke-width="1" />
<line x1="959.50" y1="730.50" x2="959.50" y2="733.50" stroke="#7F7F7F" stroke-width="1" />
<line x1="969.50" y1="730.50" x2="969.50" y2="733.50" stroke="#7F7F7F" stroke-width="1" />
<line x1="979.50" y1="730.50" x2="979.50" y2="733.50" stroke="#7F7F7F" stroke-width="1" />
<line x1="989.50" y1="730.50" x2="989.50" y2="733.50" stroke="#7F7F7F" stroke-width="1" />
<line x1="999.50" y1="730.50" x2="999.50" y2="733.50" stroke="#7F7F7F" stroke-width="1" />
<line x1="1009.50" y1="730.50" x2="1009.50" y2="733.50" stroke="#7F7F7F" stroke-width="1" />
<line x1="1019.50" y1="730.50" x2="1019.50" y2="733.50" stroke="#7F7F7F" stroke-width="1" />
<line x1="1029.50" y1="730.50" x2="1029.50" y2="733.50" stroke="#7F7F7F" stroke-width="1" />
<line x1="1039.50" y1="730.50" x2="1039.50" y2="733.50" stroke="#7F7F7F" stroke-width="1" />
<line x1="1049.50" y1="730.50" x2="1049.50" y2="733.50" stroke="#7F7F7F" stroke-width="1" />
<line x1="1059.50" y1="730.50" x2="1059.50" y2="733.50" stroke="#7F7F7F" stroke-width="1" />
<line x1="1069.50" y1="730.50" x2="1069.50" y2="733.50" stroke="#7F7F7F" stroke-width="1" />
<line x1="1079.50" y1="730.50" x2="1079.50" y2="733.50" stroke="#7F7F7F" stroke-width="1" />
<line x1="1089.50" y1="730.50" x2="1089.50" y2="733.50" stroke="#7F7F7F" stroke-width="1" />
<line x1="1099.50" y1="730.50" x2="1099.50" y2="733.50" stroke="#7F7F7F" stroke-width="1" />
<line x1="1109.50" y1="730.50" x2="1109.50" y2="733.50" stroke="#7F7F7F" stroke-width="1" />
<line x1="1119.50" y1="730.50" x2="1119.50" y2="733.50" stroke="#7F7F7F" stroke-width="1" />
<line x1="1129.50" y1="730.50" x2="1129.50" y2="733.50" stroke="#7F7F7F" stroke-width="1" />
<line x1="1139.50" y1="730.50" x2="1139.50" y2="733.50" stroke="#7F7F7F" stroke-width="1" />
<line x1="1149.50" y1="730.50" x2="1149.50" y2="733.50" stroke="#7F7F7F" stroke-width="1" />
<line x1="1159.50" y1="730.50" x2="1159.50" y2="733.50" stroke="#7F7F7F" stroke-width="1" />
<line x1="1169.50" y1="730.50" x2="1169.50" y2="733.50" stroke="#7F7F7F" stroke-width="1" />
<text transform="translate(628.90 674.30) rotate(-90)" text-anchor="middle" font-family='"Liberation Sans", sans-serif' font-weight="bold" font-size="8.8" fill="#8064A2" stroke="#8064A2" stroke-width="0.25" textLength="71.7" lengthAdjust="spacingAndGlyphs">Med. Pct. of Orig.</text>
<text transform="translate(640.60 674.80) rotate(-90)" text-anchor="middle" font-family='"Liberation Sans", sans-serif' font-weight="bold" font-size="8.8" fill="#8064A2" stroke="#8064A2" stroke-width="0.25" textLength="74.5" lengthAdjust="spacingAndGlyphs">List Price Received</text>
<text x="619.50" y="748.00" font-family='"Liberation Serif", serif' font-size="7.0" fill="#595959" textLength="521.50" lengthAdjust="spacingAndGlyphs" >Produced by Florida Realtors® with data provided by Florida's multiple listing services. Statistics for each month compiled from MLS feeds on the 10th day of the following month.</text>
<text x="619.50" y="757.10" font-family='"Liberation Serif", serif' font-size="7.0" fill="#595959" textLength="265.50" lengthAdjust="spacingAndGlyphs" >Data released on Tuesday, February 17, 2026. Next data release is Monday, March 16, 2026.</text>
</g>
</svg>
</body></html>
